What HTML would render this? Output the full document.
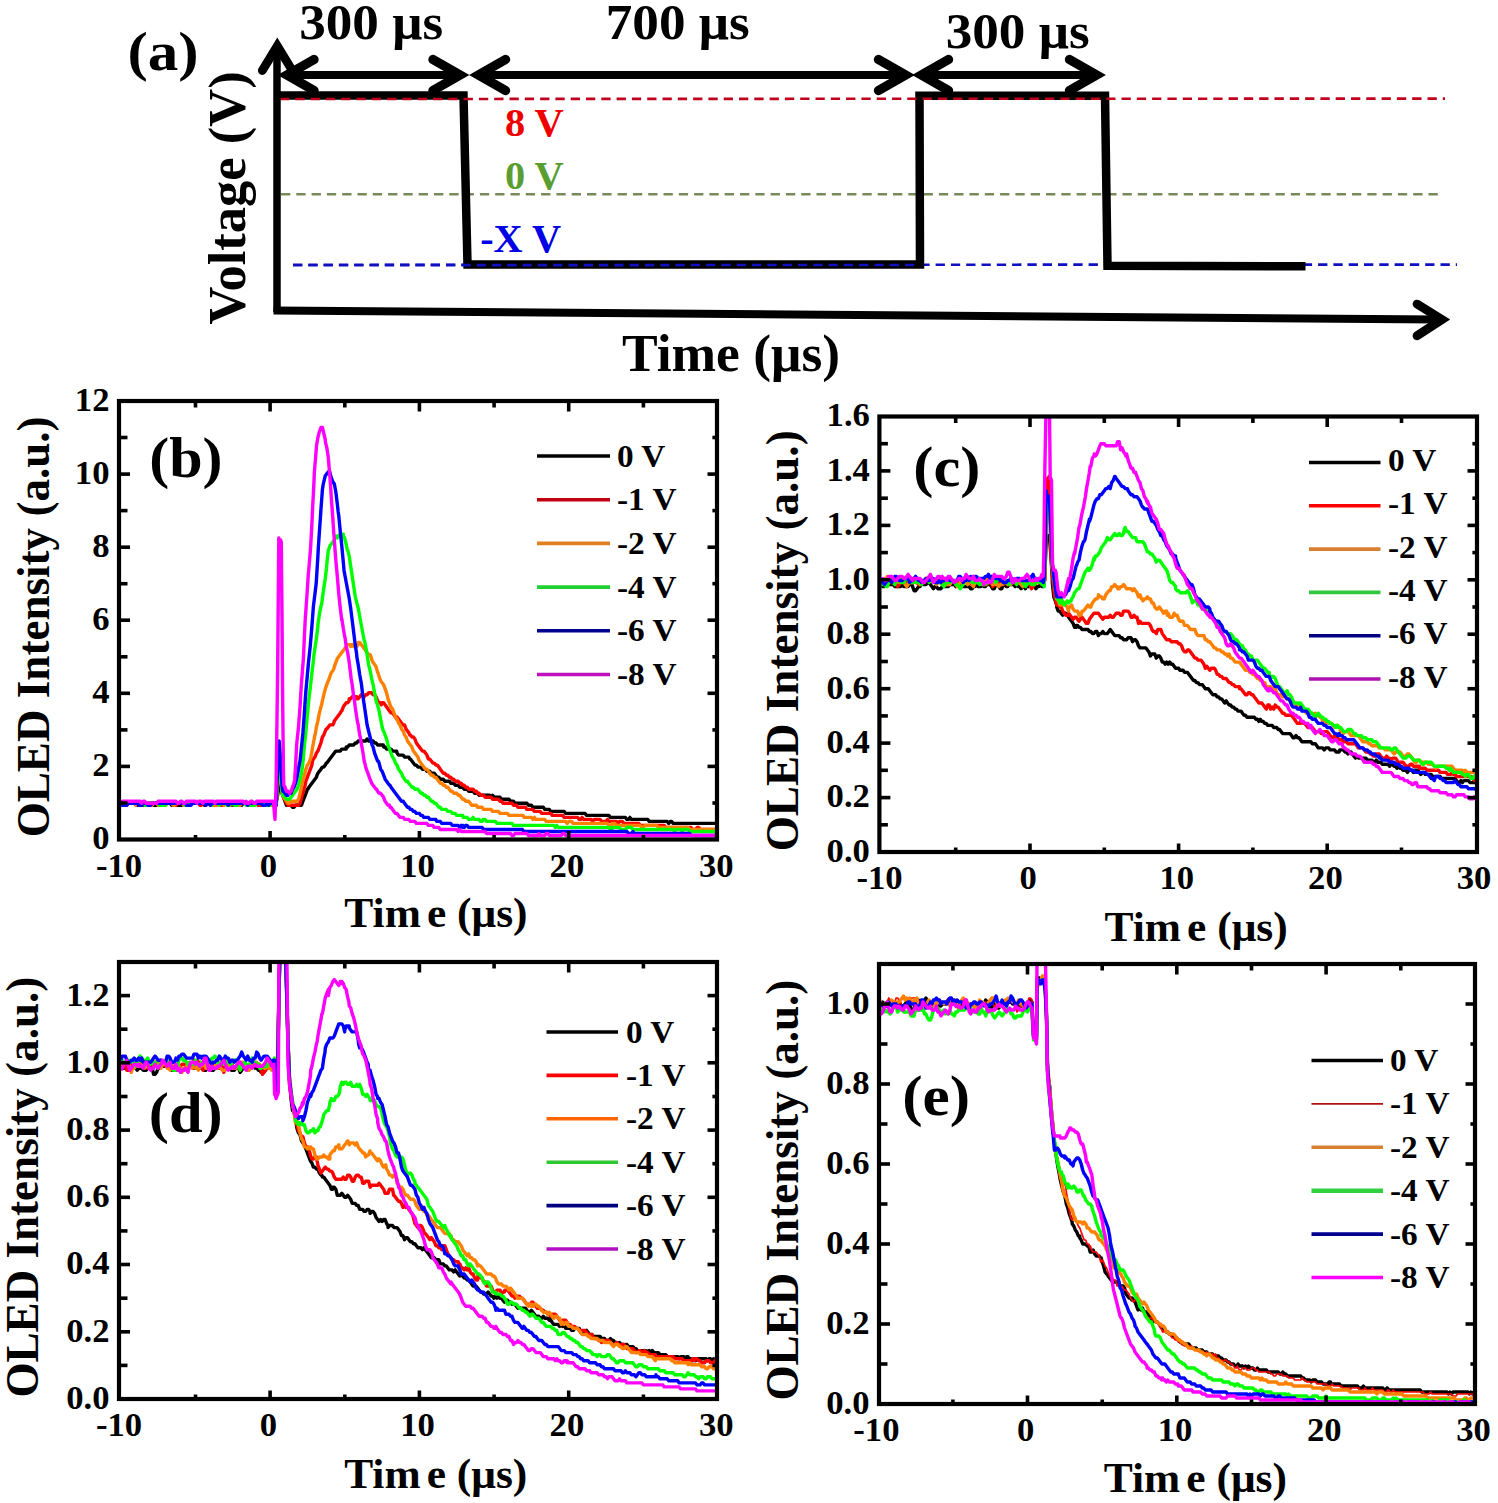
<!DOCTYPE html>
<html><head><meta charset="utf-8"><style>
html,body{margin:0;padding:0;background:#fff;}
svg{display:block;}
text{font-family:"Liberation Serif",serif;font-weight:bold;}
</style></head><body>
<svg width="1498" height="1503" viewBox="0 0 1498 1503">
<rect width="1498" height="1503" fill="#fff"/>
<line x1="281.0" y1="194.3" x2="1442.0" y2="194.3" stroke="#788a5a" stroke-width="2.6" stroke-dasharray="9.3 6"/>
<line x1="293.0" y1="264.8" x2="1457.0" y2="264.6" stroke="#1010c0" stroke-width="2.6" stroke-dasharray="9.3 6"/>
<path d="M277 95.5 L463.5 95.5 L467.5 264.5 L920 264.5 L919.5 95.7 L1105 95.7 L1107.5 265.8 L1305.5 266.3" fill="none" stroke="#000" stroke-width="8.5" stroke-linejoin="miter"/>
<line x1="280.0" y1="99.0" x2="1445.0" y2="98.6" stroke="#c0001e" stroke-width="2.6" stroke-dasharray="9.3 6"/>
<line x1="293.0" y1="265.2" x2="916.0" y2="265.0" stroke="#1010c0" stroke-width="2.6" stroke-dasharray="9.3 6"/>
<path d="M277 312 L277 52" stroke="#000" stroke-width="7.5" fill="none"/>
<path d="M262.3 70.5 L277.3 46 L292.3 70.5" stroke="#000" stroke-width="8.8" fill="none" stroke-linecap="round" stroke-linejoin="miter"/>
<path d="M273.5 310.5 L1438 319.5" stroke="#000" stroke-width="8" fill="none"/>
<path d="M1417 304.1 L1442 319.5 L1417 335.8" stroke="#000" stroke-width="8.8" fill="none" stroke-linecap="round"/>
<path d="M290 75 L457 75" stroke="#000" stroke-width="7.8" fill="none"/>
<path d="M314 59.5 L287 75 L314 90.5" stroke="#000" stroke-width="9.4" fill="none" stroke-linecap="round"/>
<path d="M433 59.5 L460 75 L433 90.5" stroke="#000" stroke-width="9.4" fill="none" stroke-linecap="round"/>
<path d="M481.5 75 L902.5 75" stroke="#000" stroke-width="7.8" fill="none"/>
<path d="M505.5 59.5 L478.5 75 L505.5 90.5" stroke="#000" stroke-width="9.4" fill="none" stroke-linecap="round"/>
<path d="M878.5 59.5 L905.5 75 L878.5 90.5" stroke="#000" stroke-width="9.4" fill="none" stroke-linecap="round"/>
<path d="M924.5 75 L1093.5 75" stroke="#000" stroke-width="7.8" fill="none"/>
<path d="M948.5 59.5 L921.5 75 L948.5 90.5" stroke="#000" stroke-width="9.4" fill="none" stroke-linecap="round"/>
<path d="M1069.5 59.5 L1096.5 75 L1069.5 90.5" stroke="#000" stroke-width="9.4" fill="none" stroke-linecap="round"/>
<text x="0" y="0" font-size="51.3" text-anchor="middle" fill="#000" transform="translate(371.15,39.20) scale(1.037,1.0)">300 μs</text>
<text x="0" y="0" font-size="51.3" text-anchor="middle" fill="#000" transform="translate(677.75,39.20) scale(1.037,1.0)">700 μs</text>
<text x="0" y="0" font-size="51.3" text-anchor="middle" fill="#000" transform="translate(1017.65,48.30) scale(1.037,1.0)">300 μs</text>
<text x="0" y="0" font-size="55.6" text-anchor="middle" fill="#000" transform="translate(163.00,69.60) scale(1.098,1.0)">(a)</text>
<text x="0" y="0" font-size="39.2" text-anchor="middle" fill="#ee0000" transform="translate(534.30,136.30) scale(1.03,1.0)">8 V</text>
<text x="0" y="0" font-size="39.2" text-anchor="middle" fill="#5a9e32" transform="translate(534.30,188.50) scale(1.03,1.0)">0 V</text>
<text x="0" y="0" font-size="39.5" text-anchor="middle" fill="#0000e6" transform="translate(520.60,252.20) scale(1.02,1.0)">-X V</text>
<text x="0" y="0" font-size="52.5" text-anchor="middle" fill="#000" transform="translate(244.60,198.00) rotate(-90) scale(1.0,1.0)">Voltage (V)</text>
<text x="731.0" y="371.1" font-size="53.5" text-anchor="middle" fill="#000">Time (μs)</text>
<clipPath id="clipb"><rect x="119" y="401" width="598" height="438.5"/></clipPath>
<g clip-path="url(#clipb)" fill="none" stroke-width="3.4" stroke-linejoin="round">
<polyline stroke="#000000" points="120.8,803.3 122.3,803.3 123.8,803.3 125.3,803.3 126.8,803.3 128.3,803.3 129.8,803.3 131.3,803.3 132.7,803.3 134.2,803.3 135.7,803.3 137.2,805.3 138.7,803.3 140.2,803.3 141.7,803.3 143.2,805.3 144.7,805.3 146.2,805.3 147.7,803.3 149.2,803.3 150.7,803.3 152.2,803.3 153.6,805.3 155.1,805.3 156.6,805.3 158.1,803.3 159.6,803.3 161.1,803.3 162.6,803.3 164.1,803.3 165.6,803.3 167.1,803.3 168.6,803.3 170.1,803.3 171.6,805.3 173.1,805.3 174.5,805.3 176.0,803.3 177.5,805.3 179.0,805.3 180.5,805.3 182.0,805.3 183.5,803.3 185.0,803.3 186.5,803.3 188.0,803.3 189.5,803.3 191.0,803.3 192.5,803.3 194.0,803.3 195.4,803.3 196.9,803.3 198.4,803.3 199.9,803.3 201.4,803.3 202.9,803.3 204.4,805.3 205.9,805.3 207.4,803.3 208.9,803.3 210.4,805.3 211.9,805.3 213.4,805.3 214.9,803.3 216.4,803.3 217.8,803.3 219.3,803.3 220.8,803.3 222.3,803.3 223.8,803.3 225.3,803.3 226.8,803.3 228.3,803.3 229.8,803.3 231.3,803.3 232.8,805.3 234.3,805.3 235.8,803.3 237.3,803.3 238.7,803.3 240.2,805.3 241.7,805.3 243.2,803.3 244.7,803.3 246.2,803.3 247.7,803.3 249.2,803.3 250.7,803.3 252.2,803.3 253.7,803.3 255.2,803.3 256.7,803.3 258.2,805.3 259.6,805.3 261.1,805.3 262.6,805.3 264.1,805.3 265.6,805.3 267.1,803.3 268.6,803.3 270.1,803.3 271.6,803.3 273.1,803.3 274.6,803.3 276.1,805.3 276.1,803.3 277.6,795.3 279.1,785.2 279.1,785.2 280.6,787.2 282.0,793.3 282.8,795.3 283.5,797.3 285.0,801.3 286.5,805.3 288.0,805.3 288.0,805.3 289.5,805.3 291.0,805.3 292.5,807.3 294.0,807.3 295.5,805.3 297.0,805.3 298.5,805.3 300.0,805.3 300.0,805.3 301.5,805.3 302.9,801.3 304.4,797.3 305.9,793.3 307.4,789.3 307.9,789.3 308.9,787.2 310.4,785.2 311.9,783.2 313.4,781.2 314.9,779.2 316.4,777.2 317.0,775.2 317.9,773.2 319.4,771.2 320.9,769.2 322.4,767.1 323.8,767.1 325.3,765.1 326.2,763.1 326.8,763.1 328.3,761.1 329.8,759.1 331.3,757.1 332.8,755.1 334.3,753.1 335.8,751.1 336.8,751.1 337.3,751.1 338.8,751.1 340.3,751.1 341.8,749.1 343.3,749.1 344.7,749.1 346.1,749.1 346.2,747.0 347.7,747.0 349.2,745.0 350.7,745.0 352.2,745.0 353.7,745.0 353.7,745.0 355.2,743.0 356.7,743.0 358.2,741.0 359.7,741.0 361.2,741.0 361.5,741.0 362.7,741.0 364.2,741.0 365.7,741.0 367.1,739.0 368.6,741.0 370.0,741.0 370.1,741.0 371.6,741.0 373.1,741.0 374.6,743.0 376.1,743.0 377.6,745.0 379.1,745.0 380.6,745.0 382.1,745.0 383.3,745.0 383.6,747.0 385.1,747.0 386.6,749.1 388.0,749.1 389.5,749.1 391.0,749.1 392.5,751.1 394.0,751.1 395.5,751.1 396.6,751.1 397.0,753.1 398.5,755.1 400.0,755.1 401.5,755.1 403.0,755.1 404.5,757.1 406.0,757.1 407.5,757.1 408.9,757.1 409.8,759.1 410.4,759.1 411.9,761.1 413.4,763.1 414.9,765.1 416.4,765.1 417.9,767.1 417.9,767.1 419.4,767.1 420.9,767.1 422.4,769.2 423.9,769.2 425.4,769.2 426.9,771.2 428.4,771.2 429.9,771.2 429.9,773.2 431.3,773.2 432.8,773.2 434.3,773.2 435.8,775.2 437.3,777.2 438.8,777.2 440.3,779.2 441.8,779.2 443.3,779.2 443.3,779.2 444.8,781.2 446.3,781.2 447.8,781.2 449.3,781.2 450.8,783.2 452.2,783.2 453.7,783.2 455.2,785.2 456.4,785.2 456.7,785.2 458.2,785.2 459.7,787.2 461.2,787.2 462.7,787.2 464.2,789.3 465.7,789.3 467.2,789.3 468.7,791.3 470.2,791.3 471.7,791.3 473.1,791.3 474.6,793.3 476.1,793.3 476.4,793.3 477.6,793.3 479.1,795.3 480.6,795.3 482.1,795.3 483.6,795.3 485.1,795.3 486.6,795.3 488.1,795.3 489.6,795.3 491.1,797.3 492.6,795.3 494.0,797.3 495.5,797.3 496.4,797.3 497.0,797.3 498.5,797.3 500.0,797.3 501.5,799.3 503.0,799.3 504.5,799.3 506.0,799.3 507.5,799.3 509.0,799.3 510.5,801.3 512.0,801.3 513.5,801.3 515.0,803.3 516.4,803.3 517.9,803.3 519.4,803.3 520.9,803.3 522.4,803.3 523.0,803.3 523.9,803.3 525.4,803.3 526.9,803.3 528.4,805.3 529.9,805.3 531.4,805.3 532.9,807.3 534.4,807.3 535.9,807.3 537.3,807.3 538.8,807.3 540.3,807.3 541.8,807.3 543.3,807.3 544.8,809.4 546.3,809.4 547.8,809.4 549.3,809.4 550.8,811.4 552.3,811.4 553.8,811.4 555.3,811.4 556.3,811.4 556.8,811.4 558.2,811.4 559.7,811.4 561.2,811.4 562.7,811.4 564.2,811.4 565.7,813.4 567.2,813.4 568.7,813.4 570.2,813.4 571.7,813.4 573.2,813.4 574.7,813.4 576.2,813.4 576.2,813.4 577.7,813.4 579.2,813.4 580.6,813.4 582.1,813.4 583.6,813.4 585.1,813.4 586.6,815.4 588.1,815.4 589.6,815.4 591.1,815.4 592.6,815.4 594.1,815.4 595.6,815.4 597.1,815.4 598.6,815.4 600.1,815.4 601.5,815.4 603.0,815.4 604.5,815.4 606.0,815.4 607.5,815.4 609.0,815.4 610.5,817.4 612.0,817.4 612.0,817.4 613.5,817.4 615.0,817.4 616.5,817.4 618.0,817.4 619.5,817.4 621.0,817.4 622.4,817.4 623.9,817.4 625.4,817.4 626.9,819.4 628.4,819.4 629.9,817.4 631.4,819.4 632.9,819.4 634.4,819.4 635.9,819.4 637.4,819.4 638.9,819.4 640.4,819.4 641.9,819.4 643.3,819.4 644.8,819.4 646.3,819.4 647.8,819.4 647.8,819.4 649.3,821.4 650.8,821.4 652.3,821.4 653.8,821.4 655.3,821.4 656.8,821.4 658.3,821.4 659.8,821.4 661.3,821.4 662.8,821.4 664.3,821.4 665.7,821.4 667.2,821.4 668.7,823.4 670.2,821.4 671.7,821.4 673.2,823.4 674.7,823.4 676.2,823.4 677.7,823.4 679.2,823.4 680.7,823.4 682.2,823.4 683.7,823.4 683.7,823.4 685.2,823.4 686.6,823.4 688.1,823.4 689.6,823.4 691.1,823.4 692.6,823.4 694.1,823.4 695.6,823.4 697.1,823.4 698.6,823.4 700.1,823.4 701.6,823.4 703.1,823.4 704.6,823.4 706.1,823.4 707.5,823.4 709.0,823.4 710.5,823.4 712.0,823.4 713.5,823.4 715.0,823.4 716.5,823.4 718.0,823.4 718.0,823.4"/>
<polyline stroke="#ff0000" points="120.8,803.3 122.3,803.3 123.8,805.3 125.3,805.3 126.8,805.3 128.3,803.3 129.8,803.3 131.3,803.3 132.7,803.3 134.2,803.3 135.7,803.3 137.2,803.3 138.7,803.3 140.2,803.3 141.7,803.3 143.2,803.3 144.7,803.3 146.2,805.3 147.7,805.3 149.2,803.3 150.7,803.3 152.2,803.3 153.6,803.3 155.1,803.3 156.6,803.3 158.1,803.3 159.6,803.3 161.1,803.3 162.6,803.3 164.1,803.3 165.6,803.3 167.1,803.3 168.6,803.3 170.1,803.3 171.6,803.3 173.1,803.3 174.5,805.3 176.0,805.3 177.5,803.3 179.0,803.3 180.5,803.3 182.0,803.3 183.5,803.3 185.0,803.3 186.5,803.3 188.0,803.3 189.5,803.3 191.0,803.3 192.5,803.3 194.0,803.3 195.4,803.3 196.9,803.3 198.4,803.3 199.9,805.3 201.4,805.3 202.9,803.3 204.4,803.3 205.9,803.3 207.4,803.3 208.9,803.3 210.4,805.3 211.9,805.3 213.4,805.3 214.9,805.3 216.4,803.3 217.8,803.3 219.3,803.3 220.8,805.3 222.3,805.3 223.8,803.3 225.3,803.3 226.8,803.3 228.3,803.3 229.8,803.3 231.3,805.3 232.8,803.3 234.3,803.3 235.8,803.3 237.3,805.3 238.7,803.3 240.2,803.3 241.7,803.3 243.2,803.3 244.7,803.3 246.2,803.3 247.7,803.3 249.2,803.3 250.7,803.3 252.2,803.3 253.7,803.3 255.2,803.3 256.7,803.3 258.2,805.3 259.6,805.3 261.1,805.3 262.6,805.3 264.1,803.3 265.6,803.3 267.1,803.3 268.6,803.3 270.1,803.3 271.6,803.3 273.1,803.3 274.6,803.3 276.1,803.3 276.1,803.3 277.6,785.2 279.1,767.1 279.1,765.1 280.6,775.2 282.0,791.3 282.8,795.3 283.5,797.3 285.0,799.3 286.5,803.3 288.0,805.3 289.5,805.3 291.0,805.3 291.0,805.3 292.5,805.3 294.0,805.3 295.5,805.3 297.0,805.3 298.5,805.3 298.5,805.3 300.0,803.3 301.5,797.3 302.9,793.3 304.4,787.2 304.7,787.2 305.9,781.2 307.4,777.2 308.9,773.2 310.4,769.2 311.9,765.1 312.5,761.1 313.4,759.1 314.9,757.1 316.4,753.1 317.9,751.1 318.6,749.1 319.4,747.0 320.9,743.0 322.4,737.0 323.8,735.0 325.3,731.0 326.2,729.0 326.8,729.0 328.3,727.0 329.8,724.9 331.3,724.9 332.8,724.9 333.9,722.9 334.3,720.9 335.8,718.9 337.3,716.9 338.8,714.9 340.3,712.9 341.5,710.9 341.8,710.9 343.3,706.9 344.7,704.8 346.2,702.8 347.7,702.8 349.2,700.8 349.2,698.8 350.7,698.8 352.2,696.8 353.7,696.8 355.2,696.8 356.7,696.8 356.8,698.8 358.2,698.8 359.7,696.8 361.2,694.8 362.7,694.8 364.2,696.8 365.7,694.8 367.1,694.8 368.6,692.8 369.1,692.8 370.1,692.8 371.6,692.8 373.1,694.8 374.6,694.8 376.1,696.8 377.6,700.8 379.1,702.8 380.6,702.8 381.3,704.8 382.1,702.8 383.6,702.8 385.1,704.8 386.6,706.9 388.0,708.9 389.5,710.9 391.0,712.9 392.5,712.9 394.0,714.9 395.5,716.9 396.6,718.9 397.0,716.9 398.5,718.9 400.0,720.9 401.5,722.9 403.0,724.9 404.5,724.9 406.0,729.0 407.5,731.0 408.9,733.0 409.8,735.0 410.4,735.0 411.9,737.0 413.4,737.0 414.9,739.0 416.4,743.0 417.9,745.0 419.4,747.0 420.9,749.1 422.4,751.1 423.1,751.1 423.9,751.1 425.4,753.1 426.9,755.1 428.4,759.1 429.9,759.1 431.3,761.1 432.8,763.1 434.3,763.1 435.8,765.1 436.6,765.1 437.3,765.1 438.8,767.1 440.3,769.2 441.8,771.2 443.3,773.2 444.8,773.2 446.3,775.2 447.8,775.2 449.3,777.2 449.9,777.2 450.8,777.2 452.2,779.2 453.7,779.2 455.2,781.2 456.7,781.2 458.2,781.2 459.7,783.2 461.2,783.2 462.7,785.2 463.1,785.2 464.2,785.2 465.7,787.2 467.2,787.2 468.7,789.3 470.2,789.3 471.7,789.3 473.1,789.3 474.6,791.3 476.1,791.3 476.4,791.3 477.6,793.3 479.1,793.3 480.6,795.3 482.1,795.3 483.6,795.3 485.1,797.3 486.6,797.3 488.1,797.3 489.6,797.3 491.1,797.3 492.6,799.3 494.0,799.3 495.5,799.3 496.4,799.3 497.0,799.3 498.5,799.3 500.0,801.3 501.5,801.3 503.0,803.3 504.5,803.3 506.0,803.3 507.5,803.3 509.0,803.3 510.5,803.3 512.0,803.3 513.5,805.3 515.0,805.3 516.4,805.3 517.9,807.3 519.4,807.3 520.9,807.3 522.4,807.3 523.0,807.3 523.9,807.3 525.4,807.3 526.9,809.4 528.4,809.4 529.9,809.4 531.4,809.4 532.9,809.4 534.4,811.4 535.9,811.4 537.3,811.4 538.8,811.4 540.3,811.4 541.8,813.4 543.3,813.4 544.8,813.4 546.3,813.4 547.8,813.4 549.3,813.4 550.8,813.4 552.3,815.4 553.8,815.4 555.3,815.4 556.3,815.4 556.8,815.4 558.2,815.4 559.7,815.4 561.2,815.4 562.7,815.4 564.2,817.4 565.7,817.4 567.2,817.4 568.7,817.4 570.2,817.4 571.7,817.4 573.2,817.4 574.7,817.4 576.2,817.4 576.2,817.4 577.7,817.4 579.2,819.4 580.6,819.4 582.1,817.4 583.6,819.4 585.1,819.4 586.6,819.4 588.1,819.4 589.6,819.4 591.1,819.4 592.6,821.4 594.1,819.4 595.6,819.4 597.1,819.4 598.6,819.4 600.1,819.4 601.5,821.4 603.0,821.4 604.5,821.4 606.0,821.4 607.5,819.4 609.0,821.4 610.5,821.4 612.0,821.4 612.0,821.4 613.5,821.4 615.0,821.4 616.5,821.4 618.0,823.4 619.5,821.4 621.0,821.4 622.4,821.4 623.9,823.4 625.4,823.4 626.9,823.4 628.4,823.4 629.9,823.4 631.4,823.4 632.9,823.4 634.4,823.4 635.9,823.4 637.4,823.4 638.9,823.4 640.4,825.4 641.9,825.4 643.3,825.4 644.8,825.4 646.3,825.4 647.8,825.4 647.8,825.4 649.3,825.4 650.8,825.4 652.3,825.4 653.8,825.4 655.3,825.4 656.8,825.4 658.3,825.4 659.8,825.4 661.3,825.4 662.8,825.4 664.3,825.4 665.7,827.4 667.2,827.4 668.7,827.4 670.2,827.4 671.7,827.4 673.2,827.4 674.7,827.4 676.2,827.4 677.7,827.4 679.2,827.4 680.7,827.4 682.2,827.4 683.7,827.4 683.7,827.4 685.2,827.4 686.6,827.4 688.1,827.4 689.6,827.4 691.1,827.4 692.6,829.5 694.1,829.5 695.6,829.5 697.1,827.4 698.6,827.4 700.1,829.5 701.6,829.5 703.1,829.5 704.6,829.5 706.1,829.5 707.5,829.5 709.0,829.5 710.5,829.5 712.0,829.5 713.5,829.5 715.0,829.5 716.5,829.5 718.0,829.5 718.0,829.5"/>
<polyline stroke="#ff8000" points="120.8,803.3 122.3,805.3 123.8,805.3 125.3,803.3 126.8,803.3 128.3,803.3 129.8,803.3 131.3,803.3 132.7,803.3 134.2,803.3 135.7,805.3 137.2,803.3 138.7,803.3 140.2,803.3 141.7,803.3 143.2,803.3 144.7,803.3 146.2,803.3 147.7,803.3 149.2,803.3 150.7,803.3 152.2,805.3 153.6,803.3 155.1,803.3 156.6,803.3 158.1,805.3 159.6,805.3 161.1,805.3 162.6,805.3 164.1,805.3 165.6,805.3 167.1,803.3 168.6,803.3 170.1,803.3 171.6,803.3 173.1,805.3 174.5,805.3 176.0,803.3 177.5,803.3 179.0,803.3 180.5,803.3 182.0,803.3 183.5,805.3 185.0,803.3 186.5,803.3 188.0,803.3 189.5,805.3 191.0,803.3 192.5,803.3 194.0,803.3 195.4,803.3 196.9,803.3 198.4,803.3 199.9,803.3 201.4,803.3 202.9,803.3 204.4,803.3 205.9,803.3 207.4,803.3 208.9,803.3 210.4,803.3 211.9,805.3 213.4,805.3 214.9,805.3 216.4,805.3 217.8,805.3 219.3,803.3 220.8,803.3 222.3,803.3 223.8,805.3 225.3,803.3 226.8,805.3 228.3,803.3 229.8,803.3 231.3,803.3 232.8,803.3 234.3,803.3 235.8,803.3 237.3,805.3 238.7,805.3 240.2,805.3 241.7,803.3 243.2,803.3 244.7,803.3 246.2,803.3 247.7,803.3 249.2,803.3 250.7,803.3 252.2,803.3 253.7,803.3 255.2,803.3 256.7,803.3 258.2,803.3 259.6,803.3 261.1,803.3 262.6,805.3 264.1,805.3 265.6,805.3 267.1,805.3 268.6,803.3 270.1,805.3 271.6,805.3 273.1,805.3 274.6,803.3 276.1,803.3 276.1,803.3 277.6,783.2 279.1,765.1 279.1,767.1 280.6,777.2 282.0,791.3 282.8,795.3 283.5,797.3 285.0,799.3 286.5,801.3 288.0,803.3 289.5,803.3 289.5,803.3 291.0,801.3 292.5,801.3 294.0,801.3 295.5,801.3 297.0,801.3 297.0,801.3 298.5,799.3 300.0,793.3 301.5,787.2 302.9,779.2 303.2,779.2 304.4,775.2 305.9,769.2 307.4,765.1 308.9,763.1 310.4,759.1 310.9,757.1 311.9,751.1 313.4,743.0 314.9,735.0 315.5,733.0 316.4,727.0 317.9,720.9 319.4,712.9 320.9,706.9 321.6,704.8 322.4,700.8 323.8,694.8 325.3,688.8 326.8,684.7 328.3,680.7 329.2,678.7 329.8,676.7 331.3,672.7 332.8,670.7 333.9,668.7 334.3,666.7 335.8,662.6 337.3,658.6 338.8,656.6 340.3,654.6 341.5,652.6 341.8,652.6 343.3,650.6 344.7,648.6 346.2,646.6 347.7,644.6 349.2,644.6 350.7,644.6 350.7,646.6 352.2,644.6 353.7,646.6 355.2,644.6 356.7,646.6 358.2,644.6 358.3,642.5 359.7,642.5 361.2,644.6 362.7,646.6 364.2,648.6 364.2,648.6 365.7,650.6 367.1,652.6 368.6,654.6 370.1,654.6 371.6,658.6 372.1,660.6 373.1,662.6 374.6,664.6 376.1,666.7 377.6,672.7 378.0,672.7 379.1,676.7 380.6,680.7 382.1,682.7 383.6,684.7 385.1,688.8 386.6,692.8 388.0,698.8 389.5,702.8 390.0,704.8 391.0,706.9 392.5,708.9 394.0,712.9 395.5,716.9 397.0,718.9 398.5,722.9 400.0,724.9 401.5,729.0 403.0,731.0 403.3,731.0 404.5,735.0 406.0,737.0 407.5,741.0 408.9,743.0 410.4,745.0 411.9,747.0 413.4,751.1 414.9,753.1 416.4,755.1 416.6,755.1 417.9,757.1 419.4,761.1 420.9,763.1 422.4,765.1 423.9,767.1 425.4,769.2 426.9,769.2 428.4,771.2 429.9,773.2 429.9,773.2 431.3,775.2 432.8,775.2 434.3,777.2 435.8,777.2 437.3,779.2 438.8,781.2 440.3,783.2 441.8,783.2 443.3,785.2 443.3,785.2 444.8,785.2 446.3,787.2 447.8,787.2 449.3,789.3 450.8,791.3 452.2,791.3 453.7,793.3 455.2,793.3 456.4,793.3 456.7,793.3 458.2,795.3 459.7,795.3 461.2,797.3 462.7,799.3 464.2,799.3 465.7,801.3 467.2,801.3 468.7,801.3 470.2,803.3 471.7,805.3 473.1,805.3 474.6,805.3 476.1,805.3 476.4,805.3 477.6,807.3 479.1,807.3 480.6,807.3 482.1,807.3 483.6,809.4 485.1,809.4 486.6,809.4 488.1,809.4 489.6,809.4 491.1,809.4 492.6,811.4 494.0,811.4 495.5,811.4 496.4,811.4 497.0,811.4 498.5,811.4 500.0,813.4 501.5,813.4 503.0,813.4 504.5,813.4 506.0,813.4 507.5,813.4 509.0,815.4 510.5,815.4 512.0,815.4 513.5,815.4 515.0,815.4 516.4,815.4 517.9,815.4 519.4,815.4 520.9,815.4 522.4,815.4 523.0,815.4 523.9,817.4 525.4,817.4 526.9,817.4 528.4,817.4 529.9,817.4 531.4,817.4 532.9,819.4 534.4,817.4 535.9,819.4 537.3,819.4 538.8,819.4 540.3,819.4 541.8,819.4 543.3,819.4 544.8,819.4 546.3,821.4 547.8,821.4 549.3,821.4 550.8,821.4 552.3,821.4 553.8,821.4 555.3,821.4 556.3,821.4 556.8,821.4 558.2,821.4 559.7,821.4 561.2,821.4 562.7,821.4 564.2,821.4 565.7,821.4 567.2,823.4 568.7,821.4 570.2,821.4 571.7,821.4 573.2,823.4 574.7,823.4 576.2,823.4 577.7,823.4 579.2,823.4 580.6,823.4 582.1,823.4 583.6,823.4 585.1,823.4 586.6,823.4 588.1,823.4 589.6,823.4 591.1,823.4 592.6,823.4 594.1,823.4 595.6,823.4 597.1,823.4 598.6,823.4 600.1,823.4 601.5,823.4 603.0,823.4 604.5,823.4 606.0,823.4 607.5,823.4 609.0,825.4 610.5,825.4 612.0,825.4 612.0,823.4 613.5,823.4 615.0,823.4 616.5,825.4 618.0,825.4 619.5,825.4 621.0,825.4 622.4,825.4 623.9,825.4 625.4,825.4 626.9,825.4 628.4,825.4 629.9,825.4 631.4,825.4 632.9,825.4 634.4,825.4 635.9,825.4 637.4,825.4 638.9,825.4 640.4,825.4 641.9,827.4 643.3,827.4 644.8,825.4 646.3,825.4 647.8,825.4 647.8,825.4 649.3,825.4 650.8,825.4 652.3,825.4 653.8,825.4 655.3,825.4 656.8,825.4 658.3,827.4 659.8,827.4 661.3,827.4 662.8,827.4 664.3,827.4 665.7,827.4 667.2,827.4 668.7,827.4 670.2,827.4 671.7,827.4 673.2,827.4 674.7,827.4 676.2,827.4 677.7,827.4 679.2,827.4 680.7,827.4 682.2,827.4 683.7,827.4 685.2,827.4 686.6,827.4 688.1,827.4 689.6,829.5 691.1,829.5 692.6,829.5 694.1,829.5 695.6,829.5 697.1,829.5 698.6,829.5 700.1,829.5 701.6,829.5 703.1,829.5 704.6,829.5 706.1,829.5 707.5,829.5 709.0,829.5 710.5,829.5 712.0,829.5 713.5,829.5 715.0,829.5 716.5,829.5 718.0,829.5 718.0,829.5"/>
<polyline stroke="#00ff00" points="120.8,803.3 122.3,803.3 123.8,805.3 125.3,803.3 126.8,803.3 128.3,803.3 129.8,803.3 131.3,803.3 132.7,803.3 134.2,803.3 135.7,803.3 137.2,803.3 138.7,803.3 140.2,803.3 141.7,803.3 143.2,803.3 144.7,805.3 146.2,805.3 147.7,805.3 149.2,803.3 150.7,803.3 152.2,803.3 153.6,803.3 155.1,803.3 156.6,803.3 158.1,803.3 159.6,805.3 161.1,805.3 162.6,805.3 164.1,805.3 165.6,805.3 167.1,803.3 168.6,803.3 170.1,803.3 171.6,803.3 173.1,803.3 174.5,803.3 176.0,803.3 177.5,803.3 179.0,803.3 180.5,803.3 182.0,803.3 183.5,803.3 185.0,805.3 186.5,805.3 188.0,805.3 189.5,803.3 191.0,803.3 192.5,803.3 194.0,803.3 195.4,803.3 196.9,803.3 198.4,803.3 199.9,803.3 201.4,803.3 202.9,803.3 204.4,803.3 205.9,803.3 207.4,803.3 208.9,803.3 210.4,803.3 211.9,805.3 213.4,803.3 214.9,803.3 216.4,803.3 217.8,803.3 219.3,805.3 220.8,803.3 222.3,803.3 223.8,803.3 225.3,803.3 226.8,805.3 228.3,805.3 229.8,805.3 231.3,803.3 232.8,803.3 234.3,805.3 235.8,805.3 237.3,805.3 238.7,803.3 240.2,803.3 241.7,803.3 243.2,803.3 244.7,803.3 246.2,805.3 247.7,805.3 249.2,805.3 250.7,805.3 252.2,805.3 253.7,805.3 255.2,805.3 256.7,803.3 258.2,803.3 259.6,803.3 261.1,803.3 262.6,803.3 264.1,803.3 265.6,803.3 267.1,805.3 268.6,803.3 270.1,805.3 271.6,803.3 273.1,803.3 274.6,803.3 276.1,805.3 276.1,805.3 277.6,781.2 279.1,759.1 279.1,759.1 280.6,771.2 282.0,791.3 282.8,795.3 283.5,795.3 285.0,797.3 286.5,799.3 288.0,799.3 288.0,799.3 289.5,799.3 291.0,797.3 292.5,795.3 294.0,793.3 295.5,791.3 295.5,791.3 297.0,789.3 298.5,785.2 300.0,779.2 301.5,773.2 301.8,771.2 302.9,763.1 304.4,745.0 305.6,735.0 305.9,731.0 307.4,714.9 308.9,698.8 309.4,694.8 310.4,686.8 311.9,672.7 313.4,660.6 314.0,654.6 314.9,648.6 316.4,638.5 317.9,626.5 317.9,624.5 319.4,614.4 320.9,606.4 321.6,604.4 322.4,598.3 323.8,588.3 325.3,578.2 326.5,568.2 326.8,564.2 328.3,550.1 328.6,550.1 329.8,546.1 331.3,544.1 331.3,544.1 332.8,542.1 334.3,540.0 335.8,536.0 337.3,538.0 337.3,536.0 338.8,536.0 340.3,534.0 341.8,536.0 343.3,534.0 343.3,536.0 344.7,538.0 345.0,540.0 346.2,544.1 347.3,550.1 347.7,550.1 349.2,556.1 349.8,560.1 350.7,566.2 352.2,576.2 353.7,586.3 354.3,590.3 355.2,596.3 356.7,602.3 358.2,608.4 358.3,608.4 359.7,616.4 361.2,624.5 362.7,632.5 364.2,640.5 364.5,640.5 365.7,646.6 367.1,654.6 368.6,664.6 370.1,670.7 370.6,672.7 371.6,678.7 373.1,684.7 374.6,692.8 376.1,700.8 376.7,702.8 377.6,704.8 379.1,710.9 380.6,718.9 382.1,727.0 383.3,731.0 383.6,731.0 385.1,735.0 386.6,739.0 388.0,745.0 389.5,749.1 391.0,753.1 392.5,757.1 392.5,757.1 394.0,759.1 395.5,763.1 397.0,765.1 398.5,769.2 400.0,771.2 401.5,773.2 403.0,777.2 403.3,777.2 404.5,779.2 406.0,781.2 407.5,781.2 408.9,783.2 410.4,785.2 411.9,787.2 413.4,787.2 414.9,789.3 416.4,789.3 416.6,789.3 417.9,789.3 419.4,791.3 420.9,793.3 422.4,793.3 423.9,795.3 425.4,795.3 426.9,797.3 428.4,797.3 429.9,799.3 429.9,799.3 431.3,801.3 432.8,801.3 434.3,803.3 435.8,803.3 437.3,805.3 438.8,807.3 440.3,807.3 441.8,809.4 443.3,809.4 443.3,809.4 444.8,809.4 446.3,809.4 447.8,811.4 449.3,811.4 450.8,811.4 452.2,813.4 453.7,813.4 455.2,813.4 456.7,815.4 458.2,815.4 459.7,815.4 461.2,815.4 462.7,815.4 463.1,817.4 464.2,817.4 465.7,817.4 467.2,817.4 468.7,819.4 470.2,819.4 471.7,819.4 473.1,817.4 474.6,819.4 476.1,819.4 477.6,819.4 479.1,819.4 480.6,821.4 482.1,821.4 483.2,819.4 483.6,819.4 485.1,819.4 486.6,821.4 488.1,821.4 489.6,821.4 491.1,821.4 492.6,821.4 494.0,821.4 495.5,821.4 497.0,823.4 498.5,823.4 500.0,823.4 501.5,823.4 503.0,823.4 504.5,823.4 506.0,823.4 507.5,823.4 509.0,823.4 509.7,823.4 510.5,823.4 512.0,823.4 513.5,825.4 515.0,825.4 516.4,825.4 517.9,825.4 519.4,825.4 520.9,825.4 522.4,825.4 523.9,825.4 525.4,825.4 526.9,825.4 528.4,825.4 529.9,825.4 531.4,825.4 532.9,825.4 534.4,825.4 535.9,825.4 537.3,825.4 538.8,825.4 538.8,825.4 540.3,825.4 541.8,825.4 543.3,825.4 544.8,825.4 546.3,825.4 547.8,825.4 549.3,825.4 550.8,825.4 552.3,825.4 553.8,825.4 555.3,827.4 556.8,825.4 558.2,827.4 559.7,827.4 561.2,827.4 562.7,827.4 564.2,827.4 565.7,827.4 567.2,827.4 568.7,827.4 570.2,827.4 571.7,827.4 573.2,827.4 574.7,827.4 576.2,827.4 577.7,827.4 579.2,827.4 580.6,827.4 582.1,827.4 583.6,827.4 585.1,827.4 586.6,827.4 588.1,827.4 589.6,827.4 591.1,827.4 592.6,827.4 594.1,827.4 595.6,827.4 597.1,827.4 598.6,827.4 600.1,827.4 601.5,827.4 603.0,827.4 604.5,827.4 606.0,827.4 607.5,827.4 609.0,827.4 610.5,829.5 612.0,829.5 612.0,827.4 613.5,827.4 615.0,827.4 616.5,827.4 618.0,827.4 619.5,827.4 621.0,829.5 622.4,829.5 623.9,829.5 625.4,829.5 626.9,827.4 628.4,827.4 629.9,827.4 631.4,827.4 632.9,829.5 634.4,829.5 635.9,829.5 637.4,829.5 638.9,829.5 640.4,829.5 641.9,829.5 643.3,829.5 644.8,829.5 646.3,829.5 647.8,829.5 649.3,829.5 650.8,829.5 652.3,829.5 653.8,829.5 655.3,829.5 656.8,829.5 658.3,829.5 659.8,829.5 661.3,829.5 662.8,829.5 664.3,829.5 665.7,829.5 667.2,829.5 668.7,829.5 670.2,829.5 671.7,829.5 673.2,829.5 674.7,831.5 676.2,829.5 677.7,829.5 679.2,829.5 680.7,829.5 682.2,831.5 683.7,829.5 685.2,829.5 686.6,829.5 688.1,829.5 689.6,831.5 691.1,831.5 692.6,831.5 694.1,831.5 695.6,831.5 697.1,831.5 698.6,831.5 700.1,831.5 701.6,831.5 703.1,831.5 704.6,831.5 706.1,831.5 707.5,831.5 709.0,831.5 710.5,831.5 712.0,831.5 713.5,831.5 715.0,831.5 716.5,831.5 718.0,831.5 718.0,831.5"/>
<polyline stroke="#0000ff" points="120.8,805.3 122.3,805.3 123.8,805.3 125.3,805.3 126.8,805.3 128.3,803.3 129.8,803.3 131.3,803.3 132.7,803.3 134.2,803.3 135.7,803.3 137.2,803.3 138.7,805.3 140.2,805.3 141.7,805.3 143.2,803.3 144.7,803.3 146.2,803.3 147.7,805.3 149.2,805.3 150.7,805.3 152.2,803.3 153.6,803.3 155.1,803.3 156.6,803.3 158.1,803.3 159.6,803.3 161.1,803.3 162.6,803.3 164.1,803.3 165.6,803.3 167.1,803.3 168.6,803.3 170.1,803.3 171.6,803.3 173.1,803.3 174.5,803.3 176.0,803.3 177.5,803.3 179.0,803.3 180.5,803.3 182.0,803.3 183.5,803.3 185.0,803.3 186.5,805.3 188.0,805.3 189.5,805.3 191.0,805.3 192.5,803.3 194.0,803.3 195.4,803.3 196.9,803.3 198.4,803.3 199.9,803.3 201.4,803.3 202.9,803.3 204.4,803.3 205.9,805.3 207.4,803.3 208.9,803.3 210.4,805.3 211.9,803.3 213.4,803.3 214.9,803.3 216.4,803.3 217.8,803.3 219.3,803.3 220.8,803.3 222.3,803.3 223.8,803.3 225.3,803.3 226.8,803.3 228.3,805.3 229.8,803.3 231.3,803.3 232.8,803.3 234.3,803.3 235.8,803.3 237.3,803.3 238.7,803.3 240.2,803.3 241.7,803.3 243.2,803.3 244.7,803.3 246.2,803.3 247.7,805.3 249.2,803.3 250.7,803.3 252.2,803.3 253.7,803.3 255.2,803.3 256.7,803.3 258.2,803.3 259.6,803.3 261.1,803.3 262.6,805.3 264.1,805.3 265.6,805.3 267.1,803.3 268.6,805.3 270.1,803.3 271.6,803.3 273.1,803.3 274.6,803.3 276.1,805.3 276.1,803.3 277.6,771.2 279.1,741.0 279.1,741.0 280.6,759.1 282.0,785.2 282.8,791.3 283.5,791.3 285.0,793.3 286.5,795.3 288.0,795.3 288.0,793.3 289.5,793.3 291.0,793.3 292.5,789.3 294.0,787.2 294.7,785.2 295.5,783.2 297.0,777.2 298.5,769.2 299.5,763.1 300.0,761.1 301.5,747.0 302.9,733.0 302.9,733.0 304.4,712.9 305.3,698.8 305.9,690.8 307.4,674.7 308.5,662.6 308.9,658.6 310.4,644.6 310.7,640.5 311.9,626.5 313.1,610.4 313.4,606.4 314.9,594.3 316.1,584.3 316.4,580.2 317.9,556.1 318.3,548.1 319.4,532.0 320.4,517.9 320.9,509.9 322.4,489.8 323.3,483.8 323.8,481.8 325.3,475.7 326.8,473.7 326.8,473.7 328.3,471.7 329.8,471.7 330.1,473.7 331.3,477.7 332.8,481.8 334.1,483.8 334.3,483.8 335.8,491.8 337.3,503.9 338.2,511.9 338.8,515.9 340.3,532.0 341.2,540.0 341.8,546.1 343.3,562.1 344.0,570.2 344.7,574.2 346.2,582.2 347.7,590.3 347.7,590.3 349.2,598.3 350.7,608.4 350.7,608.4 352.2,620.4 353.7,632.5 355.2,644.6 356.7,654.6 356.8,656.6 358.2,664.6 359.7,674.7 361.2,682.7 361.5,684.7 362.7,694.8 364.2,704.8 365.7,714.9 366.0,716.9 367.1,724.9 368.6,731.0 370.1,737.0 371.6,743.0 372.1,745.0 373.1,747.0 374.6,753.1 376.1,757.1 377.6,761.1 378.3,761.1 379.1,763.1 380.6,769.2 382.1,771.2 383.6,775.2 384.5,777.2 385.1,779.2 386.6,781.2 388.0,783.2 389.5,785.2 390.0,785.2 391.0,787.2 392.5,789.3 394.0,791.3 395.5,793.3 397.0,795.3 398.5,797.3 400.0,799.3 401.5,801.3 403.0,801.3 403.3,801.3 404.5,803.3 406.0,805.3 407.5,807.3 408.9,807.3 410.4,809.4 411.9,809.4 413.4,811.4 414.9,811.4 416.4,813.4 416.6,813.4 417.9,813.4 419.4,813.4 420.9,815.4 422.4,815.4 423.9,817.4 425.4,817.4 426.9,817.4 428.4,817.4 429.9,819.4 431.3,819.4 432.8,819.4 434.3,819.4 435.8,819.4 436.6,821.4 437.3,821.4 438.8,821.4 440.3,821.4 441.8,823.4 443.3,823.4 444.8,823.4 446.3,823.4 447.8,823.4 449.3,823.4 450.8,823.4 452.2,825.4 453.7,825.4 455.2,825.4 456.7,825.4 458.2,825.4 459.7,827.4 461.2,825.4 462.7,827.4 463.1,825.4 464.2,827.4 465.7,825.4 467.2,825.4 468.7,827.4 470.2,827.4 471.7,827.4 473.1,827.4 474.6,827.4 476.1,827.4 477.6,827.4 479.1,827.4 480.6,827.4 482.1,827.4 483.6,829.5 485.1,829.5 486.6,829.5 488.1,829.5 489.6,829.5 489.9,829.5 491.1,829.5 492.6,829.5 494.0,829.5 495.5,829.5 497.0,829.5 498.5,829.5 500.0,829.5 501.5,829.5 503.0,829.5 504.5,829.5 506.0,829.5 507.5,829.5 509.0,829.5 510.5,829.5 512.0,829.5 513.5,829.5 515.0,829.5 516.4,829.5 517.9,829.5 519.4,829.5 520.9,829.5 522.4,829.5 523.9,831.5 525.4,831.5 526.9,831.5 528.4,831.5 529.7,831.5 529.9,831.5 531.4,831.5 532.9,831.5 534.4,831.5 535.9,831.5 537.3,831.5 538.8,831.5 540.3,831.5 541.8,831.5 543.3,831.5 544.8,831.5 546.3,831.5 547.8,831.5 549.3,831.5 550.8,831.5 552.3,831.5 553.8,831.5 555.3,831.5 556.8,831.5 558.2,831.5 559.7,831.5 561.2,831.5 562.7,831.5 564.2,831.5 565.7,831.5 567.2,831.5 568.7,831.5 570.2,831.5 571.7,831.5 573.2,831.5 574.7,831.5 576.2,831.5 577.7,831.5 579.2,831.5 580.6,831.5 582.1,831.5 583.6,831.5 585.1,831.5 586.6,831.5 588.1,831.5 589.6,831.5 591.1,831.5 592.6,831.5 594.1,831.5 595.6,831.5 597.1,831.5 598.6,831.5 600.1,831.5 601.5,831.5 603.0,831.5 604.5,831.5 606.0,831.5 607.5,831.5 609.0,831.5 610.5,831.5 612.0,831.5 612.0,831.5 613.5,831.5 615.0,831.5 616.5,831.5 618.0,831.5 619.5,831.5 621.0,831.5 622.4,831.5 623.9,831.5 625.4,831.5 626.9,831.5 628.4,833.5 629.9,833.5 631.4,833.5 632.9,831.5 634.4,833.5 635.9,833.5 637.4,833.5 638.9,833.5 640.4,833.5 641.9,833.5 643.3,833.5 644.8,833.5 646.3,833.5 647.8,833.5 649.3,833.5 650.8,833.5 652.3,833.5 653.8,833.5 655.3,833.5 656.8,833.5 658.3,833.5 659.8,833.5 661.3,833.5 662.8,833.5 664.3,833.5 665.7,833.5 667.2,833.5 668.7,833.5 670.2,833.5 671.7,833.5 673.2,833.5 674.7,833.5 676.2,833.5 677.7,833.5 679.2,833.5 680.7,833.5 682.2,833.5 683.7,833.5 685.2,833.5 686.6,833.5 688.1,833.5 689.6,833.5 691.1,835.5 692.6,835.5 694.1,835.5 695.6,835.5 697.1,835.5 698.6,835.5 700.1,835.5 701.6,835.5 703.1,835.5 704.6,835.5 706.1,835.5 707.5,835.5 709.0,835.5 710.5,835.5 712.0,835.5 713.5,835.5 715.0,835.5 716.5,835.5 718.0,835.5 718.0,835.5"/>
<polyline stroke="#ff00ff" points="120.8,803.3 122.3,801.3 123.8,801.3 125.3,801.3 126.8,801.3 128.3,801.3 129.8,801.3 131.3,801.3 132.7,801.3 134.2,801.3 135.7,801.3 137.2,801.3 138.7,801.3 140.2,801.3 141.7,803.3 143.2,801.3 144.7,801.3 146.2,803.3 147.7,803.3 149.2,803.3 150.7,803.3 152.2,803.3 153.6,803.3 155.1,803.3 156.6,803.3 158.1,801.3 159.6,801.3 161.1,801.3 162.6,801.3 164.1,801.3 165.6,801.3 167.1,801.3 168.6,801.3 170.1,801.3 171.6,801.3 173.1,801.3 174.5,801.3 176.0,801.3 177.5,803.3 179.0,803.3 180.5,801.3 182.0,801.3 183.5,803.3 185.0,803.3 186.5,801.3 188.0,801.3 189.5,801.3 191.0,801.3 192.5,801.3 194.0,801.3 195.4,801.3 196.9,803.3 198.4,801.3 199.9,801.3 201.4,801.3 202.9,803.3 204.4,801.3 205.9,801.3 207.4,801.3 208.9,801.3 210.4,801.3 211.9,801.3 213.4,801.3 214.9,803.3 216.4,801.3 217.8,801.3 219.3,801.3 220.8,801.3 222.3,801.3 223.8,801.3 225.3,801.3 226.8,801.3 228.3,801.3 229.8,801.3 231.3,801.3 232.8,801.3 234.3,801.3 235.8,801.3 237.3,801.3 238.7,801.3 240.2,801.3 241.7,801.3 243.2,801.3 244.7,803.3 246.2,801.3 247.7,803.3 249.2,803.3 250.7,801.3 252.2,801.3 253.7,803.3 255.2,803.3 256.7,801.3 258.2,801.3 259.6,801.3 261.1,801.3 262.6,801.3 264.1,801.3 265.6,801.3 267.1,801.3 268.6,801.3 270.1,801.3 271.6,801.3 273.1,801.3 273.4,801.3 274.6,815.4 275.0,819.4 276.1,785.2 277.6,672.7 277.6,674.7 278.8,538.0 279.1,540.0 280.6,540.0 281.3,542.1 282.0,614.4 282.6,694.8 283.5,775.2 283.8,785.2 285.0,787.2 286.5,791.3 288.0,791.3 289.5,793.3 289.5,793.3 291.0,791.3 292.5,787.2 294.0,783.2 294.7,779.2 295.5,767.1 296.4,749.1 297.0,741.0 298.5,727.0 298.8,722.9 300.0,706.9 301.2,686.8 301.5,682.7 302.9,664.6 303.4,658.6 304.4,636.5 305.3,618.4 305.9,610.4 307.4,588.3 308.3,574.2 308.9,568.2 310.4,550.1 310.7,546.1 311.9,524.0 312.9,501.9 313.4,493.8 314.3,473.7 314.9,465.7 316.4,447.6 316.5,445.6 317.9,437.5 319.4,431.5 319.4,431.5 320.9,427.5 321.2,427.5 322.4,427.5 323.8,433.5 325.3,439.6 325.3,441.6 326.8,447.6 328.3,457.6 328.3,457.6 329.8,475.7 330.7,487.8 331.3,497.8 332.8,517.9 333.7,532.0 334.3,540.0 335.8,560.1 337.3,576.2 337.3,576.2 338.8,594.3 340.3,608.4 341.8,620.4 341.8,618.4 343.3,628.5 344.7,636.5 345.2,638.5 346.2,646.6 347.7,652.6 348.3,656.6 349.2,662.6 350.7,674.7 351.2,678.7 352.2,684.7 353.7,696.8 354.2,698.8 355.2,706.9 356.7,716.9 357.3,720.9 358.2,724.9 359.7,735.0 360.3,737.0 361.2,743.0 362.7,751.1 364.2,761.1 364.8,763.1 365.7,767.1 367.1,771.2 368.6,775.2 370.0,779.2 370.1,779.2 371.6,783.2 373.1,785.2 374.6,787.2 376.1,789.3 376.7,789.3 377.6,791.3 379.1,793.3 380.6,793.3 382.1,795.3 383.6,797.3 385.1,801.3 386.6,803.3 388.0,805.3 389.5,805.3 390.0,807.3 391.0,807.3 392.5,809.4 394.0,811.4 395.5,813.4 397.0,813.4 398.5,815.4 400.0,817.4 401.5,817.4 403.0,817.4 403.3,817.4 404.5,819.4 406.0,819.4 407.5,819.4 408.9,819.4 410.4,821.4 411.9,821.4 413.4,821.4 414.9,821.4 416.4,823.4 417.9,823.4 419.4,823.4 420.9,823.4 422.4,823.4 423.1,823.4 423.9,823.4 425.4,823.4 426.9,823.4 428.4,825.4 429.9,825.4 431.3,825.4 432.8,825.4 434.3,827.4 435.8,827.4 437.3,827.4 438.8,827.4 440.3,829.5 441.8,829.5 443.3,829.5 443.3,829.5 444.8,829.5 446.3,829.5 447.8,829.5 449.3,829.5 450.8,829.5 452.2,829.5 453.7,829.5 455.2,829.5 456.7,829.5 458.2,831.5 459.7,829.5 461.2,831.5 462.7,831.5 464.2,831.5 465.7,831.5 467.2,831.5 468.7,831.5 470.2,831.5 471.7,831.5 473.1,831.5 474.6,831.5 476.1,831.5 476.4,831.5 477.6,831.5 479.1,831.5 480.6,831.5 482.1,831.5 483.6,831.5 485.1,831.5 486.6,833.5 488.1,833.5 489.6,833.5 491.1,833.5 492.6,833.5 494.0,833.5 495.5,833.5 497.0,833.5 498.5,833.5 500.0,833.5 501.5,833.5 503.0,833.5 503.0,833.5 504.5,833.5 506.0,833.5 507.5,833.5 509.0,833.5 510.5,833.5 512.0,835.5 513.5,835.5 515.0,833.5 516.4,833.5 517.9,833.5 519.4,833.5 520.9,833.5 522.4,833.5 523.9,833.5 525.4,833.5 526.9,833.5 528.4,835.5 529.9,835.5 531.4,835.5 532.9,835.5 534.4,835.5 535.9,835.5 537.3,835.5 538.8,835.5 538.8,833.5 540.3,835.5 541.8,835.5 543.3,835.5 544.8,835.5 546.3,833.5 547.8,833.5 549.3,835.5 550.8,835.5 552.3,835.5 553.8,835.5 555.3,835.5 556.8,835.5 558.2,835.5 559.7,835.5 561.2,835.5 562.7,833.5 564.2,833.5 565.7,835.5 567.2,835.5 568.7,835.5 570.2,835.5 571.7,835.5 573.2,835.5 574.7,835.5 576.2,835.5 577.7,835.5 579.2,835.5 580.6,835.5 582.1,835.5 583.6,835.5 585.1,835.5 586.6,835.5 588.1,835.5 589.6,835.5 591.1,835.5 592.6,835.5 594.1,835.5 595.6,835.5 597.1,835.5 598.6,835.5 600.1,835.5 601.5,835.5 603.0,835.5 604.5,835.5 606.0,835.5 607.5,835.5 609.0,835.5 610.5,835.5 612.0,835.5 613.5,835.5 615.0,835.5 616.5,835.5 618.0,835.5 619.5,835.5 621.0,835.5 622.4,835.5 623.9,835.5 625.4,835.5 626.9,835.5 628.4,835.5 629.9,835.5 631.4,835.5 632.9,835.5 634.4,835.5 635.9,835.5 637.4,835.5 638.9,835.5 640.4,835.5 641.9,835.5 643.3,835.5 644.8,835.5 646.3,835.5 647.8,835.5 649.3,835.5 650.8,835.5 652.3,835.5 653.8,835.5 655.3,835.5 656.8,835.5 658.3,835.5 659.8,835.5 661.3,835.5 662.8,835.5 664.3,835.5 665.7,835.5 667.2,835.5 668.7,835.5 670.2,835.5 671.7,835.5 673.2,835.5 674.7,835.5 676.2,835.5 677.7,835.5 679.2,835.5 680.7,835.5 682.2,835.5 683.7,835.5 685.2,835.5 686.6,835.5 688.1,835.5 689.6,835.5 691.1,835.5 692.6,835.5 694.1,835.5 695.6,835.5 697.1,835.5 698.6,835.5 700.1,835.5 701.6,835.5 703.1,835.5 704.6,835.5 706.1,835.5 707.5,835.5 709.0,835.5 710.5,835.5 712.0,835.5 713.5,835.5 715.0,835.5 716.5,835.5 718.0,835.5 718.0,835.5"/>
</g>
<rect x="119" y="401" width="598" height="438.5" fill="none" stroke="#000" stroke-width="4.2"/>
<line x1="195.5" y1="839.5" x2="195.5" y2="835.0" stroke="#000" stroke-width="3.6"/>
<line x1="195.5" y1="401.0" x2="195.5" y2="407.5" stroke="#000" stroke-width="3.6"/>
<line x1="270.1" y1="839.5" x2="270.1" y2="831.0" stroke="#000" stroke-width="3.6"/>
<line x1="270.1" y1="401.0" x2="270.1" y2="411.5" stroke="#000" stroke-width="3.6"/>
<line x1="344.8" y1="839.5" x2="344.8" y2="835.0" stroke="#000" stroke-width="3.6"/>
<line x1="344.8" y1="401.0" x2="344.8" y2="407.5" stroke="#000" stroke-width="3.6"/>
<line x1="419.4" y1="839.5" x2="419.4" y2="831.0" stroke="#000" stroke-width="3.6"/>
<line x1="419.4" y1="401.0" x2="419.4" y2="411.5" stroke="#000" stroke-width="3.6"/>
<line x1="494.1" y1="839.5" x2="494.1" y2="835.0" stroke="#000" stroke-width="3.6"/>
<line x1="494.1" y1="401.0" x2="494.1" y2="407.5" stroke="#000" stroke-width="3.6"/>
<line x1="568.7" y1="839.5" x2="568.7" y2="831.0" stroke="#000" stroke-width="3.6"/>
<line x1="568.7" y1="401.0" x2="568.7" y2="411.5" stroke="#000" stroke-width="3.6"/>
<line x1="643.4" y1="839.5" x2="643.4" y2="835.0" stroke="#000" stroke-width="3.6"/>
<line x1="643.4" y1="401.0" x2="643.4" y2="407.5" stroke="#000" stroke-width="3.6"/>
<line x1="119.0" y1="803.0" x2="127.5" y2="803.0" stroke="#000" stroke-width="3.6"/>
<line x1="717.0" y1="803.0" x2="712.4" y2="803.0" stroke="#000" stroke-width="3.6"/>
<line x1="119.0" y1="766.4" x2="130.0" y2="766.4" stroke="#000" stroke-width="3.6"/>
<line x1="717.0" y1="766.4" x2="707.5" y2="766.4" stroke="#000" stroke-width="3.6"/>
<line x1="119.0" y1="729.9" x2="127.5" y2="729.9" stroke="#000" stroke-width="3.6"/>
<line x1="717.0" y1="729.9" x2="712.4" y2="729.9" stroke="#000" stroke-width="3.6"/>
<line x1="119.0" y1="693.3" x2="130.0" y2="693.3" stroke="#000" stroke-width="3.6"/>
<line x1="717.0" y1="693.3" x2="707.5" y2="693.3" stroke="#000" stroke-width="3.6"/>
<line x1="119.0" y1="656.8" x2="127.5" y2="656.8" stroke="#000" stroke-width="3.6"/>
<line x1="717.0" y1="656.8" x2="712.4" y2="656.8" stroke="#000" stroke-width="3.6"/>
<line x1="119.0" y1="620.2" x2="130.0" y2="620.2" stroke="#000" stroke-width="3.6"/>
<line x1="717.0" y1="620.2" x2="707.5" y2="620.2" stroke="#000" stroke-width="3.6"/>
<line x1="119.0" y1="583.7" x2="127.5" y2="583.7" stroke="#000" stroke-width="3.6"/>
<line x1="717.0" y1="583.7" x2="712.4" y2="583.7" stroke="#000" stroke-width="3.6"/>
<line x1="119.0" y1="547.2" x2="130.0" y2="547.2" stroke="#000" stroke-width="3.6"/>
<line x1="717.0" y1="547.2" x2="707.5" y2="547.2" stroke="#000" stroke-width="3.6"/>
<line x1="119.0" y1="510.6" x2="127.5" y2="510.6" stroke="#000" stroke-width="3.6"/>
<line x1="717.0" y1="510.6" x2="712.4" y2="510.6" stroke="#000" stroke-width="3.6"/>
<line x1="119.0" y1="474.1" x2="130.0" y2="474.1" stroke="#000" stroke-width="3.6"/>
<line x1="717.0" y1="474.1" x2="707.5" y2="474.1" stroke="#000" stroke-width="3.6"/>
<line x1="119.0" y1="437.5" x2="127.5" y2="437.5" stroke="#000" stroke-width="3.6"/>
<line x1="717.0" y1="437.5" x2="712.4" y2="437.5" stroke="#000" stroke-width="3.6"/>
<text x="0" y="0" font-size="33" text-anchor="end" fill="#000" transform="translate(109.50,849.39) scale(1.05,1.0)">0</text>
<text x="0" y="0" font-size="33" text-anchor="end" fill="#000" transform="translate(109.50,776.31) scale(1.05,1.0)">2</text>
<text x="0" y="0" font-size="33" text-anchor="end" fill="#000" transform="translate(109.50,703.22) scale(1.05,1.0)">4</text>
<text x="0" y="0" font-size="33" text-anchor="end" fill="#000" transform="translate(109.50,630.14) scale(1.05,1.0)">6</text>
<text x="0" y="0" font-size="33" text-anchor="end" fill="#000" transform="translate(109.50,557.06) scale(1.05,1.0)">8</text>
<text x="0" y="0" font-size="33" text-anchor="end" fill="#000" transform="translate(109.50,483.97) scale(1.05,1.0)">10</text>
<text x="0" y="0" font-size="33" text-anchor="end" fill="#000" transform="translate(109.50,410.89) scale(1.05,1.0)">12</text>
<text x="0" y="0" font-size="33" text-anchor="middle" fill="#000" transform="translate(119.00,876.50) scale(1.05,1.0)">-10</text>
<text x="0" y="0" font-size="33" text-anchor="middle" fill="#000" transform="translate(268.30,876.50) scale(1.05,1.0)">0</text>
<text x="0" y="0" font-size="33" text-anchor="middle" fill="#000" transform="translate(417.60,876.50) scale(1.05,1.0)">10</text>
<text x="0" y="0" font-size="33" text-anchor="middle" fill="#000" transform="translate(566.90,876.50) scale(1.05,1.0)">20</text>
<text x="0" y="0" font-size="33" text-anchor="middle" fill="#000" transform="translate(716.20,876.50) scale(1.05,1.0)">30</text>
<text x="0" y="0" font-size="45.1" text-anchor="middle" fill="#000" transform="translate(48.90,626.85) rotate(-90) scale(1.0,1.04)">OLED Intensity (a.u.)</text>
<text x="0" y="0" font-size="42.6" text-anchor="middle" transform="translate(435.95,927.3) scale(1.02,1)">Tim<tspan dx="6">e</tspan> (μs)</text>
<text x="0" y="0" font-size="56" text-anchor="middle" fill="#000" transform="translate(185.90,477.00) scale(1.073,1.0)">(b)</text>
<line x1="537.0" y1="456.0" x2="610.0" y2="456.0" stroke="#000" stroke-width="3.6"/>
<text x="0" y="0" font-size="32" text-anchor="start" fill="#000" transform="translate(617.00,466.56) scale(1.04,1.0)">0 V</text>
<line x1="537.0" y1="499.7" x2="610.0" y2="499.7" stroke="#c00010" stroke-width="3.6"/>
<text x="0" y="0" font-size="32" text-anchor="start" fill="#000" transform="translate(617.00,510.26) scale(1.04,1.0)">-1 V</text>
<line x1="537.0" y1="543.4" x2="610.0" y2="543.4" stroke="#e08020" stroke-width="3.6"/>
<text x="0" y="0" font-size="32" text-anchor="start" fill="#000" transform="translate(617.00,553.96) scale(1.04,1.0)">-2 V</text>
<line x1="537.0" y1="587.1" x2="610.0" y2="587.1" stroke="#20d030" stroke-width="3.6"/>
<text x="0" y="0" font-size="32" text-anchor="start" fill="#000" transform="translate(617.00,597.66) scale(1.04,1.0)">-4 V</text>
<line x1="537.0" y1="630.8" x2="610.0" y2="630.8" stroke="#000090" stroke-width="3.6"/>
<text x="0" y="0" font-size="32" text-anchor="start" fill="#000" transform="translate(617.00,641.36) scale(1.04,1.0)">-6 V</text>
<line x1="537.0" y1="674.5" x2="610.0" y2="674.5" stroke="#c010c0" stroke-width="3.6"/>
<text x="0" y="0" font-size="32" text-anchor="start" fill="#000" transform="translate(617.00,685.06) scale(1.04,1.0)">-8 V</text>
<clipPath id="clipc"><rect x="879.4" y="416.5" width="597.6" height="435.5"/></clipPath>
<g clip-path="url(#clipc)" fill="none" stroke-width="3.4" stroke-linejoin="round">
<polyline stroke="#000000" points="881.4,586.6 882.9,586.6 884.4,586.6 885.9,584.6 887.3,584.6 888.8,584.6 890.3,584.6 891.8,584.6 893.3,584.6 894.8,586.6 896.3,586.6 897.7,586.6 899.2,586.6 900.7,586.6 902.2,584.6 903.7,586.6 905.2,586.6 906.7,586.6 908.1,586.6 909.6,584.6 911.1,582.5 912.6,586.6 914.1,590.7 915.6,590.7 917.1,588.7 918.5,586.6 920.0,586.6 921.5,582.5 923.0,584.6 924.5,584.6 926.0,584.6 927.5,582.5 929.0,582.5 930.4,584.6 931.9,586.6 933.4,588.7 934.9,586.6 936.4,586.6 937.9,588.7 939.4,588.7 940.8,588.7 942.3,586.6 943.8,586.6 945.3,586.6 946.8,586.6 948.3,586.6 949.8,584.6 951.2,584.6 952.7,584.6 954.2,584.6 955.7,586.6 957.2,584.6 958.7,586.6 960.2,584.6 961.6,586.6 963.1,586.6 964.6,586.6 966.1,586.6 967.6,586.6 969.1,586.6 970.6,588.7 972.0,588.7 973.5,586.6 975.0,586.6 976.5,584.6 978.0,586.6 979.5,586.6 981.0,586.6 982.4,584.6 983.9,586.6 985.4,586.6 986.9,584.6 988.4,584.6 989.9,584.6 991.4,586.6 992.8,588.7 994.3,588.7 995.8,584.6 997.3,584.6 998.8,586.6 1000.3,588.7 1001.8,588.7 1003.3,584.6 1004.7,584.6 1006.2,586.6 1007.7,586.6 1009.2,584.6 1010.7,584.6 1012.2,584.6 1013.7,584.6 1015.1,586.6 1016.6,584.6 1018.1,586.6 1019.6,586.6 1021.1,588.7 1022.6,586.6 1024.1,586.6 1025.5,588.7 1027.0,584.6 1028.5,586.6 1030.0,584.6 1031.5,584.6 1033.0,582.5 1034.5,584.6 1035.9,588.7 1037.4,586.6 1038.9,586.6 1040.4,584.6 1041.9,586.6 1043.4,586.6 1044.1,584.6 1044.9,572.3 1046.3,535.6 1046.3,537.6 1047.8,535.6 1049.3,537.6 1049.3,535.6 1050.8,554.0 1052.3,578.5 1052.3,582.5 1053.8,596.8 1055.3,600.9 1056.7,605.0 1056.7,607.0 1058.2,611.1 1059.7,611.1 1061.2,613.2 1062.7,615.2 1062.7,613.2 1064.2,613.2 1065.7,613.2 1067.1,615.2 1068.6,615.2 1068.6,617.2 1070.1,619.3 1071.6,621.3 1073.1,623.4 1074.6,627.4 1076.1,627.4 1076.1,625.4 1077.6,625.4 1079.0,627.4 1080.5,627.4 1082.0,629.5 1083.5,629.5 1085.0,629.5 1086.5,629.5 1088.0,629.5 1089.4,631.5 1090.9,631.5 1092.4,633.6 1093.9,633.6 1095.4,631.5 1096.9,631.5 1096.9,631.5 1098.4,635.6 1099.8,633.6 1101.3,633.6 1102.8,631.5 1104.3,633.6 1105.8,633.6 1107.3,633.6 1108.8,631.5 1110.2,629.5 1111.7,631.5 1113.2,633.6 1114.7,635.6 1116.2,635.6 1117.7,635.6 1117.7,635.6 1119.2,635.6 1120.6,637.7 1122.1,637.7 1123.6,639.7 1125.1,639.7 1126.6,639.7 1128.1,637.7 1129.6,637.7 1131.0,637.7 1132.5,641.7 1134.0,639.7 1135.5,639.7 1137.0,641.7 1138.5,645.8 1140.0,647.9 1141.4,647.9 1142.9,647.9 1142.9,647.9 1144.4,647.9 1145.9,647.9 1147.4,649.9 1148.9,651.9 1150.4,656.0 1151.9,654.0 1153.3,654.0 1154.8,654.0 1156.3,658.1 1157.8,656.0 1159.3,656.0 1159.3,656.0 1160.8,658.1 1162.3,662.1 1163.7,662.1 1165.2,664.2 1166.7,662.1 1168.2,664.2 1169.7,662.1 1171.2,664.2 1172.7,664.2 1174.1,666.2 1175.6,668.3 1177.1,668.3 1178.6,668.3 1179.9,670.3 1180.1,670.3 1181.6,670.3 1183.1,670.3 1184.5,672.4 1186.0,672.4 1187.5,672.4 1189.0,674.4 1190.5,676.4 1192.0,678.5 1193.5,680.5 1194.9,680.5 1196.4,682.6 1197.9,682.6 1199.4,684.6 1200.9,684.6 1202.4,684.6 1203.7,686.6 1203.9,686.6 1205.3,688.7 1206.8,688.7 1208.3,688.7 1209.8,690.7 1211.3,692.8 1212.8,694.8 1214.3,694.8 1215.7,694.8 1217.2,696.9 1218.7,696.9 1220.2,698.9 1221.7,698.9 1223.2,700.9 1224.7,703.0 1226.2,700.9 1227.6,703.0 1229.1,705.0 1230.6,705.0 1232.1,707.1 1233.6,707.1 1235.1,709.1 1236.6,709.1 1238.0,711.1 1239.5,711.1 1239.5,711.1 1241.0,711.1 1242.5,713.2 1244.0,715.2 1245.5,715.2 1247.0,717.3 1248.4,717.3 1249.9,717.3 1251.4,717.3 1252.9,717.3 1254.4,717.3 1255.9,719.3 1257.4,719.3 1258.8,721.4 1260.3,719.3 1261.8,721.4 1263.3,721.4 1264.8,723.4 1266.3,723.4 1267.8,725.4 1269.2,725.4 1269.2,725.4 1270.7,725.4 1272.2,725.4 1273.7,727.5 1275.2,727.5 1276.7,727.5 1278.2,729.5 1279.6,729.5 1281.1,731.6 1282.6,733.6 1284.1,733.6 1285.6,733.6 1287.1,733.6 1288.6,733.6 1290.0,733.6 1291.5,735.6 1293.0,737.7 1294.5,737.7 1296.0,735.6 1297.5,737.7 1299.0,737.7 1300.5,739.7 1301.9,741.8 1303.4,741.8 1304.9,741.8 1306.4,741.8 1307.9,741.8 1309.4,741.8 1309.4,741.8 1310.9,741.8 1312.3,743.8 1313.8,743.8 1315.3,743.8 1316.8,745.8 1318.3,747.9 1319.8,747.9 1321.3,747.9 1322.7,747.9 1324.2,749.9 1325.7,747.9 1327.2,747.9 1328.7,747.9 1330.2,749.9 1331.7,749.9 1333.1,749.9 1334.6,749.9 1336.1,752.0 1337.6,752.0 1339.1,752.0 1339.8,749.9 1340.6,749.9 1342.1,749.9 1343.5,749.9 1345.0,752.0 1346.5,752.0 1348.0,754.0 1349.5,752.0 1351.0,752.0 1352.5,754.0 1353.9,756.1 1355.4,758.1 1356.9,756.1 1358.4,758.1 1359.9,758.1 1361.4,758.1 1362.9,758.1 1364.3,758.1 1365.8,758.1 1367.3,760.1 1368.8,760.1 1370.3,760.1 1371.8,760.1 1373.3,762.2 1374.8,762.2 1376.2,760.1 1377.7,762.2 1379.2,762.2 1379.2,762.2 1380.7,762.2 1382.2,764.2 1383.7,764.2 1385.2,764.2 1386.6,764.2 1388.1,764.2 1389.6,766.3 1391.1,764.2 1392.6,764.2 1394.1,766.3 1395.6,766.3 1397.0,768.3 1398.5,766.3 1400.0,768.3 1401.5,768.3 1403.0,770.3 1404.5,770.3 1406.0,770.3 1407.4,772.4 1408.9,770.3 1410.4,770.3 1411.9,770.3 1413.4,772.4 1414.9,770.3 1416.4,770.3 1417.8,770.3 1419.3,772.4 1419.3,772.4 1420.8,774.4 1422.3,772.4 1423.8,772.4 1425.3,774.4 1426.8,774.4 1428.2,774.4 1429.7,774.4 1431.2,774.4 1432.7,776.5 1434.2,776.5 1435.7,776.5 1437.2,776.5 1438.6,776.5 1440.1,776.5 1441.6,778.5 1443.1,778.5 1444.6,778.5 1446.1,778.5 1447.6,778.5 1449.1,778.5 1450.5,778.5 1452.0,778.5 1453.5,778.5 1455.0,778.5 1456.5,780.6 1458.0,782.6 1459.5,782.6 1460.9,780.6 1462.4,782.6 1463.9,780.6 1465.4,780.6 1466.9,780.6 1468.4,780.6 1469.9,782.6 1471.3,782.6 1472.8,782.6 1474.3,782.6 1475.8,782.6 1475.8,782.6"/>
<polyline stroke="#ff0000" points="881.4,582.5 882.9,580.5 884.4,580.5 885.9,578.5 887.3,580.5 888.8,580.5 890.3,582.5 891.8,582.5 893.3,582.5 894.8,582.5 896.3,584.6 897.7,586.6 899.2,584.6 900.7,582.5 902.2,580.5 903.7,578.5 905.2,580.5 906.7,582.5 908.1,582.5 909.6,582.5 911.1,578.5 912.6,578.5 914.1,578.5 915.6,582.5 917.1,582.5 918.5,584.6 920.0,584.6 921.5,582.5 923.0,580.5 924.5,580.5 926.0,578.5 927.5,578.5 929.0,578.5 930.4,578.5 931.9,580.5 933.4,580.5 934.9,582.5 936.4,582.5 937.9,582.5 939.4,582.5 940.8,582.5 942.3,582.5 943.8,582.5 945.3,582.5 946.8,584.6 948.3,584.6 949.8,582.5 951.2,580.5 952.7,580.5 954.2,580.5 955.7,582.5 957.2,582.5 958.7,582.5 960.2,580.5 961.6,580.5 963.1,578.5 964.6,578.5 966.1,578.5 967.6,580.5 969.1,580.5 970.6,582.5 972.0,584.6 973.5,584.6 975.0,582.5 976.5,580.5 978.0,580.5 979.5,582.5 981.0,582.5 982.4,584.6 983.9,584.6 985.4,584.6 986.9,584.6 988.4,582.5 989.9,582.5 991.4,582.5 992.8,586.6 994.3,584.6 995.8,584.6 997.3,582.5 998.8,582.5 1000.3,580.5 1001.8,582.5 1003.3,584.6 1004.7,582.5 1006.2,582.5 1007.7,582.5 1009.2,584.6 1010.7,582.5 1012.2,582.5 1013.7,580.5 1015.1,582.5 1016.6,582.5 1018.1,582.5 1019.6,582.5 1021.1,582.5 1022.6,580.5 1024.1,578.5 1025.5,580.5 1027.0,582.5 1028.5,582.5 1030.0,584.6 1031.5,588.7 1033.0,586.6 1034.5,584.6 1035.9,582.5 1037.4,582.5 1038.9,582.5 1040.4,582.5 1041.9,580.5 1043.4,578.5 1044.9,578.5 1044.9,580.5 1046.3,523.3 1046.3,525.4 1047.5,478.4 1047.8,480.5 1049.0,476.4 1049.3,482.5 1050.8,551.9 1050.8,554.0 1052.3,574.4 1053.8,588.7 1054.5,594.8 1055.3,598.9 1056.7,605.0 1058.2,605.0 1059.7,607.0 1059.7,602.9 1061.2,607.0 1062.7,611.1 1064.2,613.2 1065.7,615.2 1067.1,615.2 1068.6,615.2 1068.6,613.2 1070.1,615.2 1071.6,617.2 1073.1,619.3 1074.6,617.2 1076.1,617.2 1077.6,619.3 1079.0,621.3 1080.5,619.3 1081.0,617.2 1082.0,617.2 1083.5,619.3 1085.0,621.3 1086.5,623.4 1088.0,623.4 1089.4,619.3 1090.9,617.2 1092.4,615.2 1093.9,613.2 1095.4,613.2 1096.9,613.2 1097.6,613.2 1098.4,613.2 1099.8,615.2 1101.3,617.2 1102.8,619.3 1104.3,617.2 1105.8,617.2 1107.3,617.2 1108.8,617.2 1110.2,615.2 1111.7,617.2 1113.2,617.2 1114.7,615.2 1116.2,613.2 1117.7,613.2 1119.2,613.2 1120.6,615.2 1122.1,615.2 1123.6,611.1 1125.1,611.1 1126.6,611.1 1127.5,611.1 1128.1,611.1 1129.6,613.2 1131.0,617.2 1132.5,617.2 1134.0,615.2 1135.5,617.2 1137.0,617.2 1138.5,623.4 1140.0,621.3 1141.4,623.4 1142.9,623.4 1144.4,623.4 1145.8,623.4 1145.9,623.4 1147.4,623.4 1148.9,623.4 1150.4,625.4 1151.9,629.5 1153.3,631.5 1154.8,631.5 1156.3,633.6 1157.8,629.5 1159.3,629.5 1160.8,629.5 1162.3,633.6 1163.7,635.6 1165.2,637.7 1166.7,639.7 1167.3,639.7 1168.2,639.7 1169.7,639.7 1171.2,641.7 1172.7,641.7 1174.1,641.7 1175.6,641.7 1177.1,641.7 1178.6,643.8 1179.9,643.8 1180.1,643.8 1181.6,645.8 1183.1,649.9 1184.5,651.9 1186.0,651.9 1187.5,649.9 1189.0,649.9 1190.5,651.9 1192.0,654.0 1193.5,656.0 1194.9,658.1 1196.4,658.1 1197.9,660.1 1199.4,660.1 1200.9,660.1 1202.4,662.1 1203.9,664.2 1205.3,668.3 1206.8,666.2 1208.3,668.3 1209.8,670.3 1209.8,670.3 1211.3,668.3 1212.8,668.3 1214.3,668.3 1215.7,670.3 1217.2,674.4 1218.7,674.4 1220.2,676.4 1221.7,676.4 1223.2,678.5 1224.7,678.5 1226.2,678.5 1227.6,680.5 1229.1,682.6 1230.6,682.6 1232.1,684.6 1233.6,684.6 1235.1,686.6 1236.6,686.6 1238.0,686.6 1239.5,686.6 1239.5,688.7 1241.0,688.7 1242.5,690.7 1244.0,692.8 1245.5,694.8 1247.0,694.8 1248.4,692.8 1249.9,692.8 1251.4,694.8 1252.9,694.8 1254.4,696.9 1255.9,698.9 1257.4,700.9 1258.8,703.0 1260.3,703.0 1261.8,703.0 1263.3,705.0 1264.8,707.1 1266.3,709.1 1267.8,705.0 1269.2,705.0 1269.2,705.0 1270.7,709.1 1272.2,707.1 1273.7,709.1 1275.2,705.0 1276.7,707.1 1278.2,707.1 1279.6,709.1 1281.1,711.1 1282.6,713.2 1284.1,713.2 1285.6,715.2 1287.1,715.2 1288.6,715.2 1290.0,715.2 1291.5,715.2 1293.0,717.3 1294.5,719.3 1296.0,721.4 1297.5,723.4 1299.0,723.4 1300.5,723.4 1300.5,721.4 1301.9,721.4 1303.4,723.4 1304.9,723.4 1306.4,725.4 1307.9,727.5 1309.4,727.5 1310.9,727.5 1312.3,727.5 1313.8,729.5 1315.3,731.6 1316.8,731.6 1318.3,731.6 1319.8,731.6 1321.3,733.6 1322.7,733.6 1324.2,731.6 1325.7,731.6 1327.2,731.6 1328.7,733.6 1330.2,735.6 1331.7,737.7 1333.1,737.7 1334.6,735.6 1336.1,735.6 1337.6,737.7 1339.1,739.7 1339.8,739.7 1340.6,739.7 1342.1,739.7 1343.5,741.8 1345.0,741.8 1346.5,741.8 1348.0,743.8 1349.5,743.8 1351.0,743.8 1352.5,743.8 1353.9,743.8 1355.4,743.8 1356.9,745.8 1358.4,747.9 1359.9,747.9 1361.4,747.9 1362.9,747.9 1364.3,749.9 1365.8,752.0 1367.3,752.0 1368.8,752.0 1370.3,754.0 1371.8,754.0 1373.3,756.1 1374.8,756.1 1376.2,754.0 1377.7,754.0 1379.2,754.0 1379.2,754.0 1380.7,756.1 1382.2,758.1 1383.7,758.1 1385.2,758.1 1386.6,756.1 1388.1,758.1 1389.6,758.1 1391.1,760.1 1392.6,758.1 1394.1,758.1 1395.6,758.1 1397.0,760.1 1398.5,764.2 1400.0,762.2 1401.5,762.2 1403.0,762.2 1404.5,764.2 1406.0,766.3 1407.4,766.3 1408.9,766.3 1410.4,764.2 1411.9,764.2 1413.4,766.3 1414.9,766.3 1416.4,766.3 1417.8,766.3 1419.3,766.3 1419.3,768.3 1420.8,768.3 1422.3,768.3 1423.8,768.3 1425.3,768.3 1426.8,770.3 1428.2,770.3 1429.7,770.3 1431.2,770.3 1432.7,770.3 1434.2,770.3 1435.7,770.3 1437.2,770.3 1438.6,770.3 1440.1,772.4 1441.6,772.4 1443.1,772.4 1444.6,772.4 1446.1,772.4 1447.6,774.4 1449.1,774.4 1450.5,774.4 1452.0,772.4 1453.5,774.4 1455.0,774.4 1456.5,776.5 1458.0,776.5 1459.5,776.5 1460.9,776.5 1462.4,776.5 1463.9,776.5 1465.4,776.5 1466.9,776.5 1468.4,776.5 1469.9,776.5 1471.3,776.5 1472.8,778.5 1474.3,780.6 1475.8,780.6 1475.8,780.6"/>
<polyline stroke="#ff8000" points="881.4,582.5 882.9,580.5 884.4,578.5 885.9,580.5 887.3,576.4 888.8,578.5 890.3,578.5 891.8,582.5 893.3,582.5 894.8,580.5 896.3,582.5 897.7,580.5 899.2,582.5 900.7,578.5 902.2,578.5 903.7,580.5 905.2,584.6 906.7,586.6 908.1,584.6 909.6,582.5 911.1,582.5 912.6,582.5 914.1,582.5 915.6,580.5 917.1,582.5 918.5,582.5 920.0,584.6 921.5,582.5 923.0,582.5 924.5,580.5 926.0,578.5 927.5,578.5 929.0,580.5 930.4,580.5 931.9,580.5 933.4,580.5 934.9,582.5 936.4,584.6 937.9,580.5 939.4,580.5 940.8,580.5 942.3,584.6 943.8,584.6 945.3,584.6 946.8,584.6 948.3,584.6 949.8,584.6 951.2,582.5 952.7,580.5 954.2,582.5 955.7,582.5 957.2,586.6 958.7,584.6 960.2,582.5 961.6,582.5 963.1,580.5 964.6,582.5 966.1,582.5 967.6,584.6 969.1,582.5 970.6,582.5 972.0,582.5 973.5,586.6 975.0,582.5 976.5,582.5 978.0,582.5 979.5,582.5 981.0,582.5 982.4,582.5 983.9,582.5 985.4,580.5 986.9,578.5 988.4,580.5 989.9,582.5 991.4,582.5 992.8,584.6 994.3,582.5 995.8,584.6 997.3,584.6 998.8,586.6 1000.3,584.6 1001.8,584.6 1003.3,580.5 1004.7,582.5 1006.2,582.5 1007.7,584.6 1009.2,582.5 1010.7,584.6 1012.2,582.5 1013.7,580.5 1015.1,580.5 1016.6,580.5 1018.1,580.5 1019.6,580.5 1021.1,584.6 1022.6,586.6 1024.1,584.6 1025.5,584.6 1027.0,582.5 1028.5,580.5 1030.0,580.5 1031.5,580.5 1033.0,582.5 1034.5,580.5 1035.9,582.5 1037.4,582.5 1038.9,582.5 1040.4,582.5 1041.9,582.5 1043.4,584.6 1044.1,582.5 1044.9,562.1 1046.3,498.8 1046.3,500.9 1047.8,500.9 1049.3,498.8 1049.3,500.9 1050.8,529.5 1052.3,568.2 1052.3,566.2 1053.8,578.5 1055.3,590.7 1056.7,594.8 1056.7,596.8 1058.2,600.9 1059.7,605.0 1061.2,605.0 1062.7,605.0 1062.7,600.9 1064.2,602.9 1065.7,605.0 1067.1,607.0 1068.6,611.1 1068.6,607.0 1070.1,607.0 1071.6,605.0 1073.1,609.1 1074.6,611.1 1076.1,611.1 1077.6,611.1 1079.0,615.2 1080.5,613.2 1081.0,615.2 1082.0,611.1 1083.5,611.1 1085.0,609.1 1086.5,607.0 1088.0,605.0 1089.4,607.0 1090.9,607.0 1092.4,602.9 1093.9,600.9 1095.4,598.9 1096.9,598.9 1098.4,596.8 1098.4,594.8 1099.8,596.8 1101.3,596.8 1102.8,598.9 1104.3,598.9 1105.8,594.8 1107.3,592.7 1108.8,590.7 1110.2,590.7 1111.7,586.6 1113.2,586.6 1114.7,584.6 1116.2,586.6 1117.5,586.6 1117.7,588.7 1119.2,588.7 1120.6,586.6 1122.1,586.6 1123.6,584.6 1125.1,586.6 1126.6,588.7 1128.1,588.7 1129.6,588.7 1131.0,588.7 1132.5,590.7 1134.0,588.7 1135.5,590.7 1137.0,592.7 1138.5,596.8 1140.0,594.8 1141.4,598.9 1142.5,598.9 1142.9,600.9 1144.4,598.9 1145.9,598.9 1147.4,596.8 1148.9,598.9 1150.4,598.9 1151.9,602.9 1153.3,602.9 1154.8,607.0 1156.3,609.1 1157.8,609.1 1159.3,607.0 1160.8,609.1 1162.3,611.1 1163.7,613.2 1165.2,611.1 1166.7,611.1 1167.3,615.2 1168.2,613.2 1169.7,617.2 1171.2,617.2 1172.7,617.2 1174.1,613.2 1175.6,615.2 1177.1,615.2 1178.6,619.3 1179.9,621.3 1180.1,621.3 1181.6,621.3 1183.1,621.3 1184.5,625.4 1186.0,625.4 1187.5,625.4 1189.0,627.4 1190.5,629.5 1192.0,629.5 1193.5,629.5 1194.9,629.5 1196.4,633.6 1197.9,635.6 1199.4,635.6 1200.9,635.6 1202.4,635.6 1203.9,635.6 1205.3,639.7 1206.8,639.7 1208.3,641.7 1209.8,641.7 1209.8,641.7 1211.3,643.8 1212.8,645.8 1214.3,647.9 1215.7,647.9 1217.2,649.9 1218.7,649.9 1220.2,649.9 1221.7,651.9 1223.2,651.9 1224.7,654.0 1226.2,654.0 1227.6,656.0 1229.1,654.0 1230.6,658.1 1232.1,658.1 1233.6,660.1 1235.1,662.1 1236.6,662.1 1238.0,662.1 1239.5,662.1 1239.5,662.1 1241.0,664.2 1242.5,666.2 1244.0,668.3 1245.5,670.3 1247.0,670.3 1248.4,670.3 1249.9,672.4 1251.4,672.4 1252.9,674.4 1254.4,674.4 1255.9,676.4 1257.4,678.5 1258.8,678.5 1260.3,680.5 1261.8,680.5 1263.3,682.6 1264.8,682.6 1266.3,686.6 1267.8,686.6 1269.2,686.6 1269.2,686.6 1270.7,686.6 1272.2,688.7 1273.7,686.6 1275.2,688.7 1276.7,692.8 1278.2,694.8 1279.6,694.8 1281.1,694.8 1282.6,696.9 1284.1,696.9 1285.6,696.9 1287.1,698.9 1288.6,698.9 1290.0,700.9 1291.5,698.9 1293.0,700.9 1294.5,703.0 1296.0,705.0 1297.5,705.0 1299.0,709.1 1300.5,707.1 1300.5,707.1 1301.9,707.1 1303.4,709.1 1304.9,711.1 1306.4,713.2 1307.9,713.2 1309.4,713.2 1310.9,713.2 1312.3,713.2 1313.8,715.2 1315.3,713.2 1316.8,715.2 1318.3,715.2 1319.8,717.3 1321.3,717.3 1322.7,721.4 1324.2,721.4 1325.7,723.4 1327.2,721.4 1328.7,723.4 1330.2,723.4 1331.7,723.4 1333.1,725.4 1334.6,727.5 1336.1,725.4 1337.6,725.4 1339.1,727.5 1339.8,727.5 1340.6,731.6 1342.1,731.6 1343.5,733.6 1345.0,731.6 1346.5,731.6 1348.0,731.6 1349.5,733.6 1351.0,735.6 1352.5,735.6 1353.9,735.6 1355.4,735.6 1356.9,735.6 1358.4,735.6 1359.9,737.7 1361.4,739.7 1362.9,741.8 1364.3,741.8 1365.8,741.8 1367.3,741.8 1368.8,743.8 1370.3,743.8 1371.8,745.8 1373.3,745.8 1374.8,745.8 1376.2,745.8 1377.7,745.8 1379.2,747.9 1379.2,747.9 1380.7,747.9 1382.2,747.9 1383.7,747.9 1385.2,749.9 1386.6,749.9 1388.1,749.9 1389.6,749.9 1391.1,749.9 1392.6,752.0 1394.1,754.0 1395.6,752.0 1397.0,752.0 1398.5,752.0 1400.0,752.0 1401.5,754.0 1403.0,756.1 1404.5,756.1 1406.0,756.1 1407.4,754.0 1408.9,754.0 1410.4,756.1 1411.9,758.1 1413.4,760.1 1414.9,762.2 1416.4,762.2 1417.8,760.1 1419.3,760.1 1419.3,760.1 1420.8,762.2 1422.3,762.2 1423.8,762.2 1425.3,762.2 1426.8,762.2 1428.2,764.2 1429.7,764.2 1431.2,764.2 1432.7,764.2 1434.2,766.3 1435.7,768.3 1437.2,766.3 1438.6,766.3 1440.1,766.3 1441.6,766.3 1443.1,766.3 1444.6,766.3 1446.1,766.3 1447.6,766.3 1449.1,766.3 1450.5,766.3 1452.0,766.3 1453.5,768.3 1455.0,770.3 1456.5,770.3 1458.0,770.3 1459.5,770.3 1460.9,770.3 1462.4,770.3 1463.9,772.4 1465.4,770.3 1466.9,772.4 1468.4,772.4 1469.9,772.4 1471.3,772.4 1472.8,772.4 1474.3,772.4 1475.8,772.4 1475.8,774.4"/>
<polyline stroke="#00ff00" points="881.4,582.5 882.9,584.6 884.4,584.6 885.9,586.6 887.3,586.6 888.8,582.5 890.3,580.5 891.8,580.5 893.3,582.5 894.8,584.6 896.3,580.5 897.7,580.5 899.2,578.5 900.7,582.5 902.2,582.5 903.7,582.5 905.2,578.5 906.7,578.5 908.1,580.5 909.6,582.5 911.1,582.5 912.6,582.5 914.1,580.5 915.6,582.5 917.1,580.5 918.5,582.5 920.0,582.5 921.5,584.6 923.0,582.5 924.5,580.5 926.0,578.5 927.5,578.5 929.0,582.5 930.4,580.5 931.9,580.5 933.4,580.5 934.9,582.5 936.4,582.5 937.9,582.5 939.4,582.5 940.8,582.5 942.3,584.6 943.8,586.6 945.3,584.6 946.8,580.5 948.3,582.5 949.8,582.5 951.2,580.5 952.7,580.5 954.2,580.5 955.7,584.6 957.2,584.6 958.7,586.6 960.2,588.7 961.6,586.6 963.1,584.6 964.6,580.5 966.1,580.5 967.6,578.5 969.1,580.5 970.6,580.5 972.0,582.5 973.5,582.5 975.0,582.5 976.5,582.5 978.0,582.5 979.5,584.6 981.0,580.5 982.4,584.6 983.9,584.6 985.4,584.6 986.9,582.5 988.4,582.5 989.9,580.5 991.4,580.5 992.8,580.5 994.3,580.5 995.8,582.5 997.3,580.5 998.8,578.5 1000.3,578.5 1001.8,580.5 1003.3,582.5 1004.7,582.5 1006.2,582.5 1007.7,582.5 1009.2,584.6 1010.7,582.5 1012.2,580.5 1013.7,582.5 1015.1,582.5 1016.6,584.6 1018.1,580.5 1019.6,580.5 1021.1,580.5 1022.6,582.5 1024.1,584.6 1025.5,586.6 1027.0,584.6 1028.5,582.5 1030.0,582.5 1031.5,584.6 1033.0,584.6 1034.5,584.6 1035.9,582.5 1037.4,578.5 1038.9,582.5 1040.4,580.5 1041.9,584.6 1043.4,584.6 1044.1,586.6 1044.9,566.2 1046.3,500.9 1046.3,500.9 1047.8,500.9 1049.3,500.9 1049.3,498.8 1050.8,527.4 1052.3,564.2 1052.3,566.2 1053.8,576.4 1055.3,588.7 1056.7,594.8 1056.7,598.9 1058.2,598.9 1059.7,602.9 1061.2,598.9 1062.2,600.9 1062.7,602.9 1064.2,605.0 1065.7,602.9 1067.1,600.9 1068.6,602.9 1070.1,600.9 1071.0,600.9 1071.6,598.9 1073.1,596.8 1074.6,592.7 1076.1,590.7 1077.6,588.7 1079.0,588.7 1079.8,586.6 1080.5,584.6 1082.0,580.5 1083.5,576.4 1085.0,572.3 1086.5,570.3 1088.0,568.2 1088.3,570.3 1089.4,570.3 1090.9,568.2 1092.4,564.2 1093.9,558.0 1094.3,560.1 1095.4,556.0 1096.9,556.0 1098.4,554.0 1099.8,551.9 1101.3,547.8 1102.8,545.8 1104.3,543.7 1105.8,541.7 1107.3,537.6 1107.3,537.6 1108.8,539.7 1110.2,539.7 1111.7,537.6 1113.2,535.6 1114.7,533.5 1116.2,535.6 1117.7,535.6 1119.2,533.5 1120.6,535.6 1122.1,535.6 1123.6,533.5 1124.2,529.5 1125.1,527.4 1126.6,531.5 1128.1,531.5 1129.6,533.5 1131.0,535.6 1132.5,537.6 1134.0,537.6 1135.5,537.6 1137.0,541.7 1138.5,541.7 1140.0,541.7 1141.4,541.7 1142.5,541.7 1142.9,541.7 1144.4,543.7 1145.9,547.8 1147.4,551.9 1148.9,551.9 1150.4,554.0 1151.9,554.0 1153.3,556.0 1154.8,558.0 1156.3,562.1 1157.8,560.1 1159.0,560.1 1159.3,560.1 1160.8,562.1 1162.3,564.2 1163.7,566.2 1165.2,568.2 1166.7,570.3 1168.2,574.4 1169.7,580.5 1171.2,582.5 1172.7,582.5 1174.1,584.6 1175.6,586.6 1175.6,588.7 1177.1,590.7 1178.6,590.7 1180.1,592.7 1181.6,592.7 1183.1,592.7 1184.5,592.7 1186.0,592.7 1187.5,590.7 1189.0,592.7 1190.5,596.8 1192.0,600.9 1192.3,602.9 1193.5,600.9 1194.9,600.9 1196.4,600.9 1197.9,605.0 1199.4,605.0 1200.9,607.0 1202.4,609.1 1203.9,609.1 1205.3,609.1 1206.8,611.1 1208.3,611.1 1209.8,611.1 1209.8,611.1 1211.3,613.2 1212.8,617.2 1214.3,619.3 1215.7,621.3 1217.2,621.3 1218.7,623.4 1220.2,625.4 1221.7,629.5 1223.2,631.5 1224.7,631.5 1226.2,631.5 1227.6,633.6 1229.1,633.6 1230.6,633.6 1232.1,635.6 1233.6,637.7 1235.1,641.7 1236.6,639.7 1238.0,641.7 1239.5,643.8 1239.5,643.8 1241.0,645.8 1242.5,645.8 1244.0,649.9 1245.5,649.9 1247.0,654.0 1248.4,654.0 1249.9,656.0 1251.4,656.0 1252.9,660.1 1254.4,660.1 1255.9,660.1 1257.4,660.1 1258.8,662.1 1260.3,664.2 1261.8,666.2 1263.3,668.3 1264.8,668.3 1266.3,670.3 1267.8,672.4 1269.2,672.4 1269.2,674.4 1270.7,678.5 1272.2,676.4 1273.7,676.4 1275.2,678.5 1276.7,682.6 1278.2,686.6 1279.6,686.6 1281.1,688.7 1282.6,690.7 1284.1,692.8 1285.6,692.8 1287.1,690.7 1288.6,694.8 1290.0,694.8 1291.5,696.9 1293.0,700.9 1294.5,703.0 1296.0,703.0 1297.5,703.0 1299.0,703.0 1300.5,705.0 1300.5,703.0 1301.9,705.0 1303.4,707.1 1304.9,709.1 1306.4,709.1 1307.9,709.1 1309.4,711.1 1310.9,713.2 1312.3,713.2 1313.8,715.2 1315.3,717.3 1316.8,715.2 1318.3,713.2 1319.8,715.2 1321.3,717.3 1322.7,717.3 1324.2,719.3 1325.7,719.3 1327.2,721.4 1328.7,721.4 1330.2,723.4 1331.7,723.4 1333.1,725.4 1334.6,725.4 1336.1,727.5 1337.6,725.4 1339.1,727.5 1339.8,727.5 1340.6,727.5 1342.1,729.5 1343.5,731.6 1345.0,731.6 1346.5,731.6 1348.0,729.5 1349.5,729.5 1351.0,729.5 1352.5,731.6 1353.9,733.6 1355.4,733.6 1356.9,735.6 1358.4,735.6 1359.9,735.6 1361.4,735.6 1362.9,737.7 1364.3,737.7 1365.8,737.7 1367.3,739.7 1368.8,739.7 1370.3,739.7 1371.8,739.7 1373.3,741.8 1374.8,741.8 1376.2,741.8 1377.7,743.8 1379.2,745.8 1379.2,745.8 1380.7,747.9 1382.2,747.9 1383.7,747.9 1385.2,747.9 1386.6,747.9 1388.1,747.9 1389.6,747.9 1391.1,749.9 1392.6,749.9 1394.1,747.9 1395.6,747.9 1397.0,749.9 1398.5,752.0 1400.0,754.0 1401.5,756.1 1403.0,758.1 1404.5,758.1 1406.0,758.1 1407.4,756.1 1408.9,756.1 1410.4,756.1 1411.9,758.1 1413.4,760.1 1414.9,760.1 1416.4,760.1 1417.8,760.1 1419.3,760.1 1419.3,760.1 1420.8,762.2 1422.3,764.2 1423.8,764.2 1425.3,762.2 1426.8,762.2 1428.2,762.2 1429.7,762.2 1431.2,762.2 1432.7,764.2 1434.2,766.3 1435.7,766.3 1437.2,766.3 1438.6,766.3 1440.1,766.3 1441.6,766.3 1443.1,766.3 1444.6,766.3 1446.1,768.3 1447.6,768.3 1449.1,770.3 1450.5,768.3 1452.0,770.3 1453.5,772.4 1455.0,772.4 1456.5,772.4 1458.0,772.4 1459.5,772.4 1460.9,772.4 1462.4,774.4 1463.9,774.4 1465.4,776.5 1466.9,774.4 1468.4,774.4 1469.9,776.5 1471.3,778.5 1472.8,778.5 1474.3,776.5 1475.8,774.4 1475.8,774.4"/>
<polyline stroke="#0000ff" points="881.4,580.5 882.9,582.5 884.4,584.6 885.9,582.5 887.3,580.5 888.8,580.5 890.3,580.5 891.8,582.5 893.3,578.5 894.8,576.4 896.3,576.4 897.7,578.5 899.2,580.5 900.7,580.5 902.2,580.5 903.7,578.5 905.2,578.5 906.7,578.5 908.1,578.5 909.6,582.5 911.1,580.5 912.6,580.5 914.1,578.5 915.6,576.4 917.1,578.5 918.5,580.5 920.0,580.5 921.5,582.5 923.0,580.5 924.5,580.5 926.0,578.5 927.5,580.5 929.0,580.5 930.4,578.5 931.9,580.5 933.4,578.5 934.9,582.5 936.4,582.5 937.9,582.5 939.4,580.5 940.8,582.5 942.3,580.5 943.8,580.5 945.3,578.5 946.8,578.5 948.3,578.5 949.8,580.5 951.2,580.5 952.7,580.5 954.2,582.5 955.7,580.5 957.2,580.5 958.7,576.4 960.2,576.4 961.6,578.5 963.1,582.5 964.6,580.5 966.1,580.5 967.6,578.5 969.1,580.5 970.6,576.4 972.0,578.5 973.5,576.4 975.0,576.4 976.5,576.4 978.0,578.5 979.5,578.5 981.0,578.5 982.4,578.5 983.9,578.5 985.4,576.4 986.9,576.4 988.4,574.4 989.9,578.5 991.4,576.4 992.8,578.5 994.3,576.4 995.8,578.5 997.3,578.5 998.8,578.5 1000.3,580.5 1001.8,580.5 1003.3,582.5 1004.7,582.5 1006.2,582.5 1007.7,580.5 1009.2,580.5 1010.7,578.5 1012.2,578.5 1013.7,580.5 1015.1,580.5 1016.6,578.5 1018.1,578.5 1019.6,578.5 1021.1,580.5 1022.6,580.5 1024.1,580.5 1025.5,580.5 1027.0,580.5 1028.5,580.5 1030.0,578.5 1031.5,576.4 1033.0,574.4 1034.5,578.5 1035.9,578.5 1037.4,580.5 1038.9,578.5 1040.4,580.5 1041.9,580.5 1043.4,582.5 1044.1,578.5 1044.9,556.0 1046.3,490.7 1046.3,492.7 1047.8,496.8 1049.3,498.8 1049.3,496.8 1050.8,527.4 1052.3,564.2 1052.3,564.2 1053.8,576.4 1055.3,588.7 1056.7,596.8 1058.2,596.8 1058.2,596.8 1059.7,596.8 1061.2,596.8 1062.7,596.8 1062.7,594.8 1064.2,594.8 1065.7,594.8 1067.1,590.7 1068.6,590.7 1070.0,586.6 1070.1,586.6 1071.6,580.5 1073.1,578.5 1074.6,572.3 1076.1,566.2 1077.0,564.2 1077.6,562.1 1079.0,560.1 1080.5,551.9 1082.0,545.8 1083.5,541.7 1083.9,541.7 1085.0,539.7 1086.5,531.5 1088.0,525.4 1089.4,519.3 1089.6,521.3 1090.9,517.2 1092.4,511.1 1093.9,505.0 1095.4,500.9 1096.9,498.8 1098.4,498.8 1099.8,494.8 1100.9,494.8 1101.3,494.8 1102.8,492.7 1104.3,490.7 1105.8,488.6 1107.3,488.6 1108.8,486.6 1110.2,488.6 1111.7,482.5 1113.2,480.5 1114.7,476.4 1115.0,476.4 1116.2,478.4 1117.7,480.5 1119.2,482.5 1120.6,484.5 1122.1,486.6 1123.6,486.6 1125.1,488.6 1126.6,488.6 1127.5,488.6 1128.1,490.7 1129.6,492.7 1131.0,494.8 1132.5,494.8 1134.0,496.8 1135.5,496.8 1137.0,496.8 1138.5,498.8 1140.0,500.9 1141.4,505.0 1142.5,507.0 1142.9,507.0 1144.4,509.0 1145.9,509.0 1147.4,509.0 1148.9,513.1 1150.4,517.2 1151.9,521.3 1153.3,521.3 1154.8,523.3 1156.3,525.4 1157.8,529.5 1159.0,531.5 1159.3,531.5 1160.8,535.6 1162.3,535.6 1163.7,539.7 1165.2,541.7 1166.7,545.8 1168.2,547.8 1169.7,549.9 1171.2,554.0 1172.7,554.0 1174.1,556.0 1175.6,556.0 1175.6,558.0 1177.1,562.1 1178.6,566.2 1179.9,570.3 1180.1,570.3 1181.6,572.3 1183.1,574.4 1184.5,576.4 1186.0,578.5 1187.5,580.5 1189.0,582.5 1190.5,584.6 1192.0,584.6 1193.5,588.7 1194.9,594.8 1196.4,596.8 1197.9,598.9 1199.4,598.9 1200.9,600.9 1202.4,602.9 1203.9,605.0 1205.3,607.0 1206.8,607.0 1208.3,607.0 1209.8,609.1 1209.8,611.1 1211.3,613.2 1212.8,617.2 1214.3,619.3 1215.7,621.3 1217.2,621.3 1218.7,621.3 1220.2,623.4 1221.7,625.4 1223.2,629.5 1224.7,631.5 1226.2,631.5 1227.6,633.6 1229.1,635.6 1230.6,639.7 1232.1,641.7 1233.6,641.7 1235.1,643.8 1236.6,643.8 1238.0,645.8 1239.5,647.9 1239.5,649.9 1241.0,649.9 1242.5,651.9 1244.0,651.9 1245.5,654.0 1247.0,656.0 1248.4,660.1 1249.9,660.1 1251.4,660.1 1252.9,660.1 1254.4,662.1 1255.9,666.2 1257.4,668.3 1258.8,668.3 1260.3,670.3 1261.8,670.3 1263.3,672.4 1264.8,674.4 1266.3,676.4 1267.8,676.4 1269.2,676.4 1269.2,676.4 1270.7,680.5 1272.2,682.6 1273.7,684.6 1275.2,686.6 1276.7,686.6 1278.2,686.6 1279.6,688.7 1281.1,690.7 1282.6,692.8 1284.1,694.8 1285.6,696.9 1287.1,698.9 1288.6,698.9 1290.0,700.9 1291.5,705.0 1293.0,707.1 1294.5,707.1 1296.0,707.1 1297.5,709.1 1299.0,709.1 1300.5,709.1 1300.5,707.1 1301.9,711.1 1303.4,711.1 1304.9,711.1 1306.4,711.1 1307.9,713.2 1309.4,717.3 1310.9,717.3 1312.3,719.3 1313.8,719.3 1315.3,719.3 1316.8,721.4 1318.3,723.4 1319.8,723.4 1321.3,723.4 1322.7,723.4 1324.2,725.4 1325.7,725.4 1327.2,727.5 1328.7,727.5 1330.2,727.5 1331.7,729.5 1333.1,731.6 1334.6,733.6 1336.1,733.6 1337.6,735.6 1339.1,733.6 1339.8,735.6 1340.6,735.6 1342.1,735.6 1343.5,737.7 1345.0,737.7 1346.5,739.7 1348.0,739.7 1349.5,739.7 1351.0,739.7 1352.5,739.7 1353.9,739.7 1355.4,741.8 1356.9,743.8 1358.4,745.8 1359.9,747.9 1361.4,747.9 1362.9,747.9 1364.3,749.9 1365.8,749.9 1367.3,749.9 1368.8,752.0 1370.3,752.0 1371.8,754.0 1373.3,754.0 1374.8,754.0 1376.2,756.1 1377.7,756.1 1379.2,756.1 1379.2,758.1 1380.7,758.1 1382.2,760.1 1383.7,760.1 1385.2,760.1 1386.6,760.1 1388.1,760.1 1389.6,762.2 1391.1,762.2 1392.6,762.2 1394.1,762.2 1395.6,764.2 1397.0,764.2 1398.5,764.2 1400.0,766.3 1401.5,766.3 1403.0,768.3 1404.5,768.3 1406.0,768.3 1407.4,768.3 1408.9,768.3 1410.4,770.3 1411.9,770.3 1413.4,770.3 1414.9,772.4 1416.4,772.4 1417.8,772.4 1419.3,772.4 1419.3,772.4 1420.8,772.4 1422.3,772.4 1423.8,772.4 1425.3,772.4 1426.8,774.4 1428.2,774.4 1429.7,776.5 1431.2,778.5 1432.7,778.5 1434.2,780.6 1435.7,776.5 1437.2,776.5 1438.6,776.5 1440.1,778.5 1441.6,778.5 1443.1,780.6 1444.6,780.6 1446.1,782.6 1447.6,782.6 1449.1,782.6 1450.5,782.6 1452.0,782.6 1453.5,782.6 1455.0,780.6 1456.5,782.6 1458.0,784.6 1459.5,784.6 1460.9,786.7 1462.4,786.7 1463.9,786.7 1465.4,786.7 1466.9,786.7 1468.4,788.7 1469.9,788.7 1471.3,788.7 1472.8,788.7 1474.3,788.7 1475.8,788.7 1475.8,790.8"/>
<polyline stroke="#ff00ff" points="881.4,580.5 882.9,578.5 884.4,580.5 885.9,580.5 887.3,580.5 888.8,576.4 890.3,576.4 891.8,576.4 893.3,578.5 894.8,580.5 896.3,580.5 897.7,578.5 899.2,576.4 900.7,576.4 902.2,576.4 903.7,578.5 905.2,578.5 906.7,576.4 908.1,574.4 909.6,576.4 911.1,578.5 912.6,580.5 914.1,578.5 915.6,578.5 917.1,578.5 918.5,578.5 920.0,578.5 921.5,580.5 923.0,582.5 924.5,582.5 926.0,580.5 927.5,578.5 929.0,576.4 930.4,574.4 931.9,578.5 933.4,582.5 934.9,580.5 936.4,578.5 937.9,576.4 939.4,576.4 940.8,578.5 942.3,576.4 943.8,578.5 945.3,578.5 946.8,580.5 948.3,576.4 949.8,576.4 951.2,578.5 952.7,580.5 954.2,582.5 955.7,580.5 957.2,580.5 958.7,578.5 960.2,578.5 961.6,580.5 963.1,578.5 964.6,578.5 966.1,574.4 967.6,576.4 969.1,578.5 970.6,578.5 972.0,578.5 973.5,576.4 975.0,580.5 976.5,580.5 978.0,580.5 979.5,578.5 981.0,580.5 982.4,580.5 983.9,584.6 985.4,582.5 986.9,582.5 988.4,580.5 989.9,582.5 991.4,582.5 992.8,578.5 994.3,574.4 995.8,576.4 997.3,576.4 998.8,576.4 1000.3,576.4 1001.8,576.4 1003.3,578.5 1004.7,578.5 1006.2,576.4 1007.7,572.3 1009.2,572.3 1010.7,576.4 1012.2,582.5 1013.7,582.5 1015.1,578.5 1016.6,580.5 1018.1,580.5 1019.6,580.5 1021.1,578.5 1022.6,578.5 1024.1,578.5 1025.5,576.4 1027.0,574.4 1028.5,576.4 1030.0,580.5 1031.5,580.5 1033.0,580.5 1034.5,580.5 1035.9,578.5 1037.4,580.5 1038.9,578.5 1040.4,578.5 1041.9,574.4 1043.1,576.4 1043.4,570.3 1043.8,554.0 1044.9,464.1 1044.9,466.2 1046.3,394.7 1046.6,388.6 1047.8,390.6 1049.3,390.6 1049.3,390.6 1050.2,478.4 1050.8,478.4 1051.5,480.5 1052.3,547.8 1052.6,564.2 1053.8,570.3 1055.3,570.3 1056.0,572.3 1056.7,578.5 1057.5,586.6 1058.2,590.7 1059.7,594.8 1059.7,594.8 1061.2,592.7 1062.2,594.8 1062.7,594.8 1064.2,596.8 1065.7,590.7 1067.1,584.6 1068.6,578.5 1068.6,582.5 1070.1,576.4 1071.6,568.2 1073.1,558.0 1074.6,551.9 1074.6,554.0 1076.1,545.8 1077.6,537.6 1079.0,527.4 1079.8,525.4 1080.5,521.3 1082.0,513.1 1083.5,507.0 1085.0,498.8 1085.4,496.8 1086.5,488.6 1088.0,480.5 1089.4,472.3 1090.2,466.2 1090.9,466.2 1092.4,458.0 1093.9,456.0 1094.3,453.9 1095.4,456.0 1096.9,453.9 1098.4,449.8 1099.8,445.8 1100.9,443.7 1101.3,443.7 1102.8,443.7 1104.3,443.7 1105.8,445.8 1107.3,445.8 1108.8,445.8 1110.2,445.8 1111.7,445.8 1113.2,445.8 1114.7,445.8 1116.2,445.8 1117.7,441.7 1117.7,441.7 1119.2,441.7 1120.6,449.8 1122.1,447.8 1123.6,451.9 1125.1,453.9 1125.8,456.0 1126.6,453.9 1128.1,460.1 1129.6,464.1 1131.0,468.2 1132.5,468.2 1134.0,472.3 1135.5,472.3 1137.0,476.4 1138.5,480.5 1140.0,482.5 1141.4,488.6 1142.9,490.7 1144.4,496.8 1145.9,498.8 1147.4,502.9 1147.4,500.9 1148.9,505.0 1150.4,507.0 1151.9,513.1 1153.3,515.2 1154.8,517.2 1156.3,519.3 1157.8,523.3 1159.3,529.5 1160.8,529.5 1162.3,531.5 1163.7,533.5 1165.2,539.7 1166.7,543.7 1167.3,545.8 1168.2,545.8 1169.7,549.9 1171.2,551.9 1172.7,556.0 1174.1,558.0 1175.6,564.2 1177.1,568.2 1178.6,568.2 1180.1,570.3 1181.6,572.3 1183.1,574.4 1183.9,574.4 1184.5,576.4 1186.0,580.5 1187.5,584.6 1189.0,586.6 1190.5,588.7 1192.0,588.7 1193.5,592.7 1194.9,594.8 1196.4,598.9 1197.9,600.9 1199.4,602.9 1200.9,605.0 1202.4,609.1 1203.9,609.1 1205.3,611.1 1206.8,613.2 1208.3,615.2 1209.8,615.2 1209.8,617.2 1211.3,617.2 1212.8,619.3 1214.3,621.3 1215.7,623.4 1217.2,627.4 1218.7,627.4 1220.2,631.5 1221.7,633.6 1223.2,635.6 1224.7,637.7 1226.2,643.8 1227.6,645.8 1229.1,645.8 1230.6,643.8 1232.1,645.8 1233.6,647.9 1235.1,651.9 1236.6,654.0 1238.0,656.0 1239.5,658.1 1239.5,658.1 1241.0,658.1 1242.5,660.1 1244.0,662.1 1245.5,664.2 1247.0,666.2 1248.4,668.3 1249.9,670.3 1251.4,672.4 1252.9,670.3 1254.4,672.4 1255.9,674.4 1257.4,676.4 1258.8,676.4 1260.3,678.5 1261.8,680.5 1263.3,684.6 1264.8,686.6 1266.3,688.7 1267.8,690.7 1269.2,690.7 1269.2,688.7 1270.7,688.7 1272.2,690.7 1273.7,692.8 1275.2,692.8 1276.7,694.8 1278.2,696.9 1279.6,698.9 1281.1,700.9 1282.6,700.9 1284.1,703.0 1285.6,705.0 1287.1,705.0 1288.6,709.1 1290.0,711.1 1291.5,713.2 1293.0,713.2 1294.5,715.2 1296.0,715.2 1297.5,717.3 1299.0,717.3 1300.5,719.3 1300.5,719.3 1301.9,721.4 1303.4,721.4 1304.9,723.4 1306.4,723.4 1307.9,723.4 1309.4,727.5 1310.9,725.4 1312.3,729.5 1313.8,731.6 1315.3,733.6 1316.8,731.6 1318.3,731.6 1319.8,729.5 1321.3,731.6 1322.7,731.6 1324.2,735.6 1325.7,735.6 1327.2,735.6 1328.7,737.7 1330.2,739.7 1331.7,741.8 1333.1,741.8 1334.6,739.7 1336.1,739.7 1337.6,741.8 1339.1,743.8 1339.8,743.8 1340.6,743.8 1342.1,743.8 1343.5,747.9 1345.0,747.9 1346.5,749.9 1348.0,749.9 1349.5,752.0 1351.0,754.0 1352.5,754.0 1353.9,754.0 1355.4,754.0 1356.9,756.1 1358.4,756.1 1359.9,756.1 1361.4,758.1 1362.9,760.1 1364.3,762.2 1365.8,762.2 1367.3,762.2 1368.8,762.2 1370.3,762.2 1371.8,762.2 1373.3,764.2 1374.8,764.2 1376.2,766.3 1377.7,766.3 1379.2,768.3 1379.2,768.3 1380.7,770.3 1382.2,772.4 1383.7,772.4 1385.2,772.4 1386.6,772.4 1388.1,772.4 1389.6,772.4 1391.1,772.4 1392.6,774.4 1394.1,776.5 1395.6,776.5 1397.0,776.5 1398.5,776.5 1400.0,778.5 1401.5,778.5 1403.0,778.5 1404.5,780.6 1406.0,780.6 1407.4,780.6 1408.9,782.6 1410.4,782.6 1411.9,784.6 1413.4,784.6 1414.9,782.6 1416.4,782.6 1417.8,786.7 1419.3,786.7 1419.3,786.7 1420.8,786.7 1422.3,786.7 1423.8,786.7 1425.3,786.7 1426.8,786.7 1428.2,788.7 1429.7,788.7 1431.2,790.8 1432.7,790.8 1434.2,790.8 1435.7,790.8 1437.2,790.8 1438.6,790.8 1440.1,792.8 1441.6,792.8 1443.1,792.8 1444.6,792.8 1446.1,792.8 1447.6,794.8 1449.1,794.8 1450.5,794.8 1452.0,794.8 1453.5,796.9 1455.0,796.9 1456.5,794.8 1458.0,794.8 1459.5,794.8 1460.9,794.8 1462.4,794.8 1463.9,794.8 1465.4,796.9 1466.9,796.9 1468.4,796.9 1469.9,798.9 1471.3,798.9 1472.8,798.9 1474.3,796.9 1475.8,798.9 1475.8,796.9"/>
</g>
<rect x="879.4" y="416.5" width="597.6" height="435.5" fill="none" stroke="#000" stroke-width="4.2"/>
<line x1="955.7" y1="852.0" x2="955.7" y2="847.5" stroke="#000" stroke-width="3.6"/>
<line x1="955.7" y1="416.5" x2="955.7" y2="423.0" stroke="#000" stroke-width="3.6"/>
<line x1="1030.0" y1="852.0" x2="1030.0" y2="843.5" stroke="#000" stroke-width="3.6"/>
<line x1="1030.0" y1="416.5" x2="1030.0" y2="427.0" stroke="#000" stroke-width="3.6"/>
<line x1="1104.3" y1="852.0" x2="1104.3" y2="847.5" stroke="#000" stroke-width="3.6"/>
<line x1="1104.3" y1="416.5" x2="1104.3" y2="423.0" stroke="#000" stroke-width="3.6"/>
<line x1="1178.6" y1="852.0" x2="1178.6" y2="843.5" stroke="#000" stroke-width="3.6"/>
<line x1="1178.6" y1="416.5" x2="1178.6" y2="427.0" stroke="#000" stroke-width="3.6"/>
<line x1="1252.9" y1="852.0" x2="1252.9" y2="847.5" stroke="#000" stroke-width="3.6"/>
<line x1="1252.9" y1="416.5" x2="1252.9" y2="423.0" stroke="#000" stroke-width="3.6"/>
<line x1="1327.2" y1="852.0" x2="1327.2" y2="843.5" stroke="#000" stroke-width="3.6"/>
<line x1="1327.2" y1="416.5" x2="1327.2" y2="427.0" stroke="#000" stroke-width="3.6"/>
<line x1="1401.5" y1="852.0" x2="1401.5" y2="847.5" stroke="#000" stroke-width="3.6"/>
<line x1="1401.5" y1="416.5" x2="1401.5" y2="423.0" stroke="#000" stroke-width="3.6"/>
<line x1="879.4" y1="824.8" x2="887.9" y2="824.8" stroke="#000" stroke-width="3.6"/>
<line x1="1477.0" y1="824.8" x2="1472.4" y2="824.8" stroke="#000" stroke-width="3.6"/>
<line x1="879.4" y1="797.6" x2="890.4" y2="797.6" stroke="#000" stroke-width="3.6"/>
<line x1="1477.0" y1="797.6" x2="1467.5" y2="797.6" stroke="#000" stroke-width="3.6"/>
<line x1="879.4" y1="770.3" x2="887.9" y2="770.3" stroke="#000" stroke-width="3.6"/>
<line x1="1477.0" y1="770.3" x2="1472.4" y2="770.3" stroke="#000" stroke-width="3.6"/>
<line x1="879.4" y1="743.1" x2="890.4" y2="743.1" stroke="#000" stroke-width="3.6"/>
<line x1="1477.0" y1="743.1" x2="1467.5" y2="743.1" stroke="#000" stroke-width="3.6"/>
<line x1="879.4" y1="715.9" x2="887.9" y2="715.9" stroke="#000" stroke-width="3.6"/>
<line x1="1477.0" y1="715.9" x2="1472.4" y2="715.9" stroke="#000" stroke-width="3.6"/>
<line x1="879.4" y1="688.7" x2="890.4" y2="688.7" stroke="#000" stroke-width="3.6"/>
<line x1="1477.0" y1="688.7" x2="1467.5" y2="688.7" stroke="#000" stroke-width="3.6"/>
<line x1="879.4" y1="661.5" x2="887.9" y2="661.5" stroke="#000" stroke-width="3.6"/>
<line x1="1477.0" y1="661.5" x2="1472.4" y2="661.5" stroke="#000" stroke-width="3.6"/>
<line x1="879.4" y1="634.2" x2="890.4" y2="634.2" stroke="#000" stroke-width="3.6"/>
<line x1="1477.0" y1="634.2" x2="1467.5" y2="634.2" stroke="#000" stroke-width="3.6"/>
<line x1="879.4" y1="607.0" x2="887.9" y2="607.0" stroke="#000" stroke-width="3.6"/>
<line x1="1477.0" y1="607.0" x2="1472.4" y2="607.0" stroke="#000" stroke-width="3.6"/>
<line x1="879.4" y1="579.8" x2="890.4" y2="579.8" stroke="#000" stroke-width="3.6"/>
<line x1="1477.0" y1="579.8" x2="1467.5" y2="579.8" stroke="#000" stroke-width="3.6"/>
<line x1="879.4" y1="552.6" x2="887.9" y2="552.6" stroke="#000" stroke-width="3.6"/>
<line x1="1477.0" y1="552.6" x2="1472.4" y2="552.6" stroke="#000" stroke-width="3.6"/>
<line x1="879.4" y1="525.4" x2="890.4" y2="525.4" stroke="#000" stroke-width="3.6"/>
<line x1="1477.0" y1="525.4" x2="1467.5" y2="525.4" stroke="#000" stroke-width="3.6"/>
<line x1="879.4" y1="498.2" x2="887.9" y2="498.2" stroke="#000" stroke-width="3.6"/>
<line x1="1477.0" y1="498.2" x2="1472.4" y2="498.2" stroke="#000" stroke-width="3.6"/>
<line x1="879.4" y1="470.9" x2="890.4" y2="470.9" stroke="#000" stroke-width="3.6"/>
<line x1="1477.0" y1="470.9" x2="1467.5" y2="470.9" stroke="#000" stroke-width="3.6"/>
<line x1="879.4" y1="443.7" x2="887.9" y2="443.7" stroke="#000" stroke-width="3.6"/>
<line x1="1477.0" y1="443.7" x2="1472.4" y2="443.7" stroke="#000" stroke-width="3.6"/>
<text x="0" y="0" font-size="33" text-anchor="end" fill="#000" transform="translate(869.90,861.89) scale(1.05,1.0)">0.0</text>
<text x="0" y="0" font-size="33" text-anchor="end" fill="#000" transform="translate(869.90,807.45) scale(1.05,1.0)">0.2</text>
<text x="0" y="0" font-size="33" text-anchor="end" fill="#000" transform="translate(869.90,753.01) scale(1.05,1.0)">0.4</text>
<text x="0" y="0" font-size="33" text-anchor="end" fill="#000" transform="translate(869.90,698.58) scale(1.05,1.0)">0.6</text>
<text x="0" y="0" font-size="33" text-anchor="end" fill="#000" transform="translate(869.90,644.14) scale(1.05,1.0)">0.8</text>
<text x="0" y="0" font-size="33" text-anchor="end" fill="#000" transform="translate(869.90,589.70) scale(1.05,1.0)">1.0</text>
<text x="0" y="0" font-size="33" text-anchor="end" fill="#000" transform="translate(869.90,535.26) scale(1.05,1.0)">1.2</text>
<text x="0" y="0" font-size="33" text-anchor="end" fill="#000" transform="translate(869.90,480.83) scale(1.05,1.0)">1.4</text>
<text x="0" y="0" font-size="33" text-anchor="end" fill="#000" transform="translate(869.90,426.39) scale(1.05,1.0)">1.6</text>
<text x="0" y="0" font-size="33" text-anchor="middle" fill="#000" transform="translate(879.60,889.00) scale(1.05,1.0)">-10</text>
<text x="0" y="0" font-size="33" text-anchor="middle" fill="#000" transform="translate(1028.20,889.00) scale(1.05,1.0)">0</text>
<text x="0" y="0" font-size="33" text-anchor="middle" fill="#000" transform="translate(1176.80,889.00) scale(1.05,1.0)">10</text>
<text x="0" y="0" font-size="33" text-anchor="middle" fill="#000" transform="translate(1325.40,889.00) scale(1.05,1.0)">20</text>
<text x="0" y="0" font-size="33" text-anchor="middle" fill="#000" transform="translate(1474.00,889.00) scale(1.05,1.0)">30</text>
<text x="0" y="0" font-size="45.1" text-anchor="middle" fill="#000" transform="translate(797.90,640.80) rotate(-90) scale(1.0,1.04)">OLED Intensity (a.u.)</text>
<text x="0" y="0" font-size="42.6" text-anchor="middle" transform="translate(1196.1,940.6) scale(1.02,1)">Tim<tspan dx="6">e</tspan> (μs)</text>
<text x="0" y="0" font-size="56" text-anchor="middle" fill="#000" transform="translate(946.90,485.90) scale(1.08,1.0)">(c)</text>
<line x1="1309.0" y1="462.5" x2="1380.5" y2="462.5" stroke="#000" stroke-width="3.6"/>
<text x="0" y="0" font-size="32" text-anchor="start" fill="#000" transform="translate(1388.00,471.16) scale(1.04,1.0)">0 V</text>
<line x1="1309.0" y1="505.8" x2="1380.5" y2="505.8" stroke="#ff0000" stroke-width="3.6"/>
<text x="0" y="0" font-size="32" text-anchor="start" fill="#000" transform="translate(1388.00,514.46) scale(1.04,1.0)">-1 V</text>
<line x1="1309.0" y1="549.1" x2="1380.5" y2="549.1" stroke="#d88030" stroke-width="3.6"/>
<text x="0" y="0" font-size="32" text-anchor="start" fill="#000" transform="translate(1388.00,557.76) scale(1.04,1.0)">-2 V</text>
<line x1="1309.0" y1="592.4" x2="1380.5" y2="592.4" stroke="#30c840" stroke-width="3.6"/>
<text x="0" y="0" font-size="32" text-anchor="start" fill="#000" transform="translate(1388.00,601.06) scale(1.04,1.0)">-4 V</text>
<line x1="1309.0" y1="635.7" x2="1380.5" y2="635.7" stroke="#000080" stroke-width="3.6"/>
<text x="0" y="0" font-size="32" text-anchor="start" fill="#000" transform="translate(1388.00,644.36) scale(1.04,1.0)">-6 V</text>
<line x1="1309.0" y1="679.0" x2="1380.5" y2="679.0" stroke="#b010b0" stroke-width="3.6"/>
<text x="0" y="0" font-size="32" text-anchor="start" fill="#000" transform="translate(1388.00,687.66) scale(1.04,1.0)">-8 V</text>
<clipPath id="clipd"><rect x="119" y="962" width="598" height="437"/></clipPath>
<g clip-path="url(#clipd)" fill="none" stroke-width="3.4" stroke-linejoin="round">
<polyline stroke="#000000" points="120.8,1068.2 122.3,1068.2 123.8,1068.2 125.3,1066.2 126.8,1066.2 128.3,1068.2 129.8,1066.2 131.3,1066.2 132.7,1066.2 134.2,1068.2 135.7,1068.2 137.2,1070.2 138.7,1068.2 140.2,1068.2 141.7,1068.2 143.2,1070.2 144.7,1070.2 146.2,1070.2 147.7,1068.2 149.2,1066.2 150.7,1064.2 152.2,1068.2 153.6,1074.3 155.1,1074.3 156.6,1072.3 158.1,1068.2 159.6,1068.2 161.1,1064.2 162.6,1066.2 164.1,1066.2 165.6,1066.2 167.1,1064.2 168.6,1062.2 170.1,1066.2 171.6,1070.2 173.1,1070.2 174.5,1070.2 176.0,1070.2 177.5,1070.2 179.0,1070.2 180.5,1070.2 182.0,1070.2 183.5,1070.2 185.0,1068.2 186.5,1068.2 188.0,1068.2 189.5,1066.2 191.0,1064.2 192.5,1068.2 194.0,1068.2 195.4,1068.2 196.9,1066.2 198.4,1068.2 199.9,1066.2 201.4,1068.2 202.9,1068.2 204.4,1070.2 205.9,1070.2 207.4,1068.2 208.9,1068.2 210.4,1070.2 211.9,1070.2 213.4,1070.2 214.9,1068.2 216.4,1066.2 217.8,1068.2 219.3,1068.2 220.8,1068.2 222.3,1066.2 223.8,1068.2 225.3,1068.2 226.8,1068.2 228.3,1064.2 229.8,1066.2 231.3,1070.2 232.8,1070.2 234.3,1070.2 235.8,1068.2 237.3,1066.2 238.7,1068.2 240.2,1072.3 241.7,1070.2 243.2,1068.2 244.7,1066.2 246.2,1068.2 247.7,1068.2 249.2,1066.2 250.7,1064.2 252.2,1066.2 253.7,1066.2 255.2,1068.2 256.7,1066.2 258.2,1070.2 259.6,1070.2 261.1,1072.3 262.6,1070.2 264.1,1070.2 265.6,1070.2 267.1,1066.2 268.6,1068.2 270.1,1066.2 271.6,1064.2 273.1,1064.2 274.6,1066.2 274.6,1070.2 276.1,1084.4 276.8,1090.4 277.6,1072.3 279.1,985.5 280.6,929.1 280.6,927.0 282.0,927.0 283.5,927.0 284.3,929.1 285.0,937.1 286.5,983.5 288.0,1042.0 289.5,1078.3 289.5,1078.3 291.0,1098.5 292.5,1110.6 294.0,1112.6 295.5,1116.6 295.5,1118.6 297.0,1128.7 298.5,1132.8 300.0,1134.8 301.5,1140.8 302.9,1142.9 304.4,1144.9 305.9,1148.9 305.9,1148.9 307.4,1152.9 308.9,1157.0 310.4,1161.0 311.9,1163.0 313.4,1167.1 313.8,1167.1 314.9,1167.1 316.4,1169.1 317.9,1169.1 319.4,1173.1 320.9,1175.1 321.9,1175.1 322.4,1177.1 323.8,1177.1 325.3,1179.2 326.8,1181.2 328.3,1183.2 329.8,1185.2 331.3,1189.2 332.8,1189.2 333.1,1187.2 334.3,1187.2 335.8,1189.2 337.3,1195.3 338.8,1195.3 340.3,1195.3 341.8,1193.3 343.3,1195.3 344.7,1197.3 345.8,1197.3 346.2,1197.3 347.7,1195.3 349.2,1197.3 350.7,1199.3 352.2,1203.4 353.7,1203.4 355.2,1203.4 356.7,1205.4 358.2,1205.4 359.7,1209.4 361.2,1209.4 362.7,1209.4 364.2,1211.4 365.7,1211.4 367.1,1209.4 368.6,1209.4 370.0,1211.4 370.1,1213.4 371.6,1211.4 373.1,1211.4 374.6,1213.4 376.1,1217.5 377.6,1219.5 379.1,1221.5 380.6,1219.5 382.1,1221.5 383.6,1219.5 385.1,1219.5 386.6,1223.5 388.0,1225.5 388.0,1227.6 389.5,1225.5 391.0,1225.5 392.5,1225.5 394.0,1227.6 395.5,1227.6 397.0,1227.6 398.5,1229.6 400.0,1231.6 401.5,1235.6 403.0,1235.6 404.5,1239.7 406.0,1237.6 406.0,1237.6 407.5,1237.6 408.9,1239.7 410.4,1241.7 411.9,1241.7 413.4,1243.7 414.9,1243.7 416.4,1245.7 417.9,1247.7 419.4,1247.7 420.3,1247.7 420.9,1247.7 422.4,1249.7 423.9,1247.7 425.4,1249.7 426.9,1251.8 428.4,1253.8 429.9,1255.8 431.3,1257.8 432.8,1257.8 432.8,1257.8 434.3,1257.8 435.8,1259.8 437.3,1259.8 438.8,1259.8 440.3,1263.9 441.8,1263.9 443.3,1263.9 444.8,1265.9 445.5,1265.9 446.3,1265.9 447.8,1267.9 449.3,1269.9 450.8,1269.9 452.2,1269.9 453.7,1271.9 455.2,1269.9 456.7,1271.9 458.2,1274.0 459.7,1276.0 459.9,1276.0 461.2,1274.0 462.7,1276.0 464.2,1278.0 465.7,1278.0 467.2,1280.0 468.7,1280.0 470.2,1282.0 471.7,1284.0 473.1,1286.1 474.6,1286.1 476.1,1286.1 477.6,1288.1 477.8,1288.1 479.1,1290.1 480.6,1292.1 482.1,1292.1 483.6,1294.1 485.1,1294.1 486.6,1294.1 488.1,1292.1 489.6,1294.1 491.1,1296.1 492.6,1296.1 494.0,1298.2 495.5,1296.1 497.0,1298.2 498.5,1296.1 500.0,1298.2 501.5,1298.2 503.0,1300.2 504.5,1302.2 506.0,1300.2 507.5,1300.2 509.0,1302.2 510.5,1302.2 512.0,1304.2 513.5,1304.2 513.8,1304.2 515.0,1304.2 516.4,1306.2 517.9,1308.2 519.4,1308.2 520.9,1308.2 522.4,1308.2 523.9,1308.2 525.4,1308.2 526.9,1310.3 528.4,1312.3 529.9,1312.3 531.4,1310.3 532.9,1312.3 534.4,1314.3 535.9,1316.3 537.3,1316.3 538.8,1316.3 540.3,1318.3 541.8,1318.3 543.3,1316.3 544.8,1318.3 546.3,1318.3 547.8,1318.3 549.3,1320.3 549.7,1318.3 550.8,1320.3 552.3,1322.4 553.8,1324.4 555.3,1324.4 556.8,1324.4 558.2,1324.4 559.7,1326.4 561.2,1324.4 562.7,1326.4 564.2,1324.4 565.7,1328.4 567.2,1328.4 567.2,1328.4 568.7,1328.4 570.2,1328.4 571.7,1330.4 573.2,1330.4 574.7,1328.4 576.2,1328.4 577.7,1328.4 579.2,1328.4 580.6,1332.4 582.1,1332.4 583.6,1332.4 585.1,1332.4 586.6,1330.4 588.1,1332.4 589.6,1334.5 591.1,1336.5 592.0,1334.5 592.6,1336.5 594.1,1336.5 595.6,1336.5 597.1,1336.5 598.6,1336.5 600.1,1336.5 601.5,1338.5 603.0,1338.5 604.5,1338.5 606.0,1340.5 607.5,1340.5 609.0,1340.5 610.5,1338.5 612.0,1340.5 613.5,1340.5 615.0,1342.5 616.5,1342.5 618.0,1344.5 619.5,1342.5 621.0,1344.5 622.4,1344.5 623.9,1344.5 623.9,1346.6 625.4,1344.5 626.9,1344.5 628.4,1346.6 629.9,1346.6 631.4,1346.6 632.9,1346.6 634.4,1348.6 635.9,1348.6 637.4,1350.6 638.9,1350.6 640.4,1350.6 641.9,1350.6 643.3,1350.6 644.8,1350.6 646.3,1350.6 647.8,1352.6 649.3,1350.6 650.8,1352.6 652.3,1350.6 653.8,1352.6 655.3,1352.6 656.0,1354.6 656.8,1352.6 658.3,1352.6 659.8,1354.6 661.3,1354.6 662.8,1354.6 664.3,1354.6 665.7,1354.6 667.2,1356.6 668.7,1356.6 670.2,1356.6 671.7,1356.6 673.2,1356.6 674.7,1356.6 676.2,1356.6 677.7,1356.6 679.2,1358.7 680.7,1356.6 682.2,1356.6 683.7,1356.6 685.2,1358.7 686.6,1356.6 688.1,1356.6 688.1,1358.7 689.6,1358.7 691.1,1358.7 692.6,1360.7 694.1,1358.7 695.6,1360.7 697.1,1358.7 698.6,1358.7 700.1,1358.7 701.6,1358.7 703.1,1358.7 704.6,1358.7 706.1,1358.7 707.5,1360.7 709.0,1358.7 710.5,1358.7 712.0,1360.7 713.5,1358.7 715.0,1360.7 716.5,1360.7 718.0,1360.7 718.0,1358.7"/>
<polyline stroke="#ff0000" points="120.8,1068.2 122.3,1066.2 123.8,1066.2 125.3,1066.2 126.8,1070.2 128.3,1070.2 129.8,1070.2 131.3,1066.2 132.7,1064.2 134.2,1060.2 135.7,1062.2 137.2,1064.2 138.7,1066.2 140.2,1066.2 141.7,1062.2 143.2,1060.2 144.7,1062.2 146.2,1064.2 147.7,1068.2 149.2,1068.2 150.7,1068.2 152.2,1068.2 153.6,1064.2 155.1,1062.2 156.6,1062.2 158.1,1062.2 159.6,1062.2 161.1,1060.2 162.6,1062.2 164.1,1064.2 165.6,1066.2 167.1,1066.2 168.6,1066.2 170.1,1066.2 171.6,1066.2 173.1,1066.2 174.5,1066.2 176.0,1066.2 177.5,1070.2 179.0,1068.2 180.5,1066.2 182.0,1064.2 183.5,1064.2 185.0,1064.2 186.5,1066.2 188.0,1066.2 189.5,1066.2 191.0,1064.2 192.5,1064.2 194.0,1060.2 195.4,1062.2 196.9,1060.2 198.4,1062.2 199.9,1062.2 201.4,1066.2 202.9,1070.2 204.4,1068.2 205.9,1066.2 207.4,1064.2 208.9,1064.2 210.4,1066.2 211.9,1066.2 213.4,1068.2 214.9,1068.2 216.4,1068.2 217.8,1068.2 219.3,1064.2 220.8,1066.2 222.3,1066.2 223.8,1072.3 225.3,1068.2 226.8,1068.2 228.3,1064.2 229.8,1066.2 231.3,1064.2 232.8,1066.2 234.3,1068.2 235.8,1066.2 237.3,1066.2 238.7,1066.2 240.2,1070.2 241.7,1066.2 243.2,1064.2 244.7,1064.2 246.2,1066.2 247.7,1066.2 249.2,1066.2 250.7,1066.2 252.2,1066.2 253.7,1062.2 255.2,1062.2 256.7,1064.2 258.2,1064.2 259.6,1066.2 261.1,1070.2 262.6,1074.3 264.1,1072.3 265.6,1070.2 267.1,1066.2 268.6,1066.2 270.1,1066.2 271.6,1066.2 273.1,1064.2 274.6,1060.2 274.6,1060.2 276.1,1080.3 276.8,1086.4 277.6,1072.3 279.1,983.5 280.6,929.1 280.6,925.0 282.0,925.0 283.5,927.0 284.3,929.1 285.0,935.1 286.5,981.5 288.0,1042.0 289.5,1084.4 289.5,1084.4 291.0,1096.5 292.5,1104.5 294.0,1108.6 295.5,1116.6 295.5,1118.6 297.0,1124.7 298.5,1130.7 300.0,1132.8 301.5,1136.8 302.9,1136.8 304.4,1142.9 305.9,1146.9 305.9,1146.9 307.4,1146.9 308.9,1148.9 310.4,1155.0 311.9,1159.0 313.4,1159.0 314.9,1157.0 316.4,1157.0 317.1,1161.0 317.9,1165.0 319.4,1169.1 320.9,1173.1 322.4,1171.1 323.8,1169.1 325.3,1167.1 326.8,1169.1 328.3,1169.1 329.8,1171.1 329.8,1171.1 331.3,1171.1 332.8,1173.1 334.3,1177.1 335.8,1179.2 337.3,1179.2 338.8,1179.2 340.3,1179.2 341.8,1179.2 343.3,1177.1 344.7,1179.2 345.8,1179.2 346.2,1179.2 347.7,1175.1 349.2,1175.1 350.7,1177.1 352.2,1181.2 353.7,1181.2 355.2,1177.1 356.7,1175.1 358.2,1175.1 359.7,1177.1 361.2,1177.1 361.8,1179.2 362.7,1183.2 364.2,1183.2 365.7,1181.2 367.1,1181.2 368.6,1181.2 370.1,1187.2 371.6,1185.2 373.1,1185.2 374.6,1185.2 376.1,1185.2 377.6,1185.2 377.7,1185.2 379.1,1183.2 380.6,1185.2 382.1,1187.2 383.6,1189.2 385.1,1193.3 386.6,1193.3 388.0,1193.3 389.5,1189.2 391.0,1189.2 392.5,1189.2 393.7,1195.3 394.0,1195.3 395.5,1197.3 397.0,1199.3 398.5,1201.3 400.0,1201.3 401.5,1203.4 403.0,1207.4 404.5,1205.4 406.0,1207.4 406.0,1205.4 407.5,1207.4 408.9,1209.4 410.4,1211.4 411.9,1213.4 413.4,1217.5 414.9,1223.5 416.4,1225.5 417.9,1227.6 419.4,1225.5 420.9,1225.5 422.4,1227.6 423.9,1231.6 423.9,1233.6 425.4,1233.6 426.9,1235.6 428.4,1237.6 429.9,1239.7 431.3,1237.6 432.8,1239.7 434.3,1241.7 435.8,1245.7 437.3,1245.7 438.8,1247.7 440.3,1247.7 441.8,1249.7 441.8,1247.7 443.3,1245.7 444.8,1245.7 446.3,1249.7 447.8,1253.8 449.3,1255.8 450.8,1257.8 452.2,1259.8 453.7,1259.8 455.2,1261.8 456.7,1261.8 458.2,1261.8 459.7,1265.9 459.9,1263.9 461.2,1267.9 462.7,1267.9 464.2,1269.9 465.7,1267.9 467.2,1269.9 468.7,1267.9 470.2,1271.9 471.7,1274.0 473.1,1274.0 474.6,1278.0 476.1,1280.0 477.6,1280.0 477.8,1276.0 479.1,1276.0 480.6,1278.0 482.1,1278.0 483.6,1282.0 485.1,1282.0 486.6,1286.1 488.1,1286.1 489.6,1286.1 491.1,1286.1 492.6,1290.1 494.0,1292.1 495.5,1292.1 497.0,1290.1 498.5,1290.1 500.0,1290.1 501.5,1294.1 503.0,1292.1 504.5,1292.1 504.8,1290.1 506.0,1290.1 507.5,1290.1 509.0,1292.1 510.5,1294.1 512.0,1296.1 513.5,1296.1 515.0,1298.2 516.4,1296.1 517.9,1296.1 519.4,1296.1 520.9,1298.2 522.4,1298.2 523.9,1300.2 525.4,1302.2 526.9,1304.2 528.4,1304.2 529.9,1304.2 531.4,1304.2 531.7,1302.2 532.9,1302.2 534.4,1304.2 535.9,1306.2 537.3,1308.2 538.8,1308.2 540.3,1308.2 541.8,1310.3 543.3,1310.3 544.8,1312.3 546.3,1312.3 547.8,1314.3 549.3,1314.3 550.8,1316.3 552.3,1314.3 553.8,1314.3 555.3,1314.3 556.8,1316.3 558.2,1318.3 559.7,1320.3 561.2,1322.4 562.7,1320.3 564.2,1320.3 565.7,1320.3 567.2,1322.4 567.2,1322.4 568.7,1324.4 570.2,1324.4 571.7,1326.4 573.2,1326.4 574.7,1326.4 576.2,1328.4 577.7,1328.4 579.2,1330.4 580.6,1330.4 582.1,1330.4 583.6,1330.4 585.1,1330.4 586.6,1332.4 588.1,1334.5 589.6,1334.5 591.1,1334.5 592.0,1334.5 592.6,1336.5 594.1,1338.5 595.6,1338.5 597.1,1338.5 598.6,1340.5 600.1,1340.5 601.5,1342.5 603.0,1340.5 604.5,1340.5 606.0,1340.5 607.5,1340.5 609.0,1340.5 610.5,1342.5 612.0,1344.5 613.5,1344.5 615.0,1344.5 616.5,1342.5 618.0,1344.5 619.5,1344.5 621.0,1346.6 622.4,1344.5 623.9,1344.5 623.9,1344.5 625.4,1346.6 626.9,1348.6 628.4,1348.6 629.9,1348.6 631.4,1348.6 632.9,1348.6 634.4,1350.6 635.9,1352.6 637.4,1352.6 638.9,1350.6 640.4,1350.6 641.9,1352.6 643.3,1352.6 644.8,1350.6 646.3,1352.6 647.8,1352.6 649.3,1354.6 650.8,1354.6 652.3,1354.6 653.8,1354.6 655.3,1354.6 656.0,1356.6 656.8,1356.6 658.3,1356.6 659.8,1356.6 661.3,1356.6 662.8,1356.6 664.3,1356.6 665.7,1356.6 667.2,1356.6 668.7,1356.6 670.2,1356.6 671.7,1356.6 673.2,1356.6 674.7,1358.7 676.2,1358.7 677.7,1358.7 679.2,1358.7 680.7,1358.7 682.2,1358.7 683.7,1360.7 685.2,1360.7 686.6,1360.7 688.1,1360.7 688.1,1360.7 689.6,1360.7 691.1,1360.7 692.6,1358.7 694.1,1360.7 695.6,1358.7 697.1,1358.7 698.6,1360.7 700.1,1360.7 701.6,1362.7 703.1,1362.7 704.6,1362.7 706.1,1360.7 707.5,1360.7 709.0,1360.7 710.5,1362.7 712.0,1362.7 713.5,1362.7 715.0,1360.7 716.5,1362.7 718.0,1360.7 718.0,1362.7"/>
<polyline stroke="#ff8000" points="120.8,1066.2 122.3,1064.2 123.8,1064.2 125.3,1062.2 126.8,1062.2 128.3,1064.2 129.8,1068.2 131.3,1072.3 132.7,1068.2 134.2,1068.2 135.7,1066.2 137.2,1066.2 138.7,1066.2 140.2,1064.2 141.7,1066.2 143.2,1066.2 144.7,1068.2 146.2,1066.2 147.7,1066.2 149.2,1064.2 150.7,1062.2 152.2,1060.2 153.6,1064.2 155.1,1062.2 156.6,1064.2 158.1,1062.2 159.6,1066.2 161.1,1068.2 162.6,1064.2 164.1,1064.2 165.6,1062.2 167.1,1068.2 168.6,1068.2 170.1,1070.2 171.6,1068.2 173.1,1068.2 174.5,1068.2 176.0,1066.2 177.5,1064.2 179.0,1066.2 180.5,1068.2 182.0,1072.3 183.5,1068.2 185.0,1068.2 186.5,1066.2 188.0,1064.2 189.5,1066.2 191.0,1066.2 192.5,1068.2 194.0,1066.2 195.4,1068.2 196.9,1066.2 198.4,1070.2 199.9,1066.2 201.4,1066.2 202.9,1064.2 204.4,1064.2 205.9,1068.2 207.4,1068.2 208.9,1066.2 210.4,1064.2 211.9,1062.2 213.4,1064.2 214.9,1064.2 216.4,1068.2 217.8,1068.2 219.3,1066.2 220.8,1068.2 222.3,1070.2 223.8,1070.2 225.3,1070.2 226.8,1068.2 228.3,1064.2 229.8,1068.2 231.3,1066.2 232.8,1068.2 234.3,1068.2 235.8,1068.2 237.3,1066.2 238.7,1064.2 240.2,1062.2 241.7,1062.2 243.2,1062.2 244.7,1064.2 246.2,1068.2 247.7,1070.2 249.2,1070.2 250.7,1068.2 252.2,1066.2 253.7,1064.2 255.2,1064.2 256.7,1062.2 258.2,1064.2 259.6,1064.2 261.1,1066.2 262.6,1066.2 264.1,1068.2 265.6,1068.2 267.1,1064.2 268.6,1068.2 270.1,1066.2 271.6,1070.2 273.1,1068.2 274.6,1068.2 274.6,1068.2 276.1,1084.4 276.8,1092.4 277.6,1076.3 279.1,987.5 280.6,927.0 280.6,923.0 282.0,925.0 283.5,923.0 284.3,925.0 285.0,935.1 286.5,987.5 288.0,1042.0 289.5,1080.3 289.5,1076.3 291.0,1090.4 292.5,1102.5 294.0,1112.6 295.5,1122.7 295.5,1118.6 297.0,1122.7 298.5,1124.7 300.0,1132.8 300.6,1134.8 301.5,1138.8 302.9,1140.8 304.4,1146.9 305.9,1146.9 307.4,1148.9 308.9,1146.9 310.4,1148.9 310.7,1146.9 311.9,1148.9 313.4,1148.9 314.9,1155.0 316.4,1159.0 317.9,1159.0 319.4,1157.0 320.3,1157.0 320.9,1157.0 322.4,1157.0 323.8,1155.0 325.3,1157.0 326.8,1157.0 328.3,1159.0 329.8,1159.0 329.8,1155.0 331.3,1152.9 332.8,1150.9 334.3,1150.9 335.8,1146.9 337.3,1146.9 338.8,1144.9 339.5,1148.9 340.3,1148.9 341.8,1148.9 343.3,1146.9 344.7,1144.9 346.2,1142.9 347.7,1140.8 348.9,1142.9 349.2,1144.9 350.7,1142.9 352.2,1142.9 353.7,1142.9 355.2,1144.9 356.7,1142.9 358.2,1146.9 359.7,1148.9 361.2,1150.9 361.8,1150.9 362.7,1152.9 364.2,1152.9 365.7,1157.0 367.1,1155.0 368.6,1155.0 370.0,1150.9 370.1,1152.9 371.6,1152.9 373.1,1155.0 374.6,1157.0 376.1,1159.0 377.6,1161.0 377.7,1159.0 379.1,1159.0 380.6,1161.0 382.1,1165.0 383.6,1167.1 385.1,1165.0 385.8,1165.0 386.6,1169.1 388.0,1171.1 389.5,1175.1 391.0,1175.1 392.5,1177.1 394.0,1175.1 395.5,1177.1 397.0,1179.2 397.0,1183.2 398.5,1185.2 400.0,1187.2 401.5,1187.2 403.0,1189.2 404.5,1193.3 406.0,1195.3 407.5,1195.3 408.9,1197.3 410.4,1199.3 411.9,1199.3 413.4,1199.3 414.9,1201.3 416.4,1205.4 417.9,1207.4 419.4,1209.4 420.9,1207.4 422.4,1209.4 423.9,1207.4 423.9,1211.4 425.4,1211.4 426.9,1215.5 428.4,1215.5 429.9,1217.5 431.3,1219.5 432.8,1221.5 434.3,1223.5 435.8,1225.5 437.3,1227.6 438.8,1227.6 440.3,1227.6 441.8,1229.6 443.3,1231.6 444.8,1233.6 446.3,1233.6 447.8,1233.6 449.3,1233.6 450.8,1237.6 450.9,1235.6 452.2,1239.7 453.7,1239.7 455.2,1243.7 456.7,1241.7 458.2,1241.7 459.7,1243.7 461.2,1245.7 462.7,1249.7 464.2,1251.8 465.7,1253.8 467.2,1255.8 468.7,1253.8 470.2,1257.8 471.7,1257.8 473.1,1259.8 474.6,1259.8 476.1,1261.8 477.6,1265.9 477.8,1263.9 479.1,1265.9 480.6,1265.9 482.1,1267.9 483.6,1269.9 485.1,1271.9 486.6,1274.0 488.1,1274.0 489.6,1274.0 491.1,1274.0 492.6,1276.0 494.0,1276.0 495.5,1278.0 497.0,1282.0 498.5,1284.0 500.0,1284.0 501.5,1284.0 503.0,1286.1 504.5,1286.1 504.8,1286.1 506.0,1286.1 507.5,1288.1 509.0,1290.1 510.5,1288.1 512.0,1290.1 513.5,1292.1 515.0,1294.1 516.4,1296.1 517.9,1298.2 519.4,1298.2 520.9,1298.2 522.4,1298.2 523.9,1300.2 525.4,1302.2 526.9,1304.2 528.4,1306.2 529.9,1304.2 531.4,1306.2 531.7,1304.2 532.9,1306.2 534.4,1304.2 535.9,1304.2 537.3,1306.2 538.8,1306.2 540.3,1308.2 541.8,1310.3 543.3,1312.3 544.8,1312.3 546.3,1312.3 547.8,1314.3 549.3,1312.3 550.8,1314.3 552.3,1316.3 553.8,1318.3 555.3,1316.3 556.8,1316.3 558.2,1318.3 559.7,1318.3 561.2,1324.4 562.7,1322.4 564.2,1324.4 565.7,1322.4 567.2,1322.4 567.2,1322.4 568.7,1326.4 570.2,1326.4 571.7,1326.4 573.2,1328.4 574.7,1328.4 576.2,1328.4 577.7,1328.4 579.2,1330.4 580.6,1332.4 582.1,1334.5 583.6,1334.5 585.1,1334.5 586.6,1334.5 588.1,1336.5 589.6,1336.5 591.1,1338.5 592.0,1338.5 592.6,1338.5 594.1,1338.5 595.6,1338.5 597.1,1338.5 598.6,1340.5 600.1,1340.5 601.5,1340.5 603.0,1340.5 604.5,1342.5 606.0,1342.5 607.5,1342.5 609.0,1342.5 610.5,1342.5 612.0,1344.5 613.5,1346.6 615.0,1344.5 616.5,1344.5 618.0,1344.5 619.5,1346.6 621.0,1346.6 622.4,1348.6 623.9,1348.6 623.9,1348.6 625.4,1346.6 626.9,1346.6 628.4,1348.6 629.9,1350.6 631.4,1352.6 632.9,1352.6 634.4,1352.6 635.9,1352.6 637.4,1352.6 638.9,1352.6 640.4,1354.6 641.9,1354.6 643.3,1354.6 644.8,1354.6 646.3,1354.6 647.8,1356.6 649.3,1356.6 650.8,1356.6 652.3,1356.6 653.8,1358.7 655.3,1360.7 656.0,1358.7 656.8,1358.7 658.3,1358.7 659.8,1358.7 661.3,1358.7 662.8,1358.7 664.3,1358.7 665.7,1358.7 667.2,1358.7 668.7,1358.7 670.2,1358.7 671.7,1360.7 673.2,1360.7 674.7,1362.7 676.2,1362.7 677.7,1362.7 679.2,1362.7 680.7,1362.7 682.2,1362.7 683.7,1362.7 685.2,1362.7 686.6,1362.7 688.1,1362.7 688.1,1364.7 689.6,1362.7 691.1,1364.7 692.6,1364.7 694.1,1364.7 695.6,1364.7 697.1,1364.7 698.6,1364.7 700.1,1364.7 701.6,1366.7 703.1,1366.7 704.6,1366.7 706.1,1368.7 707.5,1368.7 709.0,1366.7 710.5,1366.7 712.0,1366.7 713.5,1368.7 715.0,1368.7 716.5,1368.7 718.0,1368.7 718.0,1366.7"/>
<polyline stroke="#00ff00" points="120.8,1058.1 122.3,1060.2 123.8,1062.2 125.3,1062.2 126.8,1062.2 128.3,1060.2 129.8,1062.2 131.3,1060.2 132.7,1062.2 134.2,1062.2 135.7,1066.2 137.2,1062.2 138.7,1060.2 140.2,1056.1 141.7,1058.1 143.2,1062.2 144.7,1060.2 146.2,1060.2 147.7,1058.1 149.2,1062.2 150.7,1064.2 152.2,1062.2 153.6,1062.2 155.1,1062.2 156.6,1066.2 158.1,1068.2 159.6,1066.2 161.1,1062.2 162.6,1062.2 164.1,1062.2 165.6,1060.2 167.1,1062.2 168.6,1060.2 170.1,1064.2 171.6,1066.2 173.1,1070.2 174.5,1070.2 176.0,1070.2 177.5,1066.2 179.0,1060.2 180.5,1058.1 182.0,1058.1 183.5,1060.2 185.0,1060.2 186.5,1062.2 188.0,1064.2 189.5,1062.2 191.0,1064.2 192.5,1062.2 194.0,1064.2 195.4,1060.2 196.9,1064.2 198.4,1064.2 199.9,1066.2 201.4,1062.2 202.9,1064.2 204.4,1060.2 205.9,1062.2 207.4,1060.2 208.9,1060.2 210.4,1062.2 211.9,1058.1 213.4,1058.1 214.9,1056.1 216.4,1058.1 217.8,1062.2 219.3,1064.2 220.8,1062.2 222.3,1062.2 223.8,1064.2 225.3,1064.2 226.8,1060.2 228.3,1062.2 229.8,1062.2 231.3,1066.2 232.8,1060.2 234.3,1060.2 235.8,1060.2 237.3,1062.2 238.7,1066.2 240.2,1070.2 241.7,1066.2 243.2,1064.2 244.7,1062.2 246.2,1064.2 247.7,1066.2 249.2,1064.2 250.7,1062.2 252.2,1058.1 253.7,1062.2 255.2,1062.2 256.7,1064.2 258.2,1064.2 259.6,1068.2 261.1,1068.2 262.6,1066.2 264.1,1066.2 265.6,1066.2 267.1,1066.2 268.6,1062.2 270.1,1062.2 271.6,1060.2 273.1,1062.2 274.6,1058.1 274.6,1062.2 276.1,1080.3 276.8,1092.4 277.6,1074.3 279.1,989.6 280.6,923.0 280.6,925.0 282.0,927.0 283.5,931.1 284.3,931.1 285.0,935.1 286.5,983.5 288.0,1042.0 289.5,1080.3 289.5,1080.3 291.0,1092.4 292.5,1100.5 294.0,1110.6 295.5,1116.6 295.5,1120.7 297.0,1122.7 298.5,1124.7 299.5,1122.7 300.0,1124.7 301.5,1122.7 302.9,1124.7 304.4,1124.7 305.9,1130.7 307.4,1132.8 307.4,1132.8 308.9,1132.8 310.4,1130.7 311.9,1130.7 313.4,1128.7 314.9,1132.8 316.4,1130.7 317.9,1130.7 319.4,1126.7 320.3,1126.7 320.9,1124.7 322.4,1120.7 323.8,1114.6 325.3,1112.6 326.8,1110.6 328.3,1110.6 329.8,1104.5 329.8,1102.5 331.3,1098.5 332.8,1100.5 334.3,1100.5 335.8,1096.5 337.3,1096.5 338.8,1094.4 339.5,1092.4 340.3,1086.4 341.8,1082.3 343.3,1084.4 344.7,1082.3 346.2,1082.3 347.7,1084.4 348.9,1084.4 349.2,1084.4 350.7,1082.3 352.2,1086.4 353.7,1086.4 355.2,1086.4 356.7,1084.4 358.2,1086.4 359.7,1084.4 361.2,1088.4 361.8,1090.4 362.7,1094.4 364.2,1094.4 365.7,1096.5 367.1,1094.4 368.6,1096.5 369.8,1098.5 370.1,1100.5 371.6,1100.5 373.1,1100.5 374.6,1100.5 376.1,1104.5 377.6,1106.5 379.1,1106.5 380.6,1108.6 382.1,1112.6 382.1,1114.6 383.6,1120.7 385.1,1124.7 386.6,1126.7 388.0,1130.7 389.5,1136.8 391.0,1144.9 392.5,1148.9 394.0,1150.9 395.5,1155.0 397.0,1157.0 397.0,1157.0 398.5,1157.0 400.0,1157.0 401.5,1157.0 403.0,1159.0 404.5,1165.0 406.0,1171.1 407.5,1175.1 408.9,1173.1 410.4,1173.1 411.9,1175.1 413.4,1179.2 414.9,1181.2 414.9,1183.2 416.4,1185.2 417.9,1187.2 419.4,1189.2 420.9,1191.3 422.4,1193.3 423.9,1195.3 425.4,1197.3 426.9,1199.3 428.4,1205.4 429.9,1207.4 431.3,1209.4 432.8,1211.4 432.8,1211.4 434.3,1215.5 435.8,1219.5 437.3,1221.5 438.8,1221.5 440.3,1223.5 441.8,1225.5 443.3,1227.6 444.8,1225.5 446.3,1229.6 447.8,1231.6 449.3,1235.6 450.8,1235.6 450.9,1237.6 452.2,1239.7 453.7,1241.7 455.2,1243.7 456.7,1245.7 458.2,1249.7 459.7,1251.8 461.2,1255.8 462.7,1255.8 464.2,1259.8 465.7,1259.8 467.2,1263.9 468.7,1265.9 468.8,1263.9 470.2,1263.9 471.7,1265.9 473.1,1267.9 474.6,1269.9 476.1,1271.9 477.6,1274.0 479.1,1274.0 480.6,1276.0 482.1,1278.0 483.6,1282.0 485.1,1284.0 486.6,1282.0 488.1,1282.0 489.6,1284.0 491.1,1288.1 492.6,1292.1 494.0,1292.1 495.5,1292.1 495.8,1294.1 497.0,1294.1 498.5,1294.1 500.0,1294.1 501.5,1296.1 503.0,1296.1 504.5,1298.2 506.0,1300.2 507.5,1304.2 509.0,1304.2 510.5,1302.2 512.0,1302.2 513.5,1304.2 515.0,1304.2 516.4,1304.2 517.9,1306.2 519.4,1308.2 520.9,1308.2 522.4,1310.3 523.9,1310.3 525.4,1312.3 526.9,1312.3 528.4,1314.3 529.9,1316.3 531.4,1314.3 531.7,1314.3 532.9,1314.3 534.4,1316.3 535.9,1318.3 537.3,1318.3 538.8,1318.3 540.3,1320.3 541.8,1322.4 543.3,1322.4 544.8,1324.4 546.3,1326.4 547.8,1326.4 549.3,1326.4 550.8,1326.4 552.3,1328.4 553.8,1328.4 555.3,1330.4 556.8,1330.4 558.2,1334.5 559.7,1334.5 561.2,1334.5 562.7,1332.4 564.2,1332.4 565.7,1334.5 567.2,1336.5 567.2,1336.5 568.7,1336.5 570.2,1338.5 571.7,1338.5 573.2,1340.5 574.7,1340.5 576.2,1342.5 577.7,1342.5 579.2,1344.5 580.6,1346.6 582.1,1346.6 583.6,1348.6 585.1,1348.6 586.6,1350.6 588.1,1350.6 589.6,1350.6 591.1,1352.6 592.0,1352.6 592.6,1354.6 594.1,1354.6 595.6,1354.6 597.1,1356.6 598.6,1354.6 600.1,1354.6 601.5,1356.6 603.0,1356.6 604.5,1356.6 606.0,1356.6 607.5,1354.6 609.0,1354.6 610.5,1356.6 612.0,1358.7 613.5,1358.7 615.0,1360.7 616.5,1362.7 618.0,1362.7 619.5,1360.7 621.0,1360.7 622.4,1360.7 623.9,1360.7 623.9,1360.7 625.4,1362.7 626.9,1362.7 628.4,1362.7 629.9,1362.7 631.4,1362.7 632.9,1362.7 634.4,1364.7 635.9,1366.7 637.4,1366.7 638.9,1364.7 640.4,1364.7 641.9,1364.7 643.3,1366.7 644.8,1366.7 646.3,1366.7 647.8,1368.7 649.3,1368.7 650.8,1368.7 652.3,1368.7 653.8,1368.7 655.3,1368.7 656.0,1368.7 656.8,1368.7 658.3,1368.7 659.8,1370.8 661.3,1370.8 662.8,1370.8 664.3,1370.8 665.7,1372.8 667.2,1372.8 668.7,1372.8 670.2,1372.8 671.7,1372.8 673.2,1372.8 674.7,1374.8 676.2,1374.8 677.7,1374.8 679.2,1374.8 680.7,1374.8 682.2,1374.8 683.7,1376.8 685.2,1376.8 686.6,1374.8 688.1,1372.8 688.1,1372.8 689.6,1374.8 691.1,1374.8 692.6,1374.8 694.1,1374.8 695.6,1376.8 697.1,1376.8 698.6,1378.8 700.1,1376.8 701.6,1376.8 703.1,1376.8 704.6,1378.8 706.1,1378.8 707.5,1376.8 709.0,1376.8 710.5,1376.8 712.0,1378.8 713.5,1378.8 715.0,1378.8 716.5,1378.8 718.0,1378.8 718.0,1378.8"/>
<polyline stroke="#0000ff" points="120.8,1060.2 122.3,1056.1 123.8,1056.1 125.3,1056.1 126.8,1060.2 128.3,1062.2 129.8,1062.2 131.3,1060.2 132.7,1060.2 134.2,1058.1 135.7,1060.2 137.2,1060.2 138.7,1058.1 140.2,1060.2 141.7,1058.1 143.2,1062.2 144.7,1062.2 146.2,1062.2 147.7,1062.2 149.2,1062.2 150.7,1062.2 152.2,1060.2 153.6,1058.1 155.1,1056.1 156.6,1058.1 158.1,1060.2 159.6,1060.2 161.1,1060.2 162.6,1062.2 164.1,1062.2 165.6,1062.2 167.1,1056.1 168.6,1056.1 170.1,1058.1 171.6,1062.2 173.1,1062.2 174.5,1062.2 176.0,1058.1 177.5,1060.2 179.0,1056.1 180.5,1056.1 182.0,1054.1 183.5,1054.1 185.0,1056.1 186.5,1058.1 188.0,1058.1 189.5,1058.1 191.0,1058.1 192.5,1058.1 194.0,1054.1 195.4,1054.1 196.9,1054.1 198.4,1058.1 199.9,1056.1 201.4,1058.1 202.9,1056.1 204.4,1056.1 205.9,1056.1 207.4,1058.1 208.9,1060.2 210.4,1062.2 211.9,1064.2 213.4,1062.2 214.9,1062.2 216.4,1060.2 217.8,1060.2 219.3,1056.1 220.8,1058.1 222.3,1060.2 223.8,1060.2 225.3,1056.1 226.8,1058.1 228.3,1058.1 229.8,1062.2 231.3,1060.2 232.8,1060.2 234.3,1062.2 235.8,1060.2 237.3,1060.2 238.7,1058.1 240.2,1056.1 241.7,1052.1 243.2,1056.1 244.7,1058.1 246.2,1060.2 247.7,1056.1 249.2,1060.2 250.7,1060.2 252.2,1062.2 253.7,1058.1 255.2,1058.1 256.7,1052.1 258.2,1054.1 259.6,1058.1 261.1,1060.2 262.6,1058.1 264.1,1056.1 265.6,1056.1 267.1,1056.1 268.6,1058.1 270.1,1060.2 271.6,1062.2 273.1,1060.2 274.6,1060.2 274.6,1060.2 276.1,1082.3 276.8,1090.4 277.6,1072.3 279.1,983.5 280.6,929.1 280.6,929.1 282.0,933.1 283.5,931.1 284.3,933.1 285.0,937.1 286.5,987.5 288.0,1044.0 289.5,1080.3 289.5,1080.3 291.0,1092.4 292.5,1104.5 294.0,1106.5 295.5,1110.6 297.0,1114.6 297.0,1116.6 298.5,1118.6 300.0,1116.6 301.5,1116.6 302.6,1116.6 302.9,1120.7 304.4,1116.6 305.9,1110.6 307.4,1102.5 308.9,1098.5 310.4,1094.4 310.7,1096.5 311.9,1092.4 313.4,1090.4 314.9,1086.4 316.4,1082.3 317.9,1078.3 318.6,1076.3 319.4,1074.3 320.9,1070.2 322.4,1068.2 323.8,1058.1 325.0,1052.1 325.3,1048.1 326.8,1044.0 328.3,1042.0 329.8,1038.0 331.3,1038.0 332.8,1038.0 333.1,1038.0 334.3,1036.0 335.8,1031.9 337.3,1027.9 338.8,1023.9 340.3,1023.9 341.8,1023.9 341.9,1023.9 343.3,1025.9 344.7,1031.9 344.8,1029.9 346.2,1025.9 347.7,1025.9 349.2,1025.9 349.2,1027.9 350.7,1029.9 352.2,1031.9 353.7,1031.9 355.2,1031.9 356.7,1031.9 358.2,1040.0 358.6,1044.0 359.7,1048.1 361.2,1048.1 362.7,1050.1 364.2,1054.1 365.7,1058.1 367.1,1062.2 368.2,1064.2 368.6,1070.2 370.1,1070.2 371.6,1076.3 373.1,1080.3 374.6,1086.4 376.1,1094.4 377.6,1096.5 377.7,1098.5 379.1,1098.5 380.6,1102.5 382.1,1104.5 383.6,1110.6 385.1,1116.6 385.8,1120.7 386.6,1124.7 388.0,1126.7 389.5,1132.8 391.0,1136.8 392.5,1140.8 393.7,1142.9 394.0,1142.9 395.5,1146.9 397.0,1152.9 398.5,1152.9 400.0,1159.0 401.5,1167.1 403.0,1171.1 404.5,1173.1 406.0,1175.1 406.0,1175.1 407.5,1177.1 408.9,1181.2 410.4,1185.2 411.9,1185.2 413.4,1187.2 414.9,1189.2 416.4,1195.3 417.9,1197.3 419.4,1203.4 420.9,1205.4 422.4,1209.4 423.9,1209.4 423.9,1207.4 425.4,1211.4 426.9,1213.4 428.4,1219.5 429.9,1223.5 431.3,1225.5 432.8,1227.6 434.3,1231.6 435.8,1235.6 437.3,1239.7 438.8,1241.7 440.3,1245.7 441.8,1245.7 441.8,1245.7 443.3,1247.7 444.8,1253.8 446.3,1253.8 447.8,1255.8 449.3,1255.8 450.8,1257.8 452.2,1259.8 453.7,1263.9 455.2,1265.9 456.7,1265.9 458.2,1265.9 459.7,1269.9 459.9,1269.9 461.2,1274.0 462.7,1274.0 464.2,1274.0 465.7,1276.0 467.2,1278.0 468.7,1280.0 470.2,1282.0 471.7,1280.0 473.1,1282.0 474.6,1284.0 476.1,1288.1 477.6,1290.1 477.8,1290.1 479.1,1290.1 480.6,1292.1 482.1,1292.1 483.6,1292.1 485.1,1294.1 486.6,1296.1 488.1,1298.2 489.6,1300.2 491.1,1302.2 492.6,1302.2 494.0,1304.2 495.5,1308.2 495.8,1310.3 497.0,1308.2 498.5,1310.3 500.0,1310.3 501.5,1310.3 503.0,1310.3 504.5,1310.3 506.0,1314.3 507.5,1314.3 509.0,1314.3 510.5,1316.3 512.0,1316.3 513.5,1320.3 515.0,1322.4 516.4,1322.4 517.9,1322.4 519.4,1324.4 520.9,1326.4 522.4,1328.4 522.7,1328.4 523.9,1326.4 525.4,1328.4 526.9,1330.4 528.4,1330.4 529.9,1332.4 531.4,1332.4 532.9,1334.5 534.4,1336.5 535.9,1336.5 537.3,1338.5 538.8,1340.5 540.3,1340.5 541.8,1340.5 543.3,1342.5 544.8,1344.5 546.3,1344.5 547.8,1346.6 549.3,1346.6 549.7,1346.6 550.8,1346.6 552.3,1346.6 553.8,1346.6 555.3,1346.6 556.8,1346.6 558.2,1346.6 559.7,1348.6 561.2,1350.6 562.7,1350.6 564.2,1350.6 565.7,1352.6 567.2,1352.6 567.2,1352.6 568.7,1352.6 570.2,1352.6 571.7,1352.6 573.2,1354.6 574.7,1354.6 576.2,1354.6 577.7,1356.6 579.2,1356.6 580.6,1358.7 582.1,1358.7 583.6,1360.7 585.1,1360.7 586.6,1360.7 588.1,1360.7 589.6,1362.7 591.1,1362.7 592.0,1362.7 592.6,1362.7 594.1,1362.7 595.6,1362.7 597.1,1364.7 598.6,1364.7 600.1,1364.7 601.5,1366.7 603.0,1366.7 604.5,1368.7 606.0,1368.7 607.5,1368.7 609.0,1368.7 610.5,1368.7 612.0,1368.7 613.5,1368.7 615.0,1370.8 616.5,1370.8 618.0,1370.8 619.5,1370.8 621.0,1370.8 622.4,1372.8 623.9,1372.8 623.9,1372.8 625.4,1370.8 626.9,1372.8 628.4,1372.8 629.9,1372.8 631.4,1374.8 632.9,1374.8 634.4,1374.8 635.9,1376.8 637.4,1374.8 638.9,1372.8 640.4,1372.8 641.9,1374.8 643.3,1374.8 644.8,1374.8 646.3,1376.8 647.8,1376.8 649.3,1376.8 650.8,1376.8 652.3,1376.8 653.8,1376.8 655.3,1376.8 656.0,1374.8 656.8,1376.8 658.3,1376.8 659.8,1378.8 661.3,1378.8 662.8,1378.8 664.3,1378.8 665.7,1378.8 667.2,1378.8 668.7,1380.8 670.2,1380.8 671.7,1380.8 673.2,1380.8 674.7,1380.8 676.2,1380.8 677.7,1380.8 679.2,1382.9 680.7,1382.9 682.2,1382.9 683.7,1382.9 685.2,1382.9 686.6,1382.9 688.1,1382.9 688.1,1382.9 689.6,1382.9 691.1,1382.9 692.6,1382.9 694.1,1382.9 695.6,1382.9 697.1,1384.9 698.6,1384.9 700.1,1384.9 701.6,1382.9 703.1,1382.9 704.6,1384.9 706.1,1384.9 707.5,1384.9 709.0,1384.9 710.5,1384.9 712.0,1384.9 713.5,1384.9 715.0,1384.9 716.5,1384.9 718.0,1384.9 718.0,1384.9"/>
<polyline stroke="#ff00ff" points="120.8,1070.2 122.3,1068.2 123.8,1064.2 125.3,1062.2 126.8,1060.2 128.3,1066.2 129.8,1070.2 131.3,1068.2 132.7,1066.2 134.2,1064.2 135.7,1064.2 137.2,1066.2 138.7,1064.2 140.2,1066.2 141.7,1066.2 143.2,1068.2 144.7,1064.2 146.2,1062.2 147.7,1064.2 149.2,1068.2 150.7,1070.2 152.2,1068.2 153.6,1068.2 155.1,1064.2 156.6,1066.2 158.1,1068.2 159.6,1066.2 161.1,1064.2 162.6,1060.2 164.1,1062.2 165.6,1064.2 167.1,1066.2 168.6,1064.2 170.1,1062.2 171.6,1068.2 173.1,1068.2 174.5,1068.2 176.0,1064.2 177.5,1070.2 179.0,1068.2 180.5,1072.3 182.0,1070.2 183.5,1070.2 185.0,1068.2 186.5,1070.2 188.0,1072.3 189.5,1066.2 191.0,1062.2 192.5,1062.2 194.0,1062.2 195.4,1064.2 196.9,1062.2 198.4,1064.2 199.9,1066.2 201.4,1064.2 202.9,1064.2 204.4,1058.1 205.9,1058.1 207.4,1064.2 208.9,1070.2 210.4,1070.2 211.9,1066.2 213.4,1068.2 214.9,1068.2 216.4,1068.2 217.8,1066.2 219.3,1066.2 220.8,1064.2 222.3,1062.2 223.8,1060.2 225.3,1064.2 226.8,1068.2 228.3,1070.2 229.8,1068.2 231.3,1068.2 232.8,1066.2 234.3,1068.2 235.8,1066.2 237.3,1064.2 238.7,1062.2 240.2,1062.2 241.7,1064.2 243.2,1066.2 244.7,1068.2 246.2,1070.2 247.7,1066.2 249.2,1066.2 250.7,1066.2 252.2,1068.2 253.7,1066.2 255.2,1064.2 256.7,1066.2 258.2,1066.2 259.6,1066.2 261.1,1066.2 262.6,1066.2 264.1,1064.2 265.6,1062.2 267.1,1058.1 268.6,1060.2 270.1,1062.2 271.6,1066.2 273.1,1066.2 273.8,1064.2 274.6,1094.4 274.6,1092.4 276.1,1098.5 277.6,1094.4 278.3,1092.4 279.1,933.1 279.4,898.8 280.6,898.8 282.0,894.8 283.5,888.7 285.0,888.7 286.1,892.8 286.5,914.9 288.0,1066.2 288.0,1064.2 289.5,1084.4 291.0,1094.4 291.4,1096.5 292.5,1104.5 294.0,1110.6 295.5,1116.6 296.2,1114.6 297.0,1114.6 298.5,1112.6 300.0,1108.6 301.5,1106.5 302.6,1102.5 302.9,1104.5 304.4,1098.5 305.9,1096.5 307.4,1092.4 308.9,1084.4 310.4,1076.3 310.7,1070.2 311.9,1066.2 313.4,1058.1 314.9,1052.1 316.4,1044.0 317.1,1042.0 317.9,1036.0 319.4,1027.9 320.9,1019.8 321.9,1013.8 322.4,1013.8 323.8,1005.7 325.3,997.6 326.8,993.6 328.3,989.6 328.3,995.6 329.8,987.5 331.3,985.5 332.8,981.5 332.8,981.5 334.3,979.5 335.8,981.5 337.3,983.5 338.8,985.5 340.3,981.5 341.5,983.5 341.8,981.5 343.3,983.5 344.7,987.5 346.2,989.6 347.7,997.6 348.9,1001.7 349.2,1005.7 350.7,1007.7 352.2,1013.8 353.7,1017.8 353.7,1017.8 355.2,1023.9 356.7,1031.9 358.2,1038.0 359.7,1042.0 361.2,1046.0 361.8,1050.1 362.7,1054.1 364.2,1056.1 365.7,1060.2 367.1,1066.2 368.6,1074.3 369.8,1080.3 370.1,1084.4 371.6,1088.4 373.1,1098.5 374.6,1104.5 376.1,1114.6 377.6,1118.6 377.7,1122.7 379.1,1128.7 380.6,1130.7 382.1,1134.8 383.6,1136.8 385.1,1140.8 385.8,1140.8 386.6,1142.9 388.0,1150.9 389.5,1157.0 391.0,1161.0 392.5,1165.0 393.7,1167.1 394.0,1169.1 395.5,1173.1 397.0,1181.2 398.5,1185.2 398.6,1187.2 400.0,1189.2 401.5,1195.3 403.0,1197.3 404.5,1201.3 406.0,1203.4 407.5,1207.4 408.9,1207.4 410.4,1211.4 411.9,1213.4 413.4,1215.5 414.9,1217.5 414.9,1217.5 416.4,1223.5 417.9,1225.5 419.4,1229.6 420.9,1231.6 422.4,1235.6 423.9,1239.7 425.4,1245.7 426.9,1249.7 428.4,1249.7 429.9,1249.7 431.3,1251.8 432.8,1255.8 432.8,1257.8 434.3,1259.8 435.8,1261.8 437.3,1263.9 438.8,1267.9 440.3,1267.9 441.8,1267.9 443.3,1271.9 444.8,1274.0 446.3,1278.0 447.8,1280.0 449.3,1282.0 450.8,1284.0 450.9,1282.0 452.2,1284.0 453.7,1286.1 455.2,1288.1 456.7,1290.1 458.2,1292.1 459.7,1294.1 461.2,1298.2 462.7,1302.2 464.2,1304.2 465.7,1306.2 467.2,1306.2 468.7,1306.2 468.8,1306.2 470.2,1306.2 471.7,1308.2 473.1,1308.2 474.6,1310.3 476.1,1312.3 477.6,1314.3 479.1,1316.3 480.6,1316.3 482.1,1316.3 483.6,1318.3 485.1,1318.3 486.6,1322.4 488.1,1322.4 489.6,1324.4 491.1,1326.4 492.6,1326.4 494.0,1328.4 495.5,1328.4 495.8,1326.4 497.0,1328.4 498.5,1330.4 500.0,1332.4 501.5,1332.4 503.0,1334.5 504.5,1334.5 506.0,1334.5 507.5,1336.5 509.0,1336.5 510.5,1340.5 512.0,1340.5 513.5,1344.5 515.0,1342.5 516.4,1342.5 517.9,1340.5 519.4,1342.5 520.9,1342.5 522.4,1344.5 522.7,1344.5 523.9,1344.5 525.4,1346.6 526.9,1348.6 528.4,1350.6 529.9,1350.6 531.4,1348.6 532.9,1348.6 534.4,1350.6 535.9,1352.6 537.3,1352.6 538.8,1352.6 540.3,1352.6 541.8,1354.6 543.3,1356.6 544.8,1356.6 546.3,1356.6 547.8,1358.7 549.3,1358.7 549.7,1358.7 550.8,1358.7 552.3,1358.7 553.8,1358.7 555.3,1360.7 556.8,1358.7 558.2,1360.7 559.7,1360.7 561.2,1362.7 562.7,1362.7 564.2,1360.7 565.7,1360.7 567.2,1362.7 567.2,1360.7 568.7,1362.7 570.2,1362.7 571.7,1362.7 573.2,1362.7 574.7,1364.7 576.2,1366.7 577.7,1366.7 579.2,1368.7 580.6,1368.7 582.1,1368.7 583.6,1368.7 585.1,1368.7 586.6,1370.8 588.1,1370.8 589.6,1370.8 591.1,1372.8 592.0,1372.8 592.6,1372.8 594.1,1372.8 595.6,1372.8 597.1,1372.8 598.6,1374.8 600.1,1374.8 601.5,1374.8 603.0,1374.8 604.5,1376.8 606.0,1376.8 607.5,1378.8 609.0,1376.8 610.5,1376.8 612.0,1376.8 613.5,1378.8 615.0,1380.8 616.5,1380.8 618.0,1380.8 619.5,1378.8 621.0,1380.8 622.4,1380.8 623.9,1380.8 623.9,1380.8 625.4,1380.8 626.9,1382.9 628.4,1382.9 629.9,1382.9 631.4,1382.9 632.9,1382.9 634.4,1382.9 635.9,1382.9 637.4,1382.9 638.9,1382.9 640.4,1382.9 641.9,1382.9 643.3,1384.9 644.8,1384.9 646.3,1384.9 647.8,1384.9 649.3,1384.9 650.8,1384.9 652.3,1384.9 653.8,1384.9 655.3,1384.9 656.0,1384.9 656.8,1384.9 658.3,1384.9 659.8,1384.9 661.3,1384.9 662.8,1384.9 664.3,1386.9 665.7,1386.9 667.2,1386.9 668.7,1386.9 670.2,1386.9 671.7,1386.9 673.2,1386.9 674.7,1386.9 676.2,1386.9 677.7,1386.9 679.2,1386.9 680.7,1388.9 682.2,1388.9 683.7,1388.9 685.2,1388.9 686.6,1388.9 688.1,1388.9 688.1,1388.9 689.6,1388.9 691.1,1388.9 692.6,1388.9 694.1,1388.9 695.6,1388.9 697.1,1390.9 698.6,1390.9 700.1,1390.9 701.6,1390.9 703.1,1390.9 704.6,1390.9 706.1,1390.9 707.5,1390.9 709.0,1390.9 710.5,1390.9 712.0,1390.9 713.5,1390.9 715.0,1390.9 716.5,1390.9 718.0,1392.9 718.0,1392.9"/>
</g>
<rect x="119" y="962" width="598" height="437" fill="none" stroke="#000" stroke-width="4.2"/>
<line x1="195.5" y1="1399.0" x2="195.5" y2="1394.5" stroke="#000" stroke-width="3.6"/>
<line x1="195.5" y1="962.0" x2="195.5" y2="968.5" stroke="#000" stroke-width="3.6"/>
<line x1="270.1" y1="1399.0" x2="270.1" y2="1390.5" stroke="#000" stroke-width="3.6"/>
<line x1="270.1" y1="962.0" x2="270.1" y2="972.5" stroke="#000" stroke-width="3.6"/>
<line x1="344.8" y1="1399.0" x2="344.8" y2="1394.5" stroke="#000" stroke-width="3.6"/>
<line x1="344.8" y1="962.0" x2="344.8" y2="968.5" stroke="#000" stroke-width="3.6"/>
<line x1="419.4" y1="1399.0" x2="419.4" y2="1390.5" stroke="#000" stroke-width="3.6"/>
<line x1="419.4" y1="962.0" x2="419.4" y2="972.5" stroke="#000" stroke-width="3.6"/>
<line x1="494.1" y1="1399.0" x2="494.1" y2="1394.5" stroke="#000" stroke-width="3.6"/>
<line x1="494.1" y1="962.0" x2="494.1" y2="968.5" stroke="#000" stroke-width="3.6"/>
<line x1="568.7" y1="1399.0" x2="568.7" y2="1390.5" stroke="#000" stroke-width="3.6"/>
<line x1="568.7" y1="962.0" x2="568.7" y2="972.5" stroke="#000" stroke-width="3.6"/>
<line x1="643.4" y1="1399.0" x2="643.4" y2="1394.5" stroke="#000" stroke-width="3.6"/>
<line x1="643.4" y1="962.0" x2="643.4" y2="968.5" stroke="#000" stroke-width="3.6"/>
<line x1="119.0" y1="1365.4" x2="127.5" y2="1365.4" stroke="#000" stroke-width="3.6"/>
<line x1="717.0" y1="1365.4" x2="712.4" y2="1365.4" stroke="#000" stroke-width="3.6"/>
<line x1="119.0" y1="1331.8" x2="130.0" y2="1331.8" stroke="#000" stroke-width="3.6"/>
<line x1="717.0" y1="1331.8" x2="707.5" y2="1331.8" stroke="#000" stroke-width="3.6"/>
<line x1="119.0" y1="1298.2" x2="127.5" y2="1298.2" stroke="#000" stroke-width="3.6"/>
<line x1="717.0" y1="1298.2" x2="712.4" y2="1298.2" stroke="#000" stroke-width="3.6"/>
<line x1="119.0" y1="1264.5" x2="130.0" y2="1264.5" stroke="#000" stroke-width="3.6"/>
<line x1="717.0" y1="1264.5" x2="707.5" y2="1264.5" stroke="#000" stroke-width="3.6"/>
<line x1="119.0" y1="1230.9" x2="127.5" y2="1230.9" stroke="#000" stroke-width="3.6"/>
<line x1="717.0" y1="1230.9" x2="712.4" y2="1230.9" stroke="#000" stroke-width="3.6"/>
<line x1="119.0" y1="1197.3" x2="130.0" y2="1197.3" stroke="#000" stroke-width="3.6"/>
<line x1="717.0" y1="1197.3" x2="707.5" y2="1197.3" stroke="#000" stroke-width="3.6"/>
<line x1="119.0" y1="1163.7" x2="127.5" y2="1163.7" stroke="#000" stroke-width="3.6"/>
<line x1="717.0" y1="1163.7" x2="712.4" y2="1163.7" stroke="#000" stroke-width="3.6"/>
<line x1="119.0" y1="1130.1" x2="130.0" y2="1130.1" stroke="#000" stroke-width="3.6"/>
<line x1="717.0" y1="1130.1" x2="707.5" y2="1130.1" stroke="#000" stroke-width="3.6"/>
<line x1="119.0" y1="1096.5" x2="127.5" y2="1096.5" stroke="#000" stroke-width="3.6"/>
<line x1="717.0" y1="1096.5" x2="712.4" y2="1096.5" stroke="#000" stroke-width="3.6"/>
<line x1="119.0" y1="1062.8" x2="130.0" y2="1062.8" stroke="#000" stroke-width="3.6"/>
<line x1="717.0" y1="1062.8" x2="707.5" y2="1062.8" stroke="#000" stroke-width="3.6"/>
<line x1="119.0" y1="1029.2" x2="127.5" y2="1029.2" stroke="#000" stroke-width="3.6"/>
<line x1="717.0" y1="1029.2" x2="712.4" y2="1029.2" stroke="#000" stroke-width="3.6"/>
<line x1="119.0" y1="995.6" x2="130.0" y2="995.6" stroke="#000" stroke-width="3.6"/>
<line x1="717.0" y1="995.6" x2="707.5" y2="995.6" stroke="#000" stroke-width="3.6"/>
<text x="0" y="0" font-size="33" text-anchor="end" fill="#000" transform="translate(109.50,1408.89) scale(1.05,1.0)">0.0</text>
<text x="0" y="0" font-size="33" text-anchor="end" fill="#000" transform="translate(109.50,1341.66) scale(1.05,1.0)">0.2</text>
<text x="0" y="0" font-size="33" text-anchor="end" fill="#000" transform="translate(109.50,1274.43) scale(1.05,1.0)">0.4</text>
<text x="0" y="0" font-size="33" text-anchor="end" fill="#000" transform="translate(109.50,1207.20) scale(1.05,1.0)">0.6</text>
<text x="0" y="0" font-size="33" text-anchor="end" fill="#000" transform="translate(109.50,1139.97) scale(1.05,1.0)">0.8</text>
<text x="0" y="0" font-size="33" text-anchor="end" fill="#000" transform="translate(109.50,1072.74) scale(1.05,1.0)">1.0</text>
<text x="0" y="0" font-size="33" text-anchor="end" fill="#000" transform="translate(109.50,1005.51) scale(1.05,1.0)">1.2</text>
<text x="0" y="0" font-size="33" text-anchor="middle" fill="#000" transform="translate(119.00,1436.00) scale(1.05,1.0)">-10</text>
<text x="0" y="0" font-size="33" text-anchor="middle" fill="#000" transform="translate(268.30,1436.00) scale(1.05,1.0)">0</text>
<text x="0" y="0" font-size="33" text-anchor="middle" fill="#000" transform="translate(417.60,1436.00) scale(1.05,1.0)">10</text>
<text x="0" y="0" font-size="33" text-anchor="middle" fill="#000" transform="translate(566.90,1436.00) scale(1.05,1.0)">20</text>
<text x="0" y="0" font-size="33" text-anchor="middle" fill="#000" transform="translate(716.20,1436.00) scale(1.05,1.0)">30</text>
<text x="0" y="0" font-size="45.1" text-anchor="middle" fill="#000" transform="translate(37.90,1187.15) rotate(-90) scale(1.0,1.04)">OLED Intensity (a.u.)</text>
<text x="0" y="0" font-size="42.6" text-anchor="middle" transform="translate(435.75,1487.9) scale(1.02,1)">Tim<tspan dx="6">e</tspan> (μs)</text>
<text x="0" y="0" font-size="56" text-anchor="middle" fill="#000" transform="translate(185.75,1131.60) scale(1.08,1.0)">(d)</text>
<line x1="546.5" y1="1032.0" x2="618.0" y2="1032.0" stroke="#000" stroke-width="3.6"/>
<text x="0" y="0" font-size="32" text-anchor="start" fill="#000" transform="translate(626.00,1042.56) scale(1.04,1.0)">0 V</text>
<line x1="546.5" y1="1075.4" x2="618.0" y2="1075.4" stroke="#ff0000" stroke-width="3.6"/>
<text x="0" y="0" font-size="32" text-anchor="start" fill="#000" transform="translate(626.00,1085.96) scale(1.04,1.0)">-1 V</text>
<line x1="546.5" y1="1118.8" x2="618.0" y2="1118.8" stroke="#ff6600" stroke-width="3.6"/>
<text x="0" y="0" font-size="32" text-anchor="start" fill="#000" transform="translate(626.00,1129.36) scale(1.04,1.0)">-2 V</text>
<line x1="546.5" y1="1162.2" x2="618.0" y2="1162.2" stroke="#30c830" stroke-width="3.6"/>
<text x="0" y="0" font-size="32" text-anchor="start" fill="#000" transform="translate(626.00,1172.76) scale(1.04,1.0)">-4 V</text>
<line x1="546.5" y1="1205.6" x2="618.0" y2="1205.6" stroke="#000080" stroke-width="3.6"/>
<text x="0" y="0" font-size="32" text-anchor="start" fill="#000" transform="translate(626.00,1216.16) scale(1.04,1.0)">-6 V</text>
<line x1="546.5" y1="1249.0" x2="618.0" y2="1249.0" stroke="#b010c0" stroke-width="3.6"/>
<text x="0" y="0" font-size="32" text-anchor="start" fill="#000" transform="translate(626.00,1259.56) scale(1.04,1.0)">-8 V</text>
<clipPath id="clipe"><rect x="879" y="964" width="596" height="440"/></clipPath>
<g clip-path="url(#clipe)" fill="none" stroke-width="3.4" stroke-linejoin="round">
<polyline stroke="#000000" points="878.2,1004.0 879.7,1004.0 881.2,1004.0 882.7,1002.0 884.2,1004.0 885.7,1004.0 887.2,1002.0 888.7,1002.0 890.1,1002.0 891.6,1004.0 893.1,1004.0 894.6,1006.0 896.1,1004.0 897.6,1004.0 899.1,1004.0 900.6,1006.0 902.1,1006.0 903.6,1006.0 905.1,1004.0 906.6,1002.0 908.1,1000.0 909.6,1004.0 911.0,1010.0 912.5,1012.0 914.0,1008.0 915.5,1004.0 917.0,1004.0 918.5,1000.0 920.0,1002.0 921.5,1002.0 923.0,1004.0 924.5,1000.0 926.0,998.0 927.5,1002.0 929.0,1006.0 930.5,1008.0 931.9,1006.0 933.4,1006.0 934.9,1006.0 936.4,1008.0 937.9,1006.0 939.4,1006.0 940.9,1006.0 942.4,1004.0 943.9,1004.0 945.4,1004.0 946.9,1002.0 948.4,1002.0 949.9,1004.0 951.4,1004.0 952.8,1004.0 954.3,1002.0 955.8,1006.0 957.3,1002.0 958.8,1004.0 960.3,1004.0 961.8,1006.0 963.3,1006.0 964.8,1004.0 966.3,1006.0 967.8,1006.0 969.3,1008.0 970.8,1006.0 972.3,1004.0 973.8,1004.0 975.2,1006.0 976.7,1006.0 978.2,1004.0 979.7,1002.0 981.2,1004.0 982.7,1004.0 984.2,1004.0 985.7,1000.0 987.2,1002.0 988.7,1006.0 990.2,1008.0 991.7,1008.0 993.2,1004.0 994.7,1004.0 996.1,1006.0 997.6,1008.0 999.1,1008.0 1000.6,1004.0 1002.1,1002.0 1003.6,1004.0 1005.1,1004.0 1006.6,1002.0 1008.1,1002.0 1009.6,1002.0 1011.1,1002.0 1012.6,1004.0 1014.1,1002.0 1015.6,1006.0 1017.0,1006.0 1018.5,1008.0 1020.0,1006.0 1021.5,1006.0 1023.0,1006.0 1024.5,1004.0 1026.0,1004.0 1027.5,1002.0 1029.0,1002.0 1030.5,1000.0 1032.0,1002.0 1032.0,1008.0 1033.5,1036.0 1033.5,1036.0 1035.0,1034.0 1036.5,1038.0 1036.5,1038.0 1037.2,978.0 1038.0,978.0 1039.4,978.0 1040.9,982.0 1042.4,980.0 1043.9,982.0 1043.9,980.0 1045.4,990.0 1046.6,1018.0 1046.9,1040.0 1047.4,1070.0 1048.4,1078.0 1049.9,1088.0 1049.9,1092.0 1051.4,1110.0 1052.9,1126.0 1052.9,1126.0 1054.4,1142.0 1055.9,1154.0 1057.4,1164.0 1057.4,1164.0 1058.9,1172.0 1060.3,1180.0 1061.8,1186.0 1063.3,1192.0 1064.8,1196.0 1066.0,1202.0 1066.3,1204.0 1067.8,1208.0 1069.3,1214.0 1070.8,1218.0 1072.1,1222.0 1072.3,1224.0 1073.8,1226.0 1075.3,1230.0 1076.8,1232.0 1078.3,1236.0 1079.8,1236.0 1079.8,1238.0 1081.2,1240.0 1082.7,1244.0 1084.2,1244.0 1085.7,1244.0 1087.2,1246.0 1088.7,1246.0 1090.2,1252.0 1090.5,1250.0 1091.7,1252.0 1093.2,1250.0 1094.7,1254.0 1096.2,1256.0 1097.7,1256.0 1099.2,1256.0 1100.7,1258.0 1101.3,1258.0 1102.1,1262.0 1103.6,1266.0 1105.1,1272.0 1106.6,1274.0 1107.4,1274.0 1108.1,1276.0 1109.6,1278.0 1111.1,1280.0 1112.6,1282.0 1114.1,1282.0 1115.6,1282.0 1117.1,1282.0 1118.1,1282.0 1118.6,1282.0 1120.1,1286.0 1121.6,1286.0 1123.1,1286.0 1124.5,1288.0 1126.0,1294.0 1127.5,1296.0 1129.0,1298.0 1130.5,1298.0 1131.9,1300.0 1132.0,1298.0 1133.5,1300.0 1135.0,1302.0 1136.5,1306.0 1138.0,1310.0 1139.5,1308.0 1141.0,1310.0 1142.5,1308.0 1144.0,1312.0 1145.4,1312.0 1146.9,1312.0 1147.1,1312.0 1148.4,1314.0 1149.9,1318.0 1151.4,1318.0 1152.9,1322.0 1154.4,1320.0 1155.9,1322.0 1157.4,1322.0 1158.9,1324.0 1160.4,1326.0 1161.9,1326.0 1162.5,1328.0 1163.4,1328.0 1164.9,1330.0 1166.3,1332.0 1167.8,1332.0 1169.3,1334.0 1170.8,1334.0 1172.3,1336.0 1173.8,1336.0 1175.3,1338.0 1176.8,1338.0 1177.8,1340.0 1178.3,1340.0 1179.8,1342.0 1181.3,1342.0 1182.8,1344.0 1184.3,1344.0 1185.8,1344.0 1187.3,1344.0 1188.7,1344.0 1190.2,1346.0 1191.7,1348.0 1193.1,1348.0 1193.2,1348.0 1194.7,1348.0 1196.2,1348.0 1197.7,1350.0 1199.2,1350.0 1200.7,1350.0 1202.2,1350.0 1203.7,1352.0 1205.2,1352.0 1206.7,1352.0 1208.2,1354.0 1209.6,1354.0 1211.1,1354.0 1212.6,1354.0 1214.1,1356.0 1215.6,1356.0 1216.1,1356.0 1217.1,1356.0 1218.6,1356.0 1220.1,1358.0 1221.6,1358.0 1223.1,1360.0 1224.6,1360.0 1226.1,1360.0 1227.6,1362.0 1229.1,1362.0 1230.5,1364.0 1232.0,1364.0 1233.5,1364.0 1235.0,1366.0 1236.5,1366.0 1237.4,1366.0 1238.0,1364.0 1239.5,1366.0 1241.0,1366.0 1242.5,1366.0 1244.0,1368.0 1245.5,1366.0 1247.0,1368.0 1248.5,1366.0 1250.0,1368.0 1251.4,1368.0 1252.9,1368.0 1254.4,1370.0 1255.9,1370.0 1257.4,1368.0 1258.9,1370.0 1260.4,1370.0 1261.9,1370.0 1263.4,1370.0 1264.9,1370.0 1266.4,1370.0 1267.9,1372.0 1269.4,1372.0 1270.9,1372.0 1272.4,1372.0 1273.8,1372.0 1275.3,1372.0 1276.8,1372.0 1278.3,1372.0 1279.8,1374.0 1281.3,1374.0 1282.8,1372.0 1284.1,1374.0 1284.3,1374.0 1285.8,1374.0 1287.3,1376.0 1288.8,1376.0 1290.3,1376.0 1291.8,1376.0 1293.3,1376.0 1294.7,1376.0 1296.2,1376.0 1297.7,1376.0 1299.2,1376.0 1300.7,1376.0 1302.2,1378.0 1303.7,1378.0 1305.2,1380.0 1306.7,1380.0 1308.2,1380.0 1309.7,1380.0 1311.2,1382.0 1312.7,1380.0 1314.2,1380.0 1315.6,1380.0 1317.1,1382.0 1318.6,1382.0 1320.1,1382.0 1321.6,1382.0 1323.1,1384.0 1324.6,1384.0 1326.1,1384.0 1327.6,1384.0 1329.1,1382.0 1330.6,1382.0 1330.7,1384.0 1332.1,1384.0 1333.6,1384.0 1335.1,1384.0 1336.6,1384.0 1338.0,1384.0 1339.5,1384.0 1341.0,1386.0 1342.5,1386.0 1344.0,1386.0 1345.5,1386.0 1347.0,1386.0 1348.5,1386.0 1350.0,1386.0 1351.5,1386.0 1353.0,1386.0 1354.5,1386.0 1356.0,1386.0 1357.5,1386.0 1358.9,1388.0 1360.4,1388.0 1361.9,1388.0 1363.4,1386.0 1364.9,1388.0 1366.4,1388.0 1367.9,1388.0 1369.4,1388.0 1370.9,1388.0 1372.4,1388.0 1373.9,1388.0 1375.4,1388.0 1376.9,1388.0 1378.4,1388.0 1379.8,1388.0 1381.3,1388.0 1382.8,1388.0 1384.3,1390.0 1385.8,1390.0 1386.9,1388.0 1387.3,1388.0 1388.8,1390.0 1390.3,1390.0 1391.8,1390.0 1393.3,1390.0 1394.8,1390.0 1396.3,1390.0 1397.8,1390.0 1399.3,1390.0 1400.7,1390.0 1402.2,1390.0 1403.7,1390.0 1405.2,1390.0 1406.7,1390.0 1408.2,1390.0 1409.7,1390.0 1411.2,1390.0 1412.7,1390.0 1414.2,1390.0 1415.7,1390.0 1417.2,1390.0 1418.7,1390.0 1420.2,1390.0 1421.7,1392.0 1423.1,1392.0 1424.6,1392.0 1426.1,1392.0 1427.6,1392.0 1429.1,1392.0 1430.6,1392.0 1432.1,1392.0 1433.6,1392.0 1435.1,1392.0 1436.6,1392.0 1438.1,1392.0 1439.6,1392.0 1441.1,1392.0 1442.6,1392.0 1444.0,1392.0 1445.5,1392.0 1447.0,1392.0 1448.5,1394.0 1450.0,1392.0 1451.5,1394.0 1453.0,1392.0 1454.5,1392.0 1456.0,1392.0 1457.5,1392.0 1459.0,1392.0 1460.5,1392.0 1461.7,1392.0 1462.0,1392.0 1463.5,1392.0 1464.9,1392.0 1466.4,1392.0 1467.9,1392.0 1469.4,1394.0 1470.9,1392.0 1472.4,1394.0 1473.9,1392.0 1475.4,1392.0 1475.4,1392.0"/>
<polyline stroke="#ff0000" stroke-width="1.7" points="878.2,1004.0 879.7,1004.0 881.2,1008.0 882.7,1008.0 884.2,1008.0 885.7,1004.0 887.2,1002.0 888.7,998.0 890.1,1000.0 891.6,1002.0 893.1,1004.0 894.6,1004.0 896.1,998.0 897.6,998.0 899.1,1000.0 900.6,1002.0 902.1,1006.0 903.6,1006.0 905.1,1006.0 906.6,1006.0 908.1,1000.0 909.6,1000.0 911.0,998.0 912.5,998.0 914.0,998.0 915.5,998.0 917.0,1000.0 918.5,1000.0 920.0,1004.0 921.5,1004.0 923.0,1004.0 924.5,1004.0 926.0,1004.0 927.5,1004.0 929.0,1004.0 930.5,1004.0 931.9,1008.0 933.4,1006.0 934.9,1006.0 936.4,1002.0 937.9,1002.0 939.4,1002.0 940.9,1004.0 942.4,1004.0 943.9,1004.0 945.4,1002.0 946.9,1000.0 948.4,998.0 949.9,1000.0 951.4,998.0 952.8,1000.0 954.3,1000.0 955.8,1004.0 957.3,1008.0 958.8,1008.0 960.3,1004.0 961.8,1002.0 963.3,1002.0 964.8,1004.0 966.3,1004.0 967.8,1008.0 969.3,1006.0 970.8,1008.0 972.3,1006.0 973.8,1002.0 975.2,1004.0 976.7,1004.0 978.2,1010.0 979.7,1006.0 981.2,1006.0 982.7,1002.0 984.2,1004.0 985.7,1002.0 987.2,1004.0 988.7,1006.0 990.2,1004.0 991.7,1004.0 993.2,1004.0 994.7,1008.0 996.1,1004.0 997.6,1002.0 999.1,1002.0 1000.6,1004.0 1002.1,1002.0 1003.6,1004.0 1005.1,1004.0 1006.6,1004.0 1008.1,1000.0 1009.6,1000.0 1011.1,1002.0 1012.6,1002.0 1014.1,1004.0 1015.6,1008.0 1017.0,1012.0 1018.5,1010.0 1020.0,1008.0 1021.5,1004.0 1023.0,1004.0 1024.5,1004.0 1026.0,1004.0 1027.5,1002.0 1029.0,998.0 1030.5,998.0 1032.0,1000.0 1032.0,1000.0 1033.5,1036.0 1033.5,1034.0 1035.0,1036.0 1036.5,1034.0 1036.5,1034.0 1037.2,980.0 1038.0,980.0 1039.4,980.0 1040.9,980.0 1042.4,980.0 1043.9,984.0 1043.9,984.0 1045.4,994.0 1046.6,1018.0 1046.9,1030.0 1047.4,1060.0 1048.4,1078.0 1049.9,1092.0 1049.9,1092.0 1051.4,1108.0 1052.9,1122.0 1052.9,1120.0 1054.4,1136.0 1055.9,1150.0 1057.4,1160.0 1057.4,1158.0 1058.9,1164.0 1060.3,1172.0 1061.8,1180.0 1063.3,1182.0 1064.8,1184.0 1066.0,1188.0 1066.3,1192.0 1067.8,1200.0 1069.3,1210.0 1070.8,1218.0 1072.3,1220.0 1072.3,1218.0 1073.8,1218.0 1075.3,1220.0 1076.8,1222.0 1078.3,1226.0 1079.8,1228.0 1079.8,1228.0 1081.2,1232.0 1082.7,1236.0 1084.2,1240.0 1085.7,1240.0 1087.2,1244.0 1088.7,1244.0 1090.2,1248.0 1090.5,1246.0 1091.7,1250.0 1093.2,1252.0 1094.7,1252.0 1096.2,1252.0 1097.7,1254.0 1099.2,1256.0 1100.7,1262.0 1101.3,1262.0 1102.1,1260.0 1103.6,1262.0 1105.1,1266.0 1106.6,1268.0 1107.4,1270.0 1108.1,1272.0 1109.6,1276.0 1111.1,1278.0 1112.6,1278.0 1114.1,1280.0 1115.6,1280.0 1117.1,1286.0 1118.1,1286.0 1118.6,1284.0 1120.1,1286.0 1121.6,1286.0 1123.1,1288.0 1124.5,1290.0 1126.0,1290.0 1127.5,1292.0 1129.0,1294.0 1130.5,1298.0 1132.0,1300.0 1132.0,1300.0 1133.5,1302.0 1135.0,1300.0 1136.5,1300.0 1138.0,1302.0 1139.5,1306.0 1141.0,1308.0 1142.5,1312.0 1144.0,1312.0 1145.4,1314.0 1146.9,1316.0 1146.9,1316.0 1148.4,1318.0 1149.9,1318.0 1151.4,1318.0 1152.9,1320.0 1154.4,1320.0 1155.9,1322.0 1157.4,1322.0 1158.9,1324.0 1160.4,1328.0 1161.9,1330.0 1162.5,1332.0 1163.4,1332.0 1164.9,1330.0 1166.3,1330.0 1167.8,1332.0 1169.3,1334.0 1170.8,1336.0 1172.3,1338.0 1173.8,1338.0 1175.3,1340.0 1176.8,1340.0 1177.8,1340.0 1178.3,1342.0 1179.8,1342.0 1181.3,1344.0 1182.8,1344.0 1184.3,1346.0 1185.8,1346.0 1187.3,1346.0 1188.7,1346.0 1190.2,1346.0 1191.7,1346.0 1193.1,1348.0 1193.2,1348.0 1194.7,1350.0 1196.2,1350.0 1197.7,1350.0 1199.2,1352.0 1200.7,1352.0 1202.2,1352.0 1203.7,1352.0 1205.2,1354.0 1206.7,1352.0 1208.2,1354.0 1209.6,1354.0 1211.1,1356.0 1212.6,1354.0 1214.1,1356.0 1215.6,1354.0 1216.1,1356.0 1217.1,1358.0 1218.6,1358.0 1220.1,1360.0 1221.6,1360.0 1223.1,1362.0 1224.6,1360.0 1226.1,1360.0 1227.6,1362.0 1229.1,1362.0 1230.5,1364.0 1232.0,1364.0 1233.5,1366.0 1235.0,1368.0 1236.5,1368.0 1237.4,1366.0 1238.0,1368.0 1239.5,1370.0 1241.0,1370.0 1242.5,1368.0 1244.0,1368.0 1245.5,1368.0 1247.0,1370.0 1248.5,1370.0 1250.0,1370.0 1251.4,1368.0 1252.9,1368.0 1254.4,1368.0 1255.9,1370.0 1257.4,1370.0 1258.9,1372.0 1260.4,1372.0 1261.9,1372.0 1263.4,1372.0 1264.9,1372.0 1266.4,1372.0 1267.9,1372.0 1269.4,1372.0 1270.9,1374.0 1272.4,1374.0 1273.8,1376.0 1275.3,1376.0 1276.8,1374.0 1278.3,1374.0 1279.8,1374.0 1281.3,1374.0 1282.8,1376.0 1284.1,1376.0 1284.3,1376.0 1285.8,1376.0 1287.3,1376.0 1288.8,1378.0 1290.3,1378.0 1291.8,1378.0 1293.3,1378.0 1294.7,1380.0 1296.2,1380.0 1297.7,1380.0 1299.2,1380.0 1300.7,1380.0 1302.2,1378.0 1303.7,1380.0 1305.2,1380.0 1306.7,1382.0 1308.2,1382.0 1309.7,1382.0 1311.2,1382.0 1312.7,1382.0 1314.2,1382.0 1315.6,1382.0 1317.1,1384.0 1318.6,1384.0 1320.1,1384.0 1321.6,1384.0 1323.1,1384.0 1324.6,1384.0 1326.1,1384.0 1327.6,1386.0 1329.1,1386.0 1330.6,1386.0 1330.7,1386.0 1332.1,1384.0 1333.6,1386.0 1335.1,1386.0 1336.6,1386.0 1338.0,1386.0 1339.5,1386.0 1341.0,1386.0 1342.5,1388.0 1344.0,1388.0 1345.5,1388.0 1347.0,1388.0 1348.5,1388.0 1350.0,1390.0 1351.5,1388.0 1353.0,1388.0 1354.5,1388.0 1356.0,1388.0 1357.5,1388.0 1358.9,1388.0 1360.4,1390.0 1361.9,1390.0 1363.4,1390.0 1364.9,1388.0 1366.4,1390.0 1367.9,1390.0 1369.4,1390.0 1370.9,1390.0 1372.4,1388.0 1373.9,1390.0 1375.4,1390.0 1376.9,1392.0 1378.4,1390.0 1379.8,1390.0 1381.3,1390.0 1382.8,1390.0 1384.3,1392.0 1385.8,1392.0 1386.9,1392.0 1387.3,1390.0 1388.8,1390.0 1390.3,1392.0 1391.8,1392.0 1393.3,1390.0 1394.8,1392.0 1396.3,1392.0 1397.8,1392.0 1399.3,1392.0 1400.7,1392.0 1402.2,1392.0 1403.7,1392.0 1405.2,1392.0 1406.7,1392.0 1408.2,1392.0 1409.7,1392.0 1411.2,1392.0 1412.7,1392.0 1414.2,1392.0 1415.7,1392.0 1417.2,1392.0 1418.7,1392.0 1420.2,1392.0 1421.7,1392.0 1423.1,1392.0 1424.6,1394.0 1426.1,1394.0 1427.6,1394.0 1429.1,1394.0 1430.6,1392.0 1432.1,1394.0 1433.6,1394.0 1435.1,1394.0 1436.6,1394.0 1438.1,1394.0 1439.6,1394.0 1441.1,1394.0 1442.6,1394.0 1444.0,1394.0 1445.5,1394.0 1447.0,1394.0 1448.5,1394.0 1450.0,1394.0 1451.5,1394.0 1453.0,1396.0 1454.5,1396.0 1456.0,1396.0 1457.5,1394.0 1459.0,1394.0 1460.5,1394.0 1462.0,1394.0 1463.5,1394.0 1464.9,1394.0 1466.4,1394.0 1467.9,1394.0 1469.4,1394.0 1470.9,1394.0 1472.4,1394.0 1473.9,1396.0 1475.4,1394.0 1475.4,1394.0"/>
<polyline stroke="#ff8000" points="878.2,998.0 879.7,1000.0 881.2,1004.0 882.7,1008.0 884.2,1004.0 885.7,1004.0 887.2,1002.0 888.7,1002.0 890.1,1002.0 891.6,1000.0 893.1,1002.0 894.6,1002.0 896.1,1004.0 897.6,1002.0 899.1,1002.0 900.6,1000.0 902.1,998.0 903.6,996.0 905.1,1000.0 906.6,998.0 908.1,1000.0 909.6,998.0 911.0,1002.0 912.5,1004.0 914.0,1000.0 915.5,1000.0 917.0,998.0 918.5,1006.0 920.0,1004.0 921.5,1006.0 923.0,1004.0 924.5,1004.0 926.0,1004.0 927.5,1002.0 929.0,1000.0 930.5,1002.0 931.9,1004.0 933.4,1008.0 934.9,1004.0 936.4,1004.0 937.9,1002.0 939.4,1000.0 940.9,1002.0 942.4,1002.0 943.9,1004.0 945.4,1002.0 946.9,1004.0 948.4,1004.0 949.9,1006.0 951.4,1002.0 952.8,1002.0 954.3,1000.0 955.8,1000.0 957.3,1004.0 958.8,1004.0 960.3,1002.0 961.8,1000.0 963.3,998.0 964.8,1000.0 966.3,1000.0 967.8,1004.0 969.3,1004.0 970.8,1004.0 972.3,1004.0 973.8,1006.0 975.2,1008.0 976.7,1006.0 978.2,1004.0 979.7,1000.0 981.2,1004.0 982.7,1002.0 984.2,1004.0 985.7,1004.0 987.2,1004.0 988.7,1002.0 990.2,1000.0 991.7,998.0 993.2,998.0 994.7,998.0 996.1,1000.0 997.6,1004.0 999.1,1006.0 1000.6,1006.0 1002.1,1004.0 1003.6,1002.0 1005.1,1000.0 1006.6,1000.0 1008.1,998.0 1009.6,1000.0 1011.1,1000.0 1012.6,1002.0 1014.1,1002.0 1015.6,1004.0 1017.0,1004.0 1018.5,1000.0 1020.0,1004.0 1021.5,1002.0 1023.0,1006.0 1024.5,1004.0 1026.0,1004.0 1027.5,1004.0 1029.0,1004.0 1030.5,1004.0 1032.0,1004.0 1032.0,1004.0 1033.5,1034.0 1033.5,1032.0 1035.0,1032.0 1036.5,1030.0 1036.5,1034.0 1037.2,980.0 1038.0,986.0 1039.4,982.0 1040.9,980.0 1042.4,976.0 1043.9,976.0 1043.9,976.0 1045.4,992.0 1046.6,1022.0 1046.9,1036.0 1047.4,1060.0 1048.4,1074.0 1049.9,1090.0 1049.9,1092.0 1051.4,1110.0 1052.9,1126.0 1052.9,1128.0 1054.4,1142.0 1055.9,1154.0 1057.4,1160.0 1057.4,1160.0 1058.9,1168.0 1060.3,1176.0 1061.8,1182.0 1063.0,1190.0 1063.3,1192.0 1064.8,1196.0 1066.3,1198.0 1067.8,1202.0 1069.3,1206.0 1070.8,1208.0 1072.3,1210.0 1073.8,1216.0 1075.1,1218.0 1075.3,1220.0 1076.8,1222.0 1078.3,1222.0 1079.8,1222.0 1081.2,1222.0 1082.7,1224.0 1084.2,1222.0 1085.7,1224.0 1085.9,1224.0 1087.2,1228.0 1088.7,1228.0 1090.2,1230.0 1091.7,1232.0 1093.2,1232.0 1094.7,1232.0 1096.2,1234.0 1097.7,1236.0 1098.1,1238.0 1099.2,1240.0 1100.7,1240.0 1102.1,1242.0 1103.6,1244.0 1105.1,1246.0 1106.6,1250.0 1108.1,1252.0 1108.9,1256.0 1109.6,1256.0 1111.1,1260.0 1112.6,1262.0 1114.1,1268.0 1115.6,1268.0 1117.1,1270.0 1118.6,1270.0 1120.1,1274.0 1121.1,1274.0 1121.6,1276.0 1123.1,1278.0 1124.5,1282.0 1126.0,1284.0 1127.5,1286.0 1129.0,1286.0 1130.5,1288.0 1132.0,1292.0 1133.5,1294.0 1135.0,1294.0 1136.5,1294.0 1138.0,1298.0 1139.5,1300.0 1139.5,1300.0 1141.0,1302.0 1142.5,1304.0 1144.0,1302.0 1145.4,1304.0 1146.9,1306.0 1148.4,1310.0 1149.9,1312.0 1151.4,1314.0 1152.9,1316.0 1154.4,1318.0 1155.9,1322.0 1157.4,1322.0 1158.9,1324.0 1160.4,1324.0 1161.9,1326.0 1162.5,1326.0 1163.4,1326.0 1164.9,1328.0 1166.3,1332.0 1167.8,1332.0 1169.3,1334.0 1170.8,1334.0 1172.3,1334.0 1173.8,1334.0 1175.3,1336.0 1176.8,1338.0 1178.3,1340.0 1179.8,1340.0 1181.3,1342.0 1182.8,1342.0 1184.3,1344.0 1185.8,1344.0 1187.3,1346.0 1188.7,1348.0 1190.2,1348.0 1191.7,1348.0 1193.1,1348.0 1193.2,1348.0 1194.7,1350.0 1196.2,1350.0 1197.7,1350.0 1199.2,1350.0 1200.7,1352.0 1202.2,1352.0 1203.7,1354.0 1205.2,1354.0 1206.7,1356.0 1208.2,1354.0 1209.6,1354.0 1211.1,1356.0 1212.6,1358.0 1214.1,1358.0 1215.6,1360.0 1216.1,1360.0 1217.1,1360.0 1218.6,1360.0 1220.1,1362.0 1221.6,1362.0 1223.1,1364.0 1224.6,1364.0 1226.1,1366.0 1227.6,1368.0 1229.1,1368.0 1230.5,1368.0 1232.0,1370.0 1233.5,1370.0 1235.0,1372.0 1236.5,1372.0 1237.4,1372.0 1238.0,1372.0 1239.5,1372.0 1241.0,1372.0 1242.5,1374.0 1244.0,1374.0 1245.5,1374.0 1247.0,1376.0 1248.5,1376.0 1250.0,1376.0 1251.4,1378.0 1252.9,1378.0 1254.4,1378.0 1255.9,1378.0 1257.4,1378.0 1258.9,1378.0 1260.4,1380.0 1261.9,1378.0 1263.4,1380.0 1264.9,1380.0 1266.4,1380.0 1267.9,1382.0 1269.4,1382.0 1270.9,1382.0 1272.4,1382.0 1273.8,1382.0 1275.3,1382.0 1276.8,1382.0 1278.3,1384.0 1279.8,1384.0 1281.3,1384.0 1282.8,1384.0 1284.1,1384.0 1284.3,1384.0 1285.8,1382.0 1287.3,1384.0 1288.8,1384.0 1290.3,1384.0 1291.8,1384.0 1293.3,1386.0 1294.7,1386.0 1296.2,1386.0 1297.7,1386.0 1299.2,1386.0 1300.7,1386.0 1302.2,1386.0 1303.7,1386.0 1305.2,1386.0 1306.7,1386.0 1308.2,1386.0 1309.7,1386.0 1311.2,1386.0 1312.7,1388.0 1314.2,1388.0 1315.6,1388.0 1317.1,1388.0 1318.6,1388.0 1320.1,1388.0 1321.6,1388.0 1323.1,1390.0 1324.6,1388.0 1326.1,1388.0 1327.6,1388.0 1329.1,1388.0 1330.6,1388.0 1330.7,1388.0 1332.1,1390.0 1333.6,1390.0 1335.1,1390.0 1336.6,1390.0 1338.0,1390.0 1339.5,1390.0 1341.0,1390.0 1342.5,1390.0 1344.0,1390.0 1345.5,1390.0 1347.0,1390.0 1348.5,1390.0 1350.0,1392.0 1351.5,1392.0 1353.0,1392.0 1354.5,1392.0 1356.0,1392.0 1357.5,1392.0 1358.9,1392.0 1360.4,1392.0 1361.9,1392.0 1363.4,1392.0 1364.9,1392.0 1366.4,1392.0 1367.9,1392.0 1369.4,1392.0 1370.9,1392.0 1372.4,1392.0 1373.9,1392.0 1375.4,1392.0 1376.9,1394.0 1378.4,1392.0 1379.8,1392.0 1381.3,1392.0 1382.8,1392.0 1384.3,1394.0 1385.8,1394.0 1386.9,1394.0 1387.3,1394.0 1388.8,1394.0 1390.3,1394.0 1391.8,1394.0 1393.3,1394.0 1394.8,1394.0 1396.3,1394.0 1397.8,1394.0 1399.3,1394.0 1400.7,1394.0 1402.2,1394.0 1403.7,1396.0 1405.2,1396.0 1406.7,1396.0 1408.2,1396.0 1409.7,1396.0 1411.2,1396.0 1412.7,1396.0 1414.2,1396.0 1415.7,1396.0 1417.2,1396.0 1418.7,1396.0 1420.2,1396.0 1421.7,1396.0 1423.1,1396.0 1424.6,1396.0 1426.1,1396.0 1427.6,1398.0 1429.1,1398.0 1430.6,1398.0 1432.1,1398.0 1433.6,1398.0 1435.1,1398.0 1436.6,1398.0 1438.1,1398.0 1439.6,1398.0 1441.1,1398.0 1442.6,1398.0 1444.0,1398.0 1445.5,1398.0 1447.0,1398.0 1448.5,1398.0 1450.0,1398.0 1451.5,1398.0 1453.0,1398.0 1454.5,1398.0 1456.0,1400.0 1457.5,1400.0 1459.0,1400.0 1460.5,1400.0 1461.7,1400.0 1462.0,1400.0 1463.5,1400.0 1464.9,1398.0 1466.4,1398.0 1467.9,1400.0 1469.4,1400.0 1470.9,1398.0 1472.4,1398.0 1473.9,1398.0 1475.4,1400.0 1475.4,1400.0"/>
<polyline stroke="#00ff00" points="878.2,1012.0 879.7,1012.0 881.2,1010.0 882.7,1010.0 884.2,1012.0 885.7,1010.0 887.2,1012.0 888.7,1012.0 890.1,1014.0 891.6,1012.0 893.1,1008.0 894.6,1006.0 896.1,1006.0 897.6,1012.0 899.1,1010.0 900.6,1010.0 902.1,1008.0 903.6,1012.0 905.1,1012.0 906.6,1012.0 908.1,1012.0 909.6,1012.0 911.0,1016.0 912.5,1016.0 914.0,1016.0 915.5,1010.0 917.0,1010.0 918.5,1010.0 920.0,1010.0 921.5,1010.0 923.0,1008.0 924.5,1014.0 926.0,1014.0 927.5,1018.0 929.0,1020.0 930.5,1020.0 931.9,1016.0 933.4,1010.0 934.9,1008.0 936.4,1008.0 937.9,1008.0 939.4,1010.0 940.9,1012.0 942.4,1012.0 943.9,1010.0 945.4,1014.0 946.9,1012.0 948.4,1014.0 949.9,1010.0 951.4,1014.0 952.8,1014.0 954.3,1016.0 955.8,1012.0 957.3,1012.0 958.8,1010.0 960.3,1010.0 961.8,1010.0 963.3,1010.0 964.8,1010.0 966.3,1008.0 967.8,1006.0 969.3,1006.0 970.8,1008.0 972.3,1012.0 973.8,1012.0 975.2,1012.0 976.7,1012.0 978.2,1014.0 979.7,1014.0 981.2,1008.0 982.7,1012.0 984.2,1012.0 985.7,1016.0 987.2,1010.0 988.7,1010.0 990.2,1010.0 991.7,1012.0 993.2,1016.0 994.7,1018.0 996.1,1016.0 997.6,1014.0 999.1,1012.0 1000.6,1014.0 1002.1,1016.0 1003.6,1014.0 1005.1,1012.0 1006.6,1008.0 1008.1,1010.0 1009.6,1010.0 1011.1,1014.0 1012.6,1014.0 1014.1,1018.0 1015.6,1018.0 1017.0,1016.0 1018.5,1016.0 1020.0,1016.0 1021.5,1016.0 1023.0,1012.0 1024.5,1010.0 1026.0,1010.0 1027.5,1012.0 1029.0,1006.0 1030.5,1010.0 1032.0,1010.0 1032.0,1016.0 1033.5,1038.0 1033.5,1040.0 1035.0,1032.0 1036.5,1032.0 1036.5,1036.0 1037.2,982.0 1038.0,982.0 1039.4,980.0 1040.9,982.0 1042.4,980.0 1043.9,980.0 1043.9,980.0 1045.4,992.0 1046.6,1016.0 1046.9,1034.0 1047.4,1064.0 1048.4,1086.0 1049.9,1102.0 1049.9,1100.0 1051.4,1116.0 1052.9,1130.0 1052.9,1128.0 1054.4,1140.0 1055.9,1150.0 1056.5,1156.0 1057.4,1162.0 1058.9,1168.0 1060.3,1172.0 1061.5,1172.0 1061.8,1174.0 1063.3,1176.0 1064.8,1182.0 1066.3,1184.0 1067.8,1188.0 1068.1,1184.0 1069.3,1186.0 1070.8,1188.0 1072.3,1188.0 1073.8,1186.0 1075.3,1188.0 1076.5,1190.0 1076.8,1192.0 1078.3,1192.0 1079.8,1190.0 1081.2,1190.0 1082.7,1194.0 1083.5,1196.0 1084.2,1196.0 1085.7,1200.0 1087.2,1202.0 1088.7,1204.0 1090.2,1204.0 1091.7,1206.0 1092.0,1208.0 1093.2,1212.0 1094.7,1216.0 1096.2,1222.0 1097.7,1226.0 1099.2,1230.0 1100.7,1232.0 1101.3,1236.0 1102.1,1236.0 1103.6,1238.0 1105.1,1240.0 1106.6,1244.0 1108.1,1246.0 1109.6,1250.0 1111.1,1252.0 1112.6,1258.0 1113.5,1258.0 1114.1,1260.0 1115.6,1260.0 1117.1,1264.0 1118.6,1266.0 1120.1,1270.0 1121.6,1270.0 1123.1,1270.0 1124.2,1272.0 1124.5,1272.0 1126.0,1276.0 1127.5,1278.0 1129.0,1280.0 1130.5,1284.0 1132.0,1288.0 1133.5,1292.0 1135.0,1296.0 1136.5,1298.0 1138.0,1300.0 1139.5,1304.0 1139.5,1306.0 1141.0,1308.0 1142.5,1310.0 1144.0,1312.0 1145.4,1316.0 1146.9,1318.0 1148.4,1320.0 1149.9,1322.0 1151.4,1322.0 1152.9,1326.0 1154.4,1330.0 1154.9,1334.0 1155.9,1336.0 1157.4,1336.0 1158.9,1336.0 1160.4,1338.0 1161.9,1342.0 1163.4,1344.0 1164.9,1346.0 1166.3,1348.0 1167.8,1350.0 1169.3,1350.0 1170.8,1352.0 1172.3,1354.0 1173.8,1354.0 1175.3,1356.0 1176.8,1358.0 1177.8,1360.0 1178.3,1360.0 1179.8,1362.0 1181.3,1362.0 1182.8,1364.0 1184.3,1364.0 1185.8,1366.0 1187.3,1368.0 1188.7,1368.0 1190.2,1368.0 1191.7,1368.0 1193.2,1368.0 1194.7,1368.0 1196.2,1370.0 1197.7,1370.0 1199.2,1372.0 1200.7,1372.0 1200.7,1372.0 1202.2,1374.0 1203.7,1374.0 1205.2,1374.0 1206.7,1376.0 1208.2,1378.0 1209.6,1378.0 1211.1,1378.0 1212.6,1380.0 1214.1,1380.0 1215.6,1380.0 1216.1,1380.0 1217.1,1380.0 1218.6,1380.0 1220.1,1380.0 1221.6,1380.0 1223.1,1382.0 1224.6,1382.0 1226.1,1382.0 1227.6,1382.0 1229.1,1382.0 1230.5,1384.0 1232.0,1384.0 1233.5,1384.0 1235.0,1386.0 1236.5,1384.0 1237.4,1384.0 1238.0,1384.0 1239.5,1386.0 1241.0,1386.0 1242.5,1386.0 1244.0,1388.0 1245.5,1388.0 1247.0,1388.0 1248.5,1388.0 1250.0,1388.0 1251.4,1388.0 1252.9,1388.0 1254.4,1390.0 1255.9,1390.0 1257.4,1392.0 1258.9,1392.0 1260.4,1390.0 1261.9,1390.0 1263.4,1392.0 1264.9,1392.0 1266.4,1392.0 1267.9,1392.0 1269.4,1392.0 1270.9,1392.0 1272.4,1394.0 1273.8,1394.0 1275.3,1394.0 1276.8,1394.0 1278.3,1394.0 1279.8,1394.0 1281.3,1394.0 1282.8,1394.0 1284.1,1394.0 1284.3,1394.0 1285.8,1394.0 1287.3,1396.0 1288.8,1394.0 1290.3,1396.0 1291.8,1396.0 1293.3,1396.0 1294.7,1396.0 1296.2,1396.0 1297.7,1396.0 1299.2,1396.0 1300.7,1396.0 1302.2,1396.0 1303.7,1396.0 1305.2,1396.0 1306.7,1396.0 1308.2,1398.0 1309.7,1398.0 1311.2,1398.0 1312.7,1396.0 1314.2,1396.0 1315.6,1396.0 1317.1,1396.0 1318.6,1398.0 1320.1,1398.0 1321.6,1398.0 1323.1,1398.0 1324.6,1398.0 1326.1,1396.0 1327.6,1398.0 1329.1,1398.0 1330.6,1398.0 1330.7,1398.0 1332.1,1398.0 1333.6,1398.0 1335.1,1398.0 1336.6,1398.0 1338.0,1398.0 1339.5,1398.0 1341.0,1398.0 1342.5,1398.0 1344.0,1398.0 1345.5,1398.0 1347.0,1398.0 1348.5,1398.0 1350.0,1398.0 1351.5,1398.0 1353.0,1398.0 1354.5,1398.0 1356.0,1398.0 1357.5,1398.0 1358.9,1398.0 1360.4,1398.0 1361.9,1398.0 1363.4,1398.0 1364.9,1398.0 1366.4,1400.0 1367.9,1400.0 1369.4,1400.0 1370.9,1400.0 1372.4,1398.0 1373.9,1398.0 1375.4,1398.0 1376.9,1398.0 1378.4,1400.0 1379.8,1400.0 1381.3,1400.0 1382.8,1398.0 1384.3,1398.0 1385.8,1400.0 1386.9,1400.0 1387.3,1400.0 1388.8,1400.0 1390.3,1400.0 1391.8,1400.0 1393.3,1398.0 1394.8,1400.0 1396.3,1398.0 1397.8,1400.0 1399.3,1400.0 1400.7,1400.0 1402.2,1400.0 1403.7,1400.0 1405.2,1400.0 1406.7,1400.0 1408.2,1400.0 1409.7,1400.0 1411.2,1400.0 1412.7,1400.0 1414.2,1400.0 1415.7,1400.0 1417.2,1400.0 1418.7,1400.0 1420.2,1400.0 1421.7,1400.0 1423.1,1400.0 1424.6,1400.0 1426.1,1400.0 1427.6,1400.0 1429.1,1402.0 1430.6,1402.0 1432.1,1400.0 1433.6,1402.0 1435.1,1402.0 1436.6,1402.0 1438.1,1402.0 1439.6,1400.0 1441.1,1400.0 1442.6,1400.0 1444.0,1400.0 1445.5,1400.0 1447.0,1400.0 1448.5,1400.0 1450.0,1402.0 1451.5,1402.0 1453.0,1402.0 1454.5,1402.0 1456.0,1402.0 1457.5,1402.0 1459.0,1402.0 1460.5,1402.0 1462.0,1402.0 1463.5,1400.0 1464.9,1400.0 1466.4,1402.0 1467.9,1402.0 1469.4,1402.0 1470.9,1402.0 1472.4,1402.0 1473.9,1402.0 1475.4,1402.0 1475.4,1402.0"/>
<polyline stroke="#0000ff" points="878.2,1000.0 879.7,1002.0 881.2,1004.0 882.7,1006.0 884.2,1006.0 885.7,1006.0 887.2,1006.0 888.7,1002.0 890.1,1004.0 891.6,1006.0 893.1,1004.0 894.6,1004.0 896.1,1004.0 897.6,1008.0 899.1,1006.0 900.6,1008.0 902.1,1006.0 903.6,1006.0 905.1,1006.0 906.6,1006.0 908.1,1002.0 909.6,1002.0 911.0,1004.0 912.5,1004.0 914.0,1004.0 915.5,1004.0 917.0,1008.0 918.5,1006.0 920.0,1006.0 921.5,1000.0 923.0,1000.0 924.5,1002.0 926.0,1008.0 927.5,1006.0 929.0,1006.0 930.5,1002.0 931.9,1004.0 933.4,1000.0 934.9,1000.0 936.4,998.0 937.9,1000.0 939.4,1000.0 940.9,1004.0 942.4,1002.0 943.9,1002.0 945.4,1002.0 946.9,1004.0 948.4,1000.0 949.9,998.0 951.4,998.0 952.8,1002.0 954.3,1000.0 955.8,1002.0 957.3,1000.0 958.8,1002.0 960.3,1002.0 961.8,1002.0 963.3,1004.0 964.8,1006.0 966.3,1008.0 967.8,1008.0 969.3,1008.0 970.8,1004.0 972.3,1004.0 973.8,1002.0 975.2,1002.0 976.7,1004.0 978.2,1004.0 979.7,1002.0 981.2,1002.0 982.7,1004.0 984.2,1006.0 985.7,1004.0 987.2,1006.0 988.7,1006.0 990.2,1004.0 991.7,1004.0 993.2,1002.0 994.7,1000.0 996.1,996.0 997.6,1002.0 999.1,1004.0 1000.6,1004.0 1002.1,1000.0 1003.6,1004.0 1005.1,1004.0 1006.6,1006.0 1008.1,1002.0 1009.6,1002.0 1011.1,996.0 1012.6,998.0 1014.1,1002.0 1015.6,1006.0 1017.0,1004.0 1018.5,1002.0 1020.0,1000.0 1021.5,1000.0 1023.0,1002.0 1024.5,1006.0 1026.0,1008.0 1027.5,1006.0 1029.0,1004.0 1030.5,1004.0 1032.0,1004.0 1032.0,1004.0 1033.5,1036.0 1033.5,1036.0 1035.0,1036.0 1036.5,1036.0 1036.5,1040.0 1037.2,982.0 1038.0,984.0 1039.4,980.0 1040.9,984.0 1042.4,980.0 1043.9,980.0 1043.9,980.0 1045.4,994.0 1046.6,1022.0 1046.9,1034.0 1047.4,1062.0 1048.4,1080.0 1049.9,1100.0 1049.9,1100.0 1051.4,1118.0 1052.9,1134.0 1052.9,1132.0 1054.4,1150.0 1054.8,1150.0 1055.9,1150.0 1057.4,1148.0 1058.9,1150.0 1060.3,1154.0 1061.8,1156.0 1063.3,1156.0 1064.8,1158.0 1064.8,1156.0 1066.3,1158.0 1067.8,1160.0 1069.3,1160.0 1070.8,1164.0 1072.3,1164.0 1073.0,1166.0 1073.8,1162.0 1075.3,1160.0 1076.8,1158.0 1078.3,1158.0 1079.8,1160.0 1079.8,1160.0 1081.2,1164.0 1082.7,1170.0 1084.2,1174.0 1084.7,1174.0 1085.7,1176.0 1087.2,1178.0 1088.7,1182.0 1090.2,1186.0 1091.7,1192.0 1093.0,1196.0 1093.2,1194.0 1094.7,1198.0 1096.2,1200.0 1097.7,1200.0 1099.2,1204.0 1100.7,1208.0 1102.1,1212.0 1103.6,1216.0 1104.2,1218.0 1105.1,1220.0 1106.6,1224.0 1108.1,1228.0 1109.6,1236.0 1110.4,1242.0 1111.1,1246.0 1112.6,1252.0 1114.1,1260.0 1115.6,1268.0 1116.5,1272.0 1117.1,1276.0 1118.6,1280.0 1120.1,1288.0 1121.6,1290.0 1123.1,1296.0 1124.5,1300.0 1125.7,1304.0 1126.0,1304.0 1127.5,1308.0 1129.0,1312.0 1130.5,1314.0 1132.0,1318.0 1133.5,1320.0 1134.8,1324.0 1135.0,1326.0 1136.5,1328.0 1138.0,1332.0 1139.5,1334.0 1141.0,1336.0 1142.5,1338.0 1144.0,1340.0 1145.4,1342.0 1146.9,1344.0 1147.1,1344.0 1148.4,1346.0 1149.9,1348.0 1151.4,1350.0 1152.9,1354.0 1154.4,1356.0 1155.9,1358.0 1157.4,1358.0 1158.9,1360.0 1160.4,1362.0 1161.9,1364.0 1162.5,1364.0 1163.4,1364.0 1164.9,1364.0 1166.3,1366.0 1167.8,1368.0 1169.3,1370.0 1170.8,1372.0 1172.3,1372.0 1173.8,1374.0 1175.3,1374.0 1176.8,1374.0 1177.8,1374.0 1178.3,1374.0 1179.8,1378.0 1181.3,1378.0 1182.8,1378.0 1184.3,1378.0 1185.8,1380.0 1187.3,1382.0 1188.7,1382.0 1190.2,1382.0 1191.7,1384.0 1193.1,1384.0 1193.2,1384.0 1194.7,1384.0 1196.2,1386.0 1197.7,1386.0 1199.2,1386.0 1200.7,1386.0 1202.2,1388.0 1203.7,1388.0 1205.2,1390.0 1206.7,1390.0 1208.2,1390.0 1209.6,1390.0 1211.1,1390.0 1212.6,1392.0 1214.1,1392.0 1215.6,1392.0 1216.1,1392.0 1217.1,1392.0 1218.6,1392.0 1220.1,1392.0 1221.6,1392.0 1223.1,1392.0 1224.6,1392.0 1226.1,1392.0 1227.6,1394.0 1229.1,1394.0 1230.5,1394.0 1232.0,1394.0 1233.5,1394.0 1235.0,1394.0 1236.5,1394.0 1237.4,1394.0 1238.0,1394.0 1239.5,1394.0 1241.0,1394.0 1242.5,1394.0 1244.0,1394.0 1245.5,1394.0 1247.0,1394.0 1248.5,1396.0 1250.0,1394.0 1251.4,1396.0 1252.9,1394.0 1254.4,1394.0 1255.9,1394.0 1257.4,1394.0 1258.9,1394.0 1260.4,1396.0 1261.9,1394.0 1263.4,1394.0 1264.9,1396.0 1266.4,1396.0 1267.9,1396.0 1269.4,1396.0 1270.9,1396.0 1272.4,1396.0 1273.8,1396.0 1275.3,1398.0 1276.8,1398.0 1278.3,1396.0 1279.8,1396.0 1281.3,1398.0 1282.8,1398.0 1284.1,1398.0 1284.3,1398.0 1285.8,1398.0 1287.3,1398.0 1288.8,1398.0 1290.3,1398.0 1291.8,1398.0 1293.3,1398.0 1294.7,1398.0 1296.2,1400.0 1297.7,1400.0 1299.2,1400.0 1300.7,1400.0 1302.2,1400.0 1303.7,1400.0 1305.2,1400.0 1306.7,1400.0 1308.2,1400.0 1309.7,1400.0 1311.2,1400.0 1312.7,1400.0 1314.2,1400.0 1315.6,1402.0 1317.1,1402.0 1318.6,1402.0 1320.1,1402.0 1321.6,1402.0 1323.1,1402.0 1324.6,1402.0 1326.1,1402.0 1327.6,1402.0 1329.1,1402.0 1330.6,1402.0 1330.7,1402.0 1332.1,1402.0 1333.6,1402.0 1335.1,1402.0 1336.6,1402.0 1338.0,1402.0 1339.5,1402.0 1341.0,1402.0 1342.5,1402.0 1344.0,1402.0 1345.5,1402.0 1347.0,1402.0 1348.5,1402.0 1350.0,1402.0 1351.5,1402.0 1353.0,1402.0 1354.5,1402.0 1356.0,1402.0 1357.5,1402.0 1358.9,1402.0 1360.4,1402.0 1361.9,1402.0 1363.4,1402.0 1364.9,1402.0 1366.4,1402.0 1367.9,1402.0 1369.4,1402.0 1370.9,1402.0 1372.4,1402.0 1373.9,1402.0 1375.4,1402.0 1376.9,1402.0 1378.4,1402.0 1379.8,1402.0 1381.3,1402.0 1382.8,1402.0 1384.3,1402.0 1385.8,1402.0 1387.3,1402.0 1388.8,1402.0 1390.3,1404.0 1391.8,1404.0 1393.3,1404.0 1394.8,1402.0 1396.3,1402.0 1397.8,1402.0 1399.3,1402.0 1400.7,1402.0 1402.2,1402.0 1403.7,1402.0 1405.2,1404.0 1406.7,1404.0 1408.2,1402.0 1409.7,1402.0 1411.2,1402.0 1412.7,1402.0 1414.2,1402.0 1415.7,1402.0 1417.2,1402.0 1418.7,1402.0 1420.2,1404.0 1421.7,1404.0 1423.1,1404.0 1424.6,1402.0 1426.1,1402.0 1427.6,1404.0 1429.1,1404.0 1430.6,1404.0 1432.1,1402.0 1433.6,1402.0 1435.1,1402.0 1436.6,1404.0 1438.1,1404.0 1439.6,1404.0 1441.1,1404.0 1442.6,1404.0 1444.0,1402.0 1445.5,1402.0 1447.0,1404.0 1448.5,1404.0 1450.0,1404.0 1451.5,1402.0 1453.0,1402.0 1454.5,1402.0 1456.0,1402.0 1457.5,1404.0 1459.0,1404.0 1460.5,1402.0 1462.0,1402.0 1463.5,1402.0 1464.9,1402.0 1466.4,1402.0 1467.9,1402.0 1469.4,1402.0 1470.9,1402.0 1472.4,1402.0 1473.9,1402.0 1475.4,1404.0 1475.4,1402.0"/>
<polyline stroke="#ff00ff" points="878.2,1012.0 879.7,1014.0 881.2,1014.0 882.7,1012.0 884.2,1008.0 885.7,1004.0 887.2,1002.0 888.7,1008.0 890.1,1012.0 891.6,1012.0 893.1,1008.0 894.6,1006.0 896.1,1006.0 897.6,1008.0 899.1,1006.0 900.6,1008.0 902.1,1010.0 903.6,1010.0 905.1,1006.0 906.6,1006.0 908.1,1008.0 909.6,1010.0 911.0,1014.0 912.5,1012.0 914.0,1010.0 915.5,1006.0 917.0,1008.0 918.5,1010.0 920.0,1008.0 921.5,1008.0 923.0,1002.0 924.5,1004.0 926.0,1006.0 927.5,1008.0 929.0,1008.0 930.5,1006.0 931.9,1010.0 933.4,1010.0 934.9,1010.0 936.4,1006.0 937.9,1012.0 939.4,1012.0 940.9,1016.0 942.4,1014.0 943.9,1012.0 945.4,1010.0 946.9,1012.0 948.4,1014.0 949.9,1010.0 951.4,1004.0 952.8,1004.0 954.3,1004.0 955.8,1006.0 957.3,1006.0 958.8,1006.0 960.3,1008.0 961.8,1008.0 963.3,1006.0 964.8,1000.0 966.3,1000.0 967.8,1006.0 969.3,1012.0 970.8,1014.0 972.3,1010.0 973.8,1010.0 975.2,1012.0 976.7,1012.0 978.2,1008.0 979.7,1008.0 981.2,1006.0 982.7,1004.0 984.2,1004.0 985.7,1006.0 987.2,1010.0 988.7,1012.0 990.2,1010.0 991.7,1010.0 993.2,1010.0 994.7,1010.0 996.1,1008.0 997.6,1006.0 999.1,1004.0 1000.6,1006.0 1002.1,1006.0 1003.6,1008.0 1005.1,1010.0 1006.6,1012.0 1008.1,1010.0 1009.6,1008.0 1011.1,1010.0 1012.6,1010.0 1014.1,1010.0 1015.6,1006.0 1017.0,1008.0 1018.5,1008.0 1020.0,1010.0 1021.5,1010.0 1023.0,1010.0 1024.5,1008.0 1026.0,1004.0 1027.5,1002.0 1029.0,1002.0 1030.5,1006.0 1032.0,1008.0 1032.0,1010.0 1033.5,1036.0 1033.5,1038.0 1035.0,1038.0 1036.5,1044.0 1036.5,1038.0 1037.2,926.0 1038.0,924.0 1039.4,928.0 1040.9,928.0 1042.4,924.0 1043.9,918.0 1043.9,918.0 1045.4,958.0 1046.6,1016.0 1046.9,1040.0 1047.4,1072.0 1048.4,1086.0 1049.9,1098.0 1049.9,1098.0 1051.4,1116.0 1052.3,1124.0 1052.9,1128.0 1054.4,1136.0 1054.8,1136.0 1055.9,1136.0 1057.4,1136.0 1058.9,1136.0 1059.9,1136.0 1060.3,1138.0 1061.8,1138.0 1063.3,1138.0 1064.8,1138.0 1066.3,1136.0 1067.8,1132.0 1069.3,1130.0 1069.8,1128.0 1070.8,1128.0 1072.3,1130.0 1073.8,1130.0 1075.3,1132.0 1076.5,1132.0 1076.8,1132.0 1078.3,1134.0 1079.8,1140.0 1081.2,1144.0 1081.4,1144.0 1082.7,1144.0 1084.2,1150.0 1085.7,1156.0 1086.3,1162.0 1087.2,1162.0 1088.7,1166.0 1090.2,1170.0 1091.4,1174.0 1091.7,1174.0 1093.2,1186.0 1094.7,1196.0 1094.7,1198.0 1096.2,1200.0 1097.7,1206.0 1099.2,1210.0 1100.7,1214.0 1101.3,1218.0 1102.1,1220.0 1103.6,1230.0 1105.1,1236.0 1106.6,1246.0 1108.1,1254.0 1108.9,1258.0 1109.6,1262.0 1111.1,1272.0 1112.6,1284.0 1113.5,1290.0 1114.1,1292.0 1115.6,1298.0 1117.1,1304.0 1118.6,1310.0 1120.1,1316.0 1121.1,1318.0 1121.6,1318.0 1123.1,1322.0 1124.5,1328.0 1126.0,1332.0 1127.5,1336.0 1129.0,1340.0 1130.5,1344.0 1131.9,1346.0 1132.0,1346.0 1133.5,1348.0 1135.0,1352.0 1136.5,1354.0 1138.0,1356.0 1139.5,1358.0 1141.0,1360.0 1142.5,1362.0 1144.0,1362.0 1145.4,1364.0 1146.9,1366.0 1147.1,1368.0 1148.4,1368.0 1149.9,1370.0 1151.4,1370.0 1152.9,1372.0 1154.4,1372.0 1155.9,1376.0 1157.4,1376.0 1158.9,1378.0 1160.4,1378.0 1161.9,1380.0 1162.5,1378.0 1163.4,1380.0 1164.9,1380.0 1166.3,1382.0 1167.8,1380.0 1169.3,1382.0 1170.8,1382.0 1172.3,1382.0 1173.8,1382.0 1175.3,1384.0 1176.8,1384.0 1177.8,1384.0 1178.3,1386.0 1179.8,1386.0 1181.3,1386.0 1182.8,1388.0 1184.3,1390.0 1185.8,1390.0 1187.3,1390.0 1188.7,1390.0 1190.2,1390.0 1191.7,1390.0 1193.1,1392.0 1193.2,1392.0 1194.7,1392.0 1196.2,1392.0 1197.7,1392.0 1199.2,1392.0 1200.7,1392.0 1202.2,1394.0 1203.7,1394.0 1205.2,1394.0 1206.7,1396.0 1208.2,1396.0 1209.6,1396.0 1211.1,1396.0 1212.6,1396.0 1214.1,1396.0 1215.6,1396.0 1216.1,1396.0 1217.1,1396.0 1218.6,1396.0 1220.1,1396.0 1221.6,1398.0 1223.1,1398.0 1224.6,1398.0 1226.1,1398.0 1227.6,1396.0 1229.1,1396.0 1230.5,1396.0 1232.0,1396.0 1233.5,1396.0 1235.0,1396.0 1236.5,1398.0 1237.4,1398.0 1238.0,1398.0 1239.5,1398.0 1241.0,1398.0 1242.5,1398.0 1244.0,1398.0 1245.5,1398.0 1247.0,1398.0 1248.5,1398.0 1250.0,1398.0 1251.4,1398.0 1252.9,1398.0 1254.4,1398.0 1255.9,1398.0 1257.4,1398.0 1258.9,1398.0 1260.4,1400.0 1261.9,1400.0 1263.4,1400.0 1264.9,1400.0 1266.4,1400.0 1267.9,1400.0 1269.4,1400.0 1270.9,1400.0 1272.4,1400.0 1273.8,1400.0 1275.3,1400.0 1276.8,1400.0 1278.3,1400.0 1279.8,1400.0 1281.3,1400.0 1282.8,1400.0 1284.1,1400.0 1284.3,1400.0 1285.8,1400.0 1287.3,1400.0 1288.8,1400.0 1290.3,1400.0 1291.8,1400.0 1293.3,1400.0 1294.7,1400.0 1296.2,1400.0 1297.7,1400.0 1299.2,1400.0 1300.7,1400.0 1302.2,1402.0 1303.7,1402.0 1305.2,1402.0 1306.7,1402.0 1308.2,1402.0 1309.7,1402.0 1311.2,1402.0 1312.7,1402.0 1314.2,1402.0 1315.6,1402.0 1317.1,1402.0 1318.6,1402.0 1320.1,1402.0 1321.6,1402.0 1323.1,1402.0 1324.6,1402.0 1326.1,1402.0 1326.1,1402.0 1327.6,1402.0 1329.1,1402.0 1330.6,1402.0 1332.1,1402.0 1333.6,1402.0 1335.1,1402.0 1336.6,1402.0 1338.0,1402.0 1339.5,1402.0 1341.0,1402.0 1342.5,1402.0 1344.0,1402.0 1345.5,1402.0 1347.0,1402.0 1348.5,1402.0 1350.0,1402.0 1351.5,1402.0 1353.0,1402.0 1354.5,1402.0 1356.0,1402.0 1357.5,1402.0 1358.9,1402.0 1360.4,1402.0 1361.9,1402.0 1363.4,1402.0 1364.9,1402.0 1366.4,1402.0 1367.9,1402.0 1369.4,1402.0 1370.9,1402.0 1372.4,1402.0 1373.9,1402.0 1375.4,1402.0 1376.9,1402.0 1378.4,1402.0 1379.8,1402.0 1381.3,1402.0 1382.8,1402.0 1384.3,1402.0 1385.8,1402.0 1387.3,1402.0 1388.8,1402.0 1390.3,1402.0 1391.8,1402.0 1393.3,1402.0 1394.8,1402.0 1396.3,1402.0 1397.8,1402.0 1399.3,1402.0 1400.7,1402.0 1402.2,1402.0 1403.7,1402.0 1405.2,1402.0 1406.7,1402.0 1408.2,1402.0 1409.7,1402.0 1411.2,1402.0 1412.7,1402.0 1414.2,1402.0 1415.7,1402.0 1417.2,1402.0 1418.7,1402.0 1420.2,1402.0 1421.7,1402.0 1423.1,1402.0 1424.6,1402.0 1426.1,1402.0 1427.6,1402.0 1429.1,1402.0 1430.6,1402.0 1432.1,1402.0 1433.6,1404.0 1435.1,1402.0 1436.6,1402.0 1438.1,1402.0 1439.6,1402.0 1441.1,1402.0 1442.6,1402.0 1444.0,1402.0 1445.5,1402.0 1447.0,1404.0 1448.5,1402.0 1450.0,1402.0 1451.5,1402.0 1453.0,1402.0 1454.5,1404.0 1456.0,1404.0 1457.5,1404.0 1459.0,1402.0 1460.5,1402.0 1462.0,1402.0 1463.5,1402.0 1464.9,1402.0 1466.4,1402.0 1467.9,1402.0 1469.4,1402.0 1470.9,1404.0 1472.4,1404.0 1473.9,1404.0 1475.4,1404.0 1475.4,1404.0"/>
</g>
<rect x="879" y="964" width="596" height="440" fill="none" stroke="#000" stroke-width="4.2"/>
<line x1="952.9" y1="1404.0" x2="952.9" y2="1399.5" stroke="#000" stroke-width="3.6"/>
<line x1="952.9" y1="964.0" x2="952.9" y2="970.5" stroke="#000" stroke-width="3.6"/>
<line x1="1027.5" y1="1404.0" x2="1027.5" y2="1395.5" stroke="#000" stroke-width="3.6"/>
<line x1="1027.5" y1="964.0" x2="1027.5" y2="974.5" stroke="#000" stroke-width="3.6"/>
<line x1="1102.2" y1="1404.0" x2="1102.2" y2="1399.5" stroke="#000" stroke-width="3.6"/>
<line x1="1102.2" y1="964.0" x2="1102.2" y2="970.5" stroke="#000" stroke-width="3.6"/>
<line x1="1176.8" y1="1404.0" x2="1176.8" y2="1395.5" stroke="#000" stroke-width="3.6"/>
<line x1="1176.8" y1="964.0" x2="1176.8" y2="974.5" stroke="#000" stroke-width="3.6"/>
<line x1="1251.5" y1="1404.0" x2="1251.5" y2="1399.5" stroke="#000" stroke-width="3.6"/>
<line x1="1251.5" y1="964.0" x2="1251.5" y2="970.5" stroke="#000" stroke-width="3.6"/>
<line x1="1326.1" y1="1404.0" x2="1326.1" y2="1395.5" stroke="#000" stroke-width="3.6"/>
<line x1="1326.1" y1="964.0" x2="1326.1" y2="974.5" stroke="#000" stroke-width="3.6"/>
<line x1="1400.8" y1="1404.0" x2="1400.8" y2="1399.5" stroke="#000" stroke-width="3.6"/>
<line x1="1400.8" y1="964.0" x2="1400.8" y2="970.5" stroke="#000" stroke-width="3.6"/>
<line x1="879.0" y1="1364.0" x2="887.5" y2="1364.0" stroke="#000" stroke-width="3.6"/>
<line x1="1475.0" y1="1364.0" x2="1470.4" y2="1364.0" stroke="#000" stroke-width="3.6"/>
<line x1="879.0" y1="1324.0" x2="890.0" y2="1324.0" stroke="#000" stroke-width="3.6"/>
<line x1="1475.0" y1="1324.0" x2="1465.5" y2="1324.0" stroke="#000" stroke-width="3.6"/>
<line x1="879.0" y1="1284.0" x2="887.5" y2="1284.0" stroke="#000" stroke-width="3.6"/>
<line x1="1475.0" y1="1284.0" x2="1470.4" y2="1284.0" stroke="#000" stroke-width="3.6"/>
<line x1="879.0" y1="1244.0" x2="890.0" y2="1244.0" stroke="#000" stroke-width="3.6"/>
<line x1="1475.0" y1="1244.0" x2="1465.5" y2="1244.0" stroke="#000" stroke-width="3.6"/>
<line x1="879.0" y1="1204.0" x2="887.5" y2="1204.0" stroke="#000" stroke-width="3.6"/>
<line x1="1475.0" y1="1204.0" x2="1470.4" y2="1204.0" stroke="#000" stroke-width="3.6"/>
<line x1="879.0" y1="1164.0" x2="890.0" y2="1164.0" stroke="#000" stroke-width="3.6"/>
<line x1="1475.0" y1="1164.0" x2="1465.5" y2="1164.0" stroke="#000" stroke-width="3.6"/>
<line x1="879.0" y1="1124.0" x2="887.5" y2="1124.0" stroke="#000" stroke-width="3.6"/>
<line x1="1475.0" y1="1124.0" x2="1470.4" y2="1124.0" stroke="#000" stroke-width="3.6"/>
<line x1="879.0" y1="1084.0" x2="890.0" y2="1084.0" stroke="#000" stroke-width="3.6"/>
<line x1="1475.0" y1="1084.0" x2="1465.5" y2="1084.0" stroke="#000" stroke-width="3.6"/>
<line x1="879.0" y1="1044.0" x2="887.5" y2="1044.0" stroke="#000" stroke-width="3.6"/>
<line x1="1475.0" y1="1044.0" x2="1470.4" y2="1044.0" stroke="#000" stroke-width="3.6"/>
<line x1="879.0" y1="1004.0" x2="890.0" y2="1004.0" stroke="#000" stroke-width="3.6"/>
<line x1="1475.0" y1="1004.0" x2="1465.5" y2="1004.0" stroke="#000" stroke-width="3.6"/>
<text x="0" y="0" font-size="33" text-anchor="end" fill="#000" transform="translate(869.50,1413.89) scale(1.05,1.0)">0.0</text>
<text x="0" y="0" font-size="33" text-anchor="end" fill="#000" transform="translate(869.50,1333.89) scale(1.05,1.0)">0.2</text>
<text x="0" y="0" font-size="33" text-anchor="end" fill="#000" transform="translate(869.50,1253.89) scale(1.05,1.0)">0.4</text>
<text x="0" y="0" font-size="33" text-anchor="end" fill="#000" transform="translate(869.50,1173.89) scale(1.05,1.0)">0.6</text>
<text x="0" y="0" font-size="33" text-anchor="end" fill="#000" transform="translate(869.50,1093.89) scale(1.05,1.0)">0.8</text>
<text x="0" y="0" font-size="33" text-anchor="end" fill="#000" transform="translate(869.50,1013.89) scale(1.05,1.0)">1.0</text>
<text x="0" y="0" font-size="33" text-anchor="middle" fill="#000" transform="translate(876.40,1441.00) scale(1.05,1.0)">-10</text>
<text x="0" y="0" font-size="33" text-anchor="middle" fill="#000" transform="translate(1025.70,1441.00) scale(1.05,1.0)">0</text>
<text x="0" y="0" font-size="33" text-anchor="middle" fill="#000" transform="translate(1175.00,1441.00) scale(1.05,1.0)">10</text>
<text x="0" y="0" font-size="33" text-anchor="middle" fill="#000" transform="translate(1324.30,1441.00) scale(1.05,1.0)">20</text>
<text x="0" y="0" font-size="33" text-anchor="middle" fill="#000" transform="translate(1473.60,1441.00) scale(1.05,1.0)">30</text>
<text x="0" y="0" font-size="45.1" text-anchor="middle" fill="#000" transform="translate(797.90,1190.10) rotate(-90) scale(1.0,1.04)">OLED Intensity (a.u.)</text>
<text x="0" y="0" font-size="42.6" text-anchor="middle" transform="translate(1195.35,1492.0) scale(1.02,1)">Tim<tspan dx="6">e</tspan> (μs)</text>
<text x="0" y="0" font-size="56" text-anchor="middle" fill="#000" transform="translate(936.20,1114.50) scale(1.093,1.0)">(e)</text>
<line x1="1311.5" y1="1060.5" x2="1383.0" y2="1060.5" stroke="#000" stroke-width="3.6"/>
<text x="0" y="0" font-size="32" text-anchor="start" fill="#000" transform="translate(1390.00,1071.06) scale(1.04,1.0)">0 V</text>
<line x1="1311.5" y1="1103.9" x2="1383.0" y2="1103.9" stroke="#b01010" stroke-width="1.6"/>
<text x="0" y="0" font-size="32" text-anchor="start" fill="#000" transform="translate(1390.00,1114.46) scale(1.04,1.0)">-1 V</text>
<line x1="1311.5" y1="1147.3" x2="1383.0" y2="1147.3" stroke="#d88030" stroke-width="3.6"/>
<text x="0" y="0" font-size="32" text-anchor="start" fill="#000" transform="translate(1390.00,1157.86) scale(1.04,1.0)">-2 V</text>
<line x1="1311.5" y1="1190.7" x2="1383.0" y2="1190.7" stroke="#30d040" stroke-width="4.4"/>
<text x="0" y="0" font-size="32" text-anchor="start" fill="#000" transform="translate(1390.00,1201.26) scale(1.04,1.0)">-4 V</text>
<line x1="1311.5" y1="1234.1" x2="1383.0" y2="1234.1" stroke="#000090" stroke-width="3.6"/>
<text x="0" y="0" font-size="32" text-anchor="start" fill="#000" transform="translate(1390.00,1244.66) scale(1.04,1.0)">-6 V</text>
<line x1="1311.5" y1="1277.5" x2="1383.0" y2="1277.5" stroke="#ff00ff" stroke-width="3.6"/>
<text x="0" y="0" font-size="32" text-anchor="start" fill="#000" transform="translate(1390.00,1288.06) scale(1.04,1.0)">-8 V</text>
</svg></body></html>
